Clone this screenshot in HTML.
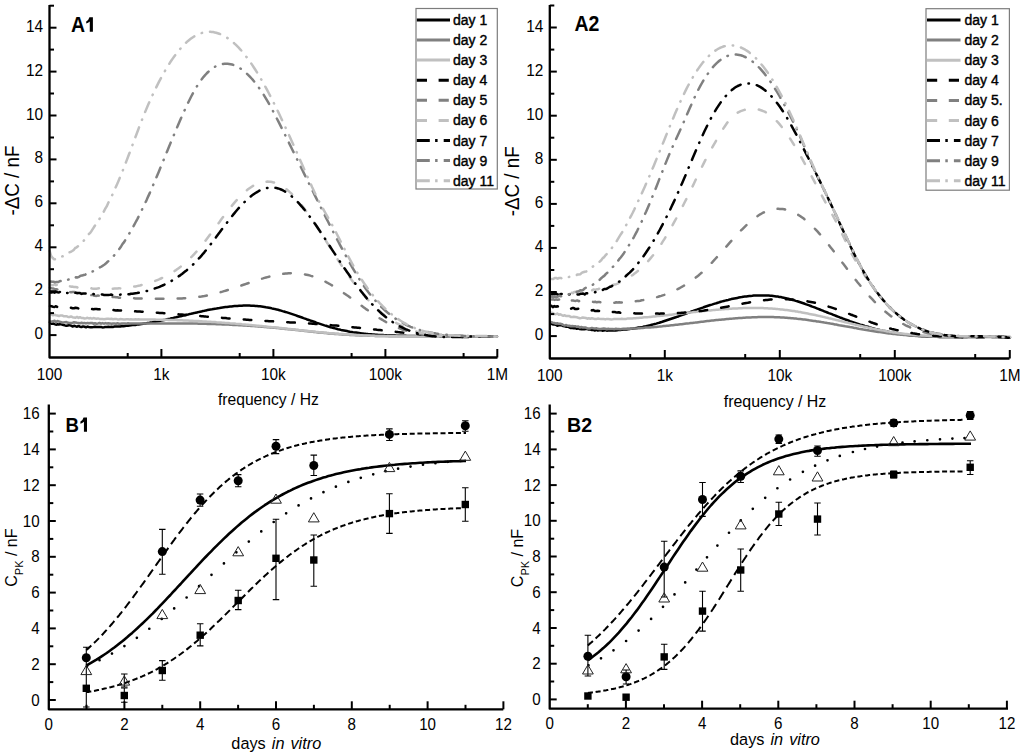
<!DOCTYPE html>
<html><head><meta charset="utf-8"><style>
html,body{margin:0;padding:0;background:#fff;}
svg{display:block;}
text{font-family:"Liberation Sans", sans-serif;}
.lg{stroke:#000; stroke-width:0.4px; paint-order:stroke;}
</style></head><body>
<svg width="1024" height="755" viewBox="0 0 1024 755" font-family='"Liberation Sans", sans-serif' fill="#000">
<rect width="1024" height="755" fill="#fff"/>
<path d="M50.0,322.4 L51.5,323.7 L53.0,323.4 L54.5,324.1 L56.0,324.7 L57.5,324.3 L59.0,324.4 L60.5,324.1 L62.0,324.5 L63.5,325.0 L65.0,325.4 L66.5,325.7 L68.0,325.4 L69.5,325.1 L71.0,325.6 L72.5,326.5 L74.0,325.8 L75.5,326.2 L77.0,326.8 L78.5,325.9 L80.0,326.7 L81.5,327.1 L83.0,326.4 L84.5,326.8 L86.0,327.3 L87.5,326.6 L89.0,327.0 L90.5,327.3 L92.0,327.2 L93.5,327.1 L95.0,326.8 L96.5,327.1 L98.0,327.0 L99.5,327.1 L101.0,327.0 L102.5,327.4 L104.0,327.3 L105.5,326.9 L107.0,327.1 L108.5,326.8 L110.0,326.9 L111.5,326.7 L113.0,326.9 L114.5,326.6 L116.0,326.6 L117.5,326.6 L119.0,326.4 L120.5,326.5 L122.0,326.0 L123.5,326.2 L125.0,325.9 L126.5,325.8 L128.0,325.7 L129.5,325.5 L131.0,325.3 L132.5,325.0 L134.0,324.9 L135.5,324.9 L137.0,324.6 L138.5,324.5 L140.0,324.3 L141.5,324.1 L143.0,323.7 L144.5,323.5 L146.0,323.4 L147.5,323.0 L149.0,322.9 L150.5,322.6 L152.0,322.4 L153.5,322.1 L155.0,321.8 L156.5,321.5 L158.0,321.2 L159.5,320.9 L161.0,320.6 L162.5,320.3 L164.0,320.0 L165.5,319.7 L167.0,319.3 L168.5,319.0 L170.0,318.7 L171.5,318.3 L173.0,318.0 L174.5,317.6 L176.0,317.3 L177.5,316.9 L179.0,316.6 L180.5,316.2 L182.0,315.9 L183.5,315.5 L185.0,315.2 L186.5,314.8 L188.0,314.5 L189.5,314.1 L191.0,313.8 L192.5,313.4 L194.0,313.1 L195.5,312.7 L197.0,312.4 L198.5,312.1 L200.0,311.7 L201.5,311.4 L203.0,311.1 L204.5,310.8 L206.0,310.4 L207.5,310.1 L209.0,309.8 L210.5,309.5 L212.0,309.3 L213.5,309.0 L215.0,308.7 L216.5,308.5 L218.0,308.2 L219.5,308.0 L221.0,307.7 L222.5,307.5 L224.0,307.3 L225.5,307.1 L227.0,306.9 L228.5,306.7 L230.0,306.5 L231.5,306.4 L233.0,306.2 L234.5,306.1 L236.0,306.0 L237.5,305.9 L239.0,305.8 L240.5,305.7 L242.0,305.7 L243.5,305.6 L245.0,305.6 L246.5,305.6 L248.0,305.6 L249.5,305.6 L251.0,305.7 L252.5,305.8 L254.0,305.8 L255.5,305.9 L257.0,306.0 L258.5,306.2 L260.0,306.3 L261.5,306.5 L263.0,306.7 L264.5,306.9 L266.0,307.2 L267.5,307.4 L269.0,307.7 L270.5,308.0 L272.0,308.4 L273.5,308.7 L275.0,309.1 L276.5,309.4 L278.0,309.8 L279.5,310.2 L281.0,310.6 L282.5,311.1 L284.0,311.5 L285.5,312.0 L287.0,312.4 L288.5,312.9 L290.0,313.4 L291.5,313.9 L293.0,314.4 L294.5,314.9 L296.0,315.4 L297.5,316.0 L299.0,316.5 L300.5,317.0 L302.0,317.5 L303.5,318.1 L305.0,318.6 L306.5,319.2 L308.0,319.7 L309.5,320.2 L311.0,320.8 L312.5,321.3 L314.0,321.8 L315.5,322.3 L317.0,322.9 L318.5,323.4 L320.0,323.9 L321.5,324.4 L323.0,324.9 L324.5,325.4 L326.0,325.8 L327.5,326.3 L329.0,326.7 L330.5,327.2 L332.0,327.6 L333.5,328.0 L335.0,328.4 L336.5,328.8 L338.0,329.2 L339.5,329.5 L341.0,329.9 L342.5,330.2 L344.0,330.5 L345.5,330.8 L347.0,331.1 L348.5,331.4 L350.0,331.7 L351.5,331.9 L353.0,332.2 L354.5,332.4 L356.0,332.6 L357.5,332.8 L359.0,333.0 L360.5,333.2 L362.0,333.4 L363.5,333.6 L365.0,333.7 L366.5,333.9 L368.0,334.1 L369.5,334.2 L371.0,334.3 L372.5,334.5 L374.0,334.6 L375.5,334.7 L377.0,334.8 L378.5,334.9 L380.0,335.0 L381.5,335.1 L383.0,335.1 L384.5,335.2 L386.0,335.3 L387.5,335.4 L389.0,335.4 L390.5,335.5 L392.0,335.5 L393.5,335.6 L395.0,335.6 L396.5,335.7 L398.0,335.7 L399.5,335.7 L401.0,335.8 L402.5,335.8 L404.0,335.8 L405.5,335.8 L407.0,335.9 L408.5,335.9 L410.0,335.9 L411.5,335.9 L413.0,335.9 L414.5,335.9 L416.0,335.9 L417.5,335.9 L419.0,335.9 L420.5,335.9 L422.0,335.9 L423.5,336.0 L425.0,336.0 L426.5,336.0 L428.0,336.0 L429.5,336.0 L431.0,336.0 L432.5,336.0 L434.0,336.0 L435.5,336.0 L437.0,336.0 L438.5,336.0 L440.0,336.0 L441.5,336.0 L443.0,336.0 L444.5,336.0 L446.0,336.0 L447.5,336.0 L449.0,336.0 L450.5,336.0 L452.0,336.0 L453.5,336.0 L455.0,336.1 L456.5,336.1 L458.0,336.1 L459.5,336.1 L461.0,336.1 L462.5,336.1 L464.0,336.2 L465.5,336.2 L467.0,336.2 L468.5,336.2 L470.0,336.2 L471.5,336.3 L473.0,336.3 L474.5,336.3 L476.0,336.3 L477.5,336.3 L479.0,336.4 L480.5,336.4 L482.0,336.4 L483.5,336.4 L485.0,336.5 L486.5,336.5 L488.0,336.5 L489.5,336.5 L491.0,336.5 L492.5,336.6 L494.0,336.6 L495.5,336.6 L497.0,336.6" fill="none" stroke="#000" stroke-width="2.5" stroke-linejoin="round" stroke-linecap="round"/>
<path d="M50.0,321.4 L51.5,321.8 L53.0,321.3 L54.5,320.7 L56.0,322.3 L57.5,321.0 L59.0,321.6 L60.5,321.9 L62.0,322.5 L63.5,322.5 L65.0,322.3 L66.5,322.1 L68.0,322.8 L69.5,322.9 L71.0,323.0 L72.5,322.9 L74.0,322.2 L75.5,322.5 L77.0,322.8 L78.5,322.9 L80.0,323.3 L81.5,322.7 L83.0,323.2 L84.5,322.9 L86.0,323.4 L87.5,322.9 L89.0,323.2 L90.5,322.9 L92.0,323.0 L93.5,323.7 L95.0,323.2 L96.5,323.7 L98.0,323.4 L99.5,323.0 L101.0,323.7 L102.5,323.1 L104.0,323.7 L105.5,323.1 L107.0,323.6 L108.5,323.3 L110.0,323.4 L111.5,323.8 L113.0,323.5 L114.5,323.6 L116.0,323.7 L117.5,323.3 L119.0,323.7 L120.5,323.8 L122.0,323.4 L123.5,323.6 L125.0,323.4 L126.5,323.7 L128.0,323.3 L129.5,323.5 L131.0,323.6 L132.5,323.6 L134.0,323.4 L135.5,323.6 L137.0,323.4 L138.5,323.6 L140.0,323.5 L141.5,323.4 L143.0,323.5 L144.5,323.5 L146.0,323.5 L147.5,323.5 L149.0,323.4 L150.5,323.4 L152.0,323.4 L153.5,323.4 L155.0,323.4 L156.5,323.4 L158.0,323.4 L159.5,323.4 L161.0,323.4 L162.5,323.4 L164.0,323.4 L165.5,323.4 L167.0,323.4 L168.5,323.4 L170.0,323.4 L171.5,323.4 L173.0,323.4 L174.5,323.4 L176.0,323.4 L177.5,323.4 L179.0,323.4 L180.5,323.4 L182.0,323.4 L183.5,323.4 L185.0,323.5 L186.5,323.5 L188.0,323.5 L189.5,323.5 L191.0,323.5 L192.5,323.6 L194.0,323.6 L195.5,323.6 L197.0,323.6 L198.5,323.7 L200.0,323.7 L201.5,323.7 L203.0,323.8 L204.5,323.8 L206.0,323.8 L207.5,323.9 L209.0,323.9 L210.5,324.0 L212.0,324.0 L213.5,324.1 L215.0,324.1 L216.5,324.2 L218.0,324.2 L219.5,324.3 L221.0,324.3 L222.5,324.4 L224.0,324.4 L225.5,324.5 L227.0,324.6 L228.5,324.6 L230.0,324.7 L231.5,324.8 L233.0,324.9 L234.5,324.9 L236.0,325.0 L237.5,325.1 L239.0,325.2 L240.5,325.3 L242.0,325.3 L243.5,325.4 L245.0,325.5 L246.5,325.6 L248.0,325.7 L249.5,325.8 L251.0,325.9 L252.5,326.0 L254.0,326.1 L255.5,326.2 L257.0,326.3 L258.5,326.4 L260.0,326.5 L261.5,326.7 L263.0,326.8 L264.5,326.9 L266.0,327.0 L267.5,327.2 L269.0,327.3 L270.5,327.4 L272.0,327.5 L273.5,327.7 L275.0,327.8 L276.5,328.0 L278.0,328.1 L279.5,328.3 L281.0,328.4 L282.5,328.6 L284.0,328.7 L285.5,328.9 L287.0,329.0 L288.5,329.2 L290.0,329.3 L291.5,329.5 L293.0,329.7 L294.5,329.8 L296.0,330.0 L297.5,330.1 L299.0,330.3 L300.5,330.5 L302.0,330.6 L303.5,330.8 L305.0,331.0 L306.5,331.1 L308.0,331.3 L309.5,331.4 L311.0,331.6 L312.5,331.8 L314.0,331.9 L315.5,332.1 L317.0,332.2 L318.5,332.4 L320.0,332.5 L321.5,332.7 L323.0,332.8 L324.5,333.0 L326.0,333.1 L327.5,333.2 L329.0,333.4 L330.5,333.5 L332.0,333.6 L333.5,333.7 L335.0,333.9 L336.5,334.0 L338.0,334.1 L339.5,334.2 L341.0,334.3 L342.5,334.4 L344.0,334.5 L345.5,334.6 L347.0,334.7 L348.5,334.8 L350.0,334.9 L351.5,334.9 L353.0,335.0 L354.5,335.1 L356.0,335.2 L357.5,335.2 L359.0,335.3 L360.5,335.4 L362.0,335.4 L363.5,335.5 L365.0,335.6 L366.5,335.6 L368.0,335.7 L369.5,335.7 L371.0,335.8 L372.5,335.8 L374.0,335.8 L375.5,335.9 L377.0,335.9 L378.5,336.0 L380.0,336.0 L381.5,336.0 L383.0,336.1 L384.5,336.1 L386.0,336.1 L387.5,336.1 L389.0,336.2 L390.5,336.2 L392.0,336.2 L393.5,336.2 L395.0,336.2 L396.5,336.2 L398.0,336.3 L399.5,336.3 L401.0,336.3 L402.5,336.3 L404.0,336.3 L405.5,336.3 L407.0,336.3 L408.5,336.3 L410.0,336.3 L411.5,336.3 L413.0,336.3 L414.5,336.3 L416.0,336.3 L417.5,336.3 L419.0,336.3 L420.5,336.3 L422.0,336.3 L423.5,336.3 L425.0,336.3 L426.5,336.3 L428.0,336.3 L429.5,336.3 L431.0,336.3 L432.5,336.3 L434.0,336.3 L435.5,336.3 L437.0,336.3 L438.5,336.3 L440.0,336.3 L441.5,336.3 L443.0,336.3 L444.5,336.3 L446.0,336.2 L447.5,336.2 L449.0,336.2 L450.5,336.2 L452.0,336.2 L453.5,336.2 L455.0,336.2 L456.5,336.2 L458.0,336.2 L459.5,336.2 L461.0,336.2 L462.5,336.2 L464.0,336.2 L465.5,336.2 L467.0,336.3 L468.5,336.3 L470.0,336.3 L471.5,336.3 L473.0,336.3 L474.5,336.3 L476.0,336.3 L477.5,336.3 L479.0,336.3 L480.5,336.4 L482.0,336.4 L483.5,336.4 L485.0,336.4 L486.5,336.5 L488.0,336.5 L489.5,336.5 L491.0,336.5 L492.5,336.6 L494.0,336.6 L495.5,336.6 L497.0,336.7" fill="none" stroke="#808080" stroke-width="2.5" stroke-linejoin="round" stroke-linecap="round"/>
<path d="M50.0,313.7 L51.5,314.5 L53.0,315.3 L54.5,314.7 L56.0,315.2 L57.5,315.5 L59.0,316.1 L60.5,315.4 L62.0,315.4 L63.5,316.2 L65.0,316.2 L66.5,316.2 L68.0,317.0 L69.5,317.0 L71.0,316.5 L72.5,317.2 L74.0,317.6 L75.5,317.8 L77.0,316.9 L78.5,317.9 L80.0,317.2 L81.5,318.0 L83.0,318.0 L84.5,318.5 L86.0,318.2 L87.5,317.8 L89.0,318.4 L90.5,318.1 L92.0,318.7 L93.5,318.1 L95.0,318.4 L96.5,318.8 L98.0,318.4 L99.5,318.9 L101.0,318.9 L102.5,319.0 L104.0,319.2 L105.5,318.9 L107.0,318.7 L108.5,318.8 L110.0,319.0 L111.5,318.8 L113.0,319.2 L114.5,318.9 L116.0,318.9 L117.5,319.4 L119.0,319.4 L120.5,319.1 L122.0,319.2 L123.5,319.4 L125.0,319.4 L126.5,319.2 L128.0,319.3 L129.5,319.5 L131.0,319.2 L132.5,319.6 L134.0,319.4 L135.5,319.3 L137.0,319.5 L138.5,319.3 L140.0,319.4 L141.5,319.5 L143.0,319.4 L144.5,319.6 L146.0,319.5 L147.5,319.5 L149.0,319.5 L150.5,319.5 L152.0,319.6 L153.5,319.6 L155.0,319.6 L156.5,319.7 L158.0,319.7 L159.5,319.7 L161.0,319.7 L162.5,319.7 L164.0,319.8 L165.5,319.8 L167.0,319.8 L168.5,319.9 L170.0,319.9 L171.5,320.0 L173.0,320.0 L174.5,320.1 L176.0,320.1 L177.5,320.2 L179.0,320.2 L180.5,320.3 L182.0,320.3 L183.5,320.4 L185.0,320.5 L186.5,320.5 L188.0,320.6 L189.5,320.7 L191.0,320.7 L192.5,320.8 L194.0,320.9 L195.5,321.0 L197.0,321.0 L198.5,321.1 L200.0,321.2 L201.5,321.3 L203.0,321.4 L204.5,321.5 L206.0,321.6 L207.5,321.7 L209.0,321.7 L210.5,321.8 L212.0,321.9 L213.5,322.0 L215.0,322.1 L216.5,322.3 L218.0,322.4 L219.5,322.5 L221.0,322.6 L222.5,322.7 L224.0,322.8 L225.5,322.9 L227.0,323.0 L228.5,323.1 L230.0,323.3 L231.5,323.4 L233.0,323.5 L234.5,323.6 L236.0,323.8 L237.5,323.9 L239.0,324.0 L240.5,324.1 L242.0,324.3 L243.5,324.4 L245.0,324.5 L246.5,324.7 L248.0,324.8 L249.5,325.0 L251.0,325.1 L252.5,325.2 L254.0,325.4 L255.5,325.5 L257.0,325.7 L258.5,325.8 L260.0,326.0 L261.5,326.1 L263.0,326.3 L264.5,326.4 L266.0,326.6 L267.5,326.7 L269.0,326.9 L270.5,327.0 L272.0,327.2 L273.5,327.3 L275.0,327.5 L276.5,327.6 L278.0,327.8 L279.5,328.0 L281.0,328.1 L282.5,328.3 L284.0,328.5 L285.5,328.6 L287.0,328.8 L288.5,328.9 L290.0,329.1 L291.5,329.3 L293.0,329.4 L294.5,329.6 L296.0,329.8 L297.5,329.9 L299.0,330.1 L300.5,330.2 L302.0,330.4 L303.5,330.6 L305.0,330.7 L306.5,330.9 L308.0,331.0 L309.5,331.2 L311.0,331.3 L312.5,331.5 L314.0,331.6 L315.5,331.8 L317.0,331.9 L318.5,332.1 L320.0,332.2 L321.5,332.4 L323.0,332.5 L324.5,332.7 L326.0,332.8 L327.5,332.9 L329.0,333.1 L330.5,333.2 L332.0,333.3 L333.5,333.4 L335.0,333.6 L336.5,333.7 L338.0,333.8 L339.5,333.9 L341.0,334.0 L342.5,334.1 L344.0,334.2 L345.5,334.3 L347.0,334.4 L348.5,334.5 L350.0,334.6 L351.5,334.7 L353.0,334.8 L354.5,334.9 L356.0,335.0 L357.5,335.1 L359.0,335.1 L360.5,335.2 L362.0,335.3 L363.5,335.4 L365.0,335.4 L366.5,335.5 L368.0,335.6 L369.5,335.6 L371.0,335.7 L372.5,335.8 L374.0,335.8 L375.5,335.9 L377.0,335.9 L378.5,336.0 L380.0,336.0 L381.5,336.0 L383.0,336.1 L384.5,336.1 L386.0,336.2 L387.5,336.2 L389.0,336.2 L390.5,336.2 L392.0,336.3 L393.5,336.3 L395.0,336.3 L396.5,336.3 L398.0,336.4 L399.5,336.4 L401.0,336.4 L402.5,336.4 L404.0,336.4 L405.5,336.4 L407.0,336.4 L408.5,336.4 L410.0,336.4 L411.5,336.4 L413.0,336.5 L414.5,336.5 L416.0,336.5 L417.5,336.5 L419.0,336.5 L420.5,336.5 L422.0,336.4 L423.5,336.4 L425.0,336.4 L426.5,336.4 L428.0,336.4 L429.5,336.4 L431.0,336.4 L432.5,336.4 L434.0,336.4 L435.5,336.4 L437.0,336.4 L438.5,336.4 L440.0,336.4 L441.5,336.4 L443.0,336.3 L444.5,336.3 L446.0,336.3 L447.5,336.3 L449.0,336.3 L450.5,336.3 L452.0,336.3 L453.5,336.3 L455.0,336.3 L456.5,336.3 L458.0,336.3 L459.5,336.3 L461.0,336.3 L462.5,336.3 L464.0,336.3 L465.5,336.3 L467.0,336.3 L468.5,336.3 L470.0,336.3 L471.5,336.3 L473.0,336.3 L474.5,336.3 L476.0,336.3 L477.5,336.3 L479.0,336.3 L480.5,336.3 L482.0,336.3 L483.5,336.4 L485.0,336.4 L486.5,336.4 L488.0,336.4 L489.5,336.4 L491.0,336.5 L492.5,336.5 L494.0,336.5 L495.5,336.5 L497.0,336.6" fill="none" stroke="#c0c0c0" stroke-width="2.5" stroke-linejoin="round" stroke-linecap="round"/>
<path d="M50.0,306.1 L51.5,306.3 L53.0,306.7 L54.5,307.0 L56.0,306.2 L57.5,307.1 L59.0,307.4 L60.5,307.5 L62.0,307.1 L63.5,307.7 L65.0,307.4 L66.5,307.1 L68.0,307.3 L69.5,307.8 L71.0,307.8 L72.5,308.2 L74.0,308.2 L75.5,307.7 L77.0,308.0 L78.5,308.5 L80.0,308.2 L81.5,308.1 L83.0,308.9 L84.5,308.5 L86.0,308.4 L87.5,308.7 L89.0,308.6 L90.5,308.6 L92.0,309.1 L93.5,309.3 L95.0,309.0 L96.5,308.9 L98.0,309.2 L99.5,309.3 L101.0,309.4 L102.5,309.3 L104.0,309.8 L105.5,309.5 L107.0,309.4 L108.5,310.0 L110.0,310.1 L111.5,309.8 L113.0,309.9 L114.5,310.2 L116.0,310.5 L117.5,310.2 L119.0,310.4 L120.5,310.4 L122.0,310.7 L123.5,310.6 L125.0,310.7 L126.5,310.9 L128.0,310.9 L129.5,310.9 L131.0,311.0 L132.5,311.3 L134.0,311.4 L135.5,311.3 L137.0,311.5 L138.5,311.4 L140.0,311.6 L141.5,311.8 L143.0,311.7 L144.5,312.0 L146.0,312.1 L147.5,312.1 L149.0,312.2 L150.5,312.2 L152.0,312.4 L153.5,312.5 L155.0,312.6 L156.5,312.7 L158.0,312.8 L159.5,312.9 L161.0,313.0 L162.5,313.1 L164.0,313.2 L165.5,313.3 L167.0,313.5 L168.5,313.6 L170.0,313.7 L171.5,313.8 L173.0,313.9 L174.5,314.0 L176.0,314.1 L177.5,314.3 L179.0,314.4 L180.5,314.5 L182.0,314.6 L183.5,314.7 L185.0,314.9 L186.5,315.0 L188.0,315.1 L189.5,315.2 L191.0,315.3 L192.5,315.5 L194.0,315.6 L195.5,315.7 L197.0,315.8 L198.5,315.9 L200.0,316.1 L201.5,316.2 L203.0,316.3 L204.5,316.4 L206.0,316.6 L207.5,316.7 L209.0,316.8 L210.5,316.9 L212.0,317.1 L213.5,317.2 L215.0,317.3 L216.5,317.4 L218.0,317.5 L219.5,317.7 L221.0,317.8 L222.5,317.9 L224.0,318.0 L225.5,318.1 L227.0,318.3 L228.5,318.4 L230.0,318.5 L231.5,318.6 L233.0,318.7 L234.5,318.8 L236.0,318.9 L237.5,319.1 L239.0,319.2 L240.5,319.3 L242.0,319.4 L243.5,319.5 L245.0,319.6 L246.5,319.7 L248.0,319.8 L249.5,319.9 L251.0,320.0 L252.5,320.1 L254.0,320.2 L255.5,320.3 L257.0,320.4 L258.5,320.5 L260.0,320.6 L261.5,320.7 L263.0,320.8 L264.5,320.9 L266.0,321.0 L267.5,321.1 L269.0,321.2 L270.5,321.3 L272.0,321.3 L273.5,321.4 L275.0,321.5 L276.5,321.6 L278.0,321.7 L279.5,321.8 L281.0,321.8 L282.5,321.9 L284.0,322.0 L285.5,322.1 L287.0,322.2 L288.5,322.3 L290.0,322.4 L291.5,322.4 L293.0,322.5 L294.5,322.6 L296.0,322.7 L297.5,322.8 L299.0,322.9 L300.5,323.0 L302.0,323.1 L303.5,323.2 L305.0,323.2 L306.5,323.3 L308.0,323.4 L309.5,323.5 L311.0,323.6 L312.5,323.7 L314.0,323.8 L315.5,324.0 L317.0,324.1 L318.5,324.2 L320.0,324.3 L321.5,324.4 L323.0,324.5 L324.5,324.6 L326.0,324.8 L327.5,324.9 L329.0,325.0 L330.5,325.1 L332.0,325.3 L333.5,325.4 L335.0,325.5 L336.5,325.6 L338.0,325.8 L339.5,325.9 L341.0,326.1 L342.5,326.2 L344.0,326.3 L345.5,326.5 L347.0,326.6 L348.5,326.8 L350.0,326.9 L351.5,327.1 L353.0,327.2 L354.5,327.4 L356.0,327.5 L357.5,327.7 L359.0,327.8 L360.5,328.0 L362.0,328.1 L363.5,328.3 L365.0,328.5 L366.5,328.6 L368.0,328.8 L369.5,328.9 L371.0,329.1 L372.5,329.3 L374.0,329.4 L375.5,329.6 L377.0,329.8 L378.5,329.9 L380.0,330.1 L381.5,330.3 L383.0,330.4 L384.5,330.6 L386.0,330.8 L387.5,330.9 L389.0,331.1 L390.5,331.3 L392.0,331.4 L393.5,331.6 L395.0,331.8 L396.5,331.9 L398.0,332.1 L399.5,332.2 L401.0,332.4 L402.5,332.6 L404.0,332.7 L405.5,332.9 L407.0,333.0 L408.5,333.2 L410.0,333.4 L411.5,333.5 L413.0,333.7 L414.5,333.8 L416.0,333.9 L417.5,334.1 L419.0,334.2 L420.5,334.4 L422.0,334.5 L423.5,334.6 L425.0,334.8 L426.5,334.9 L428.0,335.0 L429.5,335.2 L431.0,335.3 L432.5,335.4 L434.0,335.5 L435.5,335.6 L437.0,335.7 L438.5,335.8 L440.0,335.9 L441.5,336.0 L443.0,336.1 L444.5,336.2 L446.0,336.3 L447.5,336.3 L449.0,336.4 L450.5,336.5 L452.0,336.6 L453.5,336.6 L455.0,336.7 L456.5,336.7 L458.0,336.8 L459.5,336.8 L461.0,336.8 L462.5,336.9 L464.0,336.9 L465.5,336.9 L467.0,336.9 L468.5,336.9 L470.0,336.9 L471.5,336.9 L473.0,336.9 L474.5,336.9 L476.0,336.9 L477.5,336.8 L479.0,336.8 L480.5,336.7 L482.0,336.7 L483.5,336.6 L485.0,336.6 L486.5,336.5 L488.0,336.4 L489.5,336.3 L491.0,336.2 L492.5,336.1 L494.0,336.0 L495.5,335.9 L497.0,335.8" fill="none" stroke="#000" stroke-width="2.5" stroke-dasharray="7.6 14.2" stroke-linejoin="round" stroke-linecap="round"/>
<path d="M50.0,287.7 L51.5,288.2 L53.0,288.5 L54.5,288.9 L56.0,289.2 L57.5,289.6 L59.0,289.4 L60.5,290.5 L62.0,290.2 L63.5,290.2 L65.0,291.5 L66.5,290.8 L68.0,291.3 L69.5,291.9 L71.0,292.3 L72.5,292.0 L74.0,291.9 L75.5,292.8 L77.0,293.1 L78.5,293.5 L80.0,293.2 L81.5,294.0 L83.0,294.2 L84.5,294.5 L86.0,294.6 L87.5,294.7 L89.0,294.8 L90.5,295.3 L92.0,294.9 L93.5,295.4 L95.0,295.7 L96.5,295.9 L98.0,295.5 L99.5,295.8 L101.0,296.5 L102.5,296.5 L104.0,296.1 L105.5,296.5 L107.0,296.9 L108.5,297.1 L110.0,296.9 L111.5,296.8 L113.0,297.0 L114.5,297.0 L116.0,297.2 L117.5,297.2 L119.0,297.7 L120.5,297.8 L122.0,297.7 L123.5,298.0 L125.0,297.7 L126.5,297.8 L128.0,298.1 L129.5,298.1 L131.0,298.0 L132.5,298.4 L134.0,298.3 L135.5,298.4 L137.0,298.4 L138.5,298.5 L140.0,298.4 L141.5,298.5 L143.0,298.6 L144.5,298.6 L146.0,298.6 L147.5,298.6 L149.0,298.7 L150.5,298.8 L152.0,298.8 L153.5,298.8 L155.0,298.7 L156.5,298.8 L158.0,298.8 L159.5,298.8 L161.0,298.8 L162.5,298.8 L164.0,298.8 L165.5,298.8 L167.0,298.8 L168.5,298.8 L170.0,298.8 L171.5,298.8 L173.0,298.7 L174.5,298.7 L176.0,298.7 L177.5,298.6 L179.0,298.6 L180.5,298.5 L182.0,298.4 L183.5,298.3 L185.0,298.3 L186.5,298.2 L188.0,298.0 L189.5,297.9 L191.0,297.8 L192.5,297.6 L194.0,297.5 L195.5,297.3 L197.0,297.1 L198.5,296.9 L200.0,296.7 L201.5,296.5 L203.0,296.2 L204.5,296.0 L206.0,295.7 L207.5,295.4 L209.0,295.1 L210.5,294.7 L212.0,294.4 L213.5,294.0 L215.0,293.7 L216.5,293.3 L218.0,292.9 L219.5,292.4 L221.0,292.0 L222.5,291.6 L224.0,291.1 L225.5,290.7 L227.0,290.2 L228.5,289.8 L230.0,289.3 L231.5,288.8 L233.0,288.3 L234.5,287.8 L236.0,287.3 L237.5,286.8 L239.0,286.3 L240.5,285.8 L242.0,285.3 L243.5,284.8 L245.0,284.3 L246.5,283.7 L248.0,283.2 L249.5,282.7 L251.0,282.2 L252.5,281.7 L254.0,281.2 L255.5,280.7 L257.0,280.2 L258.5,279.8 L260.0,279.3 L261.5,278.8 L263.0,278.4 L264.5,277.9 L266.0,277.5 L267.5,277.1 L269.0,276.7 L270.5,276.3 L272.0,275.9 L273.5,275.6 L275.0,275.3 L276.5,275.0 L278.0,274.7 L279.5,274.4 L281.0,274.2 L282.5,273.9 L284.0,273.8 L285.5,273.6 L287.0,273.5 L288.5,273.3 L290.0,273.3 L291.5,273.2 L293.0,273.2 L294.5,273.2 L296.0,273.3 L297.5,273.4 L299.0,273.5 L300.5,273.6 L302.0,273.8 L303.5,274.1 L305.0,274.4 L306.5,274.7 L308.0,275.0 L309.5,275.4 L311.0,275.9 L312.5,276.3 L314.0,276.8 L315.5,277.4 L317.0,277.9 L318.5,278.5 L320.0,279.2 L321.5,279.8 L323.0,280.5 L324.5,281.3 L326.0,282.0 L327.5,282.8 L329.0,283.7 L330.5,284.5 L332.0,285.4 L333.5,286.3 L335.0,287.2 L336.5,288.2 L338.0,289.1 L339.5,290.1 L341.0,291.1 L342.5,292.1 L344.0,293.2 L345.5,294.2 L347.0,295.3 L348.5,296.3 L350.0,297.4 L351.5,298.5 L353.0,299.6 L354.5,300.7 L356.0,301.7 L357.5,302.8 L359.0,303.9 L360.5,305.0 L362.0,306.1 L363.5,307.2 L365.0,308.3 L366.5,309.4 L368.0,310.4 L369.5,311.5 L371.0,312.5 L372.5,313.5 L374.0,314.6 L375.5,315.6 L377.0,316.5 L378.5,317.5 L380.0,318.5 L381.5,319.4 L383.0,320.3 L384.5,321.2 L386.0,322.0 L387.5,322.8 L389.0,323.6 L390.5,324.4 L392.0,325.1 L393.5,325.8 L395.0,326.5 L396.5,327.2 L398.0,327.8 L399.5,328.4 L401.0,328.9 L402.5,329.5 L404.0,330.0 L405.5,330.5 L407.0,330.9 L408.5,331.4 L410.0,331.8 L411.5,332.2 L413.0,332.6 L414.5,332.9 L416.0,333.2 L417.5,333.6 L419.0,333.8 L420.5,334.1 L422.0,334.4 L423.5,334.6 L425.0,334.8 L426.5,335.0 L428.0,335.2 L429.5,335.4 L431.0,335.5 L432.5,335.7 L434.0,335.8 L435.5,335.9 L437.0,336.0 L438.5,336.1 L440.0,336.2 L441.5,336.2 L443.0,336.3 L444.5,336.4 L446.0,336.4 L447.5,336.4 L449.0,336.4 L450.5,336.5 L452.0,336.5 L453.5,336.5 L455.0,336.5 L456.5,336.5 L458.0,336.4 L459.5,336.4 L461.0,336.4 L462.5,336.4 L464.0,336.4 L465.5,336.4 L467.0,336.3 L468.5,336.3 L470.0,336.3 L471.5,336.3 L473.0,336.2 L474.5,336.2 L476.0,336.2 L477.5,336.2 L479.0,336.2 L480.5,336.2 L482.0,336.2 L483.5,336.2 L485.0,336.2 L486.5,336.2 L488.0,336.3 L489.5,336.3 L491.0,336.4 L492.5,336.4 L494.0,336.5 L495.5,336.6 L497.0,336.7" fill="none" stroke="#808080" stroke-width="2.5" stroke-dasharray="7.6 14.2" stroke-linejoin="round" stroke-linecap="round"/>
<path d="M50.0,284.2 L51.5,285.1 L53.0,285.2 L54.5,284.3 L56.0,285.2 L57.5,284.6 L59.0,285.9 L60.5,285.1 L62.0,285.7 L63.5,285.7 L65.0,285.9 L66.5,285.7 L68.0,286.1 L69.5,286.1 L71.0,286.7 L72.5,286.6 L74.0,287.0 L75.5,287.0 L77.0,287.3 L78.5,287.8 L80.0,287.5 L81.5,287.6 L83.0,287.8 L84.5,287.9 L86.0,287.8 L87.5,287.8 L89.0,288.2 L90.5,288.0 L92.0,288.5 L93.5,288.8 L95.0,288.8 L96.5,288.8 L98.0,288.4 L99.5,288.3 L101.0,288.5 L102.5,288.8 L104.0,288.5 L105.5,288.5 L107.0,289.2 L108.5,288.7 L110.0,288.5 L111.5,288.8 L113.0,288.8 L114.5,288.6 L116.0,288.4 L117.5,288.5 L119.0,288.2 L120.5,288.4 L122.0,288.4 L123.5,287.8 L125.0,287.9 L126.5,287.9 L128.0,287.6 L129.5,287.2 L131.0,287.0 L132.5,286.9 L134.0,286.5 L135.5,286.5 L137.0,286.1 L138.5,285.7 L140.0,285.5 L141.5,285.0 L143.0,284.7 L144.5,284.3 L146.0,283.9 L147.5,283.6 L149.0,283.1 L150.5,282.5 L152.0,282.1 L153.5,281.5 L155.0,281.0 L156.5,280.4 L158.0,279.8 L159.5,279.2 L161.0,278.5 L162.5,277.8 L164.0,277.1 L165.5,276.4 L167.0,275.6 L168.5,274.7 L170.0,273.9 L171.5,273.0 L173.0,272.0 L174.5,271.1 L176.0,270.1 L177.5,269.0 L179.0,267.9 L180.5,266.8 L182.0,265.6 L183.5,264.3 L185.0,263.0 L186.5,261.7 L188.0,260.3 L189.5,258.9 L191.0,257.4 L192.5,255.9 L194.0,254.3 L195.5,252.7 L197.0,251.0 L198.5,249.3 L200.0,247.5 L201.5,245.7 L203.0,243.8 L204.5,241.9 L206.0,240.0 L207.5,238.0 L209.0,236.0 L210.5,234.0 L212.0,232.0 L213.5,230.0 L215.0,228.0 L216.5,225.9 L218.0,223.9 L219.5,221.9 L221.0,219.8 L222.5,217.8 L224.0,215.8 L225.5,213.9 L227.0,211.9 L228.5,210.0 L230.0,208.1 L231.5,206.2 L233.0,204.4 L234.5,202.6 L236.0,200.9 L237.5,199.3 L239.0,197.6 L240.5,196.1 L242.0,194.6 L243.5,193.2 L245.0,191.8 L246.5,190.5 L248.0,189.3 L249.5,188.2 L251.0,187.2 L252.5,186.2 L254.0,185.4 L255.5,184.6 L257.0,183.9 L258.5,183.3 L260.0,182.8 L261.5,182.4 L263.0,182.1 L264.5,181.8 L266.0,181.7 L267.5,181.6 L269.0,181.7 L270.5,181.8 L272.0,182.1 L273.5,182.4 L275.0,182.8 L276.5,183.3 L278.0,183.9 L279.5,184.7 L281.0,185.5 L282.5,186.4 L284.0,187.4 L285.5,188.5 L287.0,189.7 L288.5,190.9 L290.0,192.3 L291.5,193.7 L293.0,195.2 L294.5,196.8 L296.0,198.4 L297.5,200.1 L299.0,201.9 L300.5,203.7 L302.0,205.6 L303.5,207.5 L305.0,209.5 L306.5,211.6 L308.0,213.6 L309.5,215.7 L311.0,217.9 L312.5,220.1 L314.0,222.3 L315.5,224.6 L317.0,226.8 L318.5,229.1 L320.0,231.4 L321.5,233.8 L323.0,236.1 L324.5,238.5 L326.0,240.9 L327.5,243.3 L329.0,245.7 L330.5,248.1 L332.0,250.5 L333.5,252.9 L335.0,255.3 L336.5,257.6 L338.0,260.0 L339.5,262.3 L341.0,264.6 L342.5,266.9 L344.0,269.1 L345.5,271.4 L347.0,273.5 L348.5,275.6 L350.0,277.7 L351.5,279.8 L353.0,281.8 L354.5,283.7 L356.0,285.7 L357.5,287.5 L359.0,289.4 L360.5,291.2 L362.0,293.0 L363.5,294.7 L365.0,296.4 L366.5,298.1 L368.0,299.8 L369.5,301.4 L371.0,302.9 L372.5,304.4 L374.0,305.9 L375.5,307.4 L377.0,308.8 L378.5,310.1 L380.0,311.4 L381.5,312.7 L383.0,313.9 L384.5,315.1 L386.0,316.2 L387.5,317.3 L389.0,318.3 L390.5,319.4 L392.0,320.3 L393.5,321.3 L395.0,322.2 L396.5,323.1 L398.0,323.9 L399.5,324.7 L401.0,325.5 L402.5,326.2 L404.0,326.9 L405.5,327.6 L407.0,328.2 L408.5,328.8 L410.0,329.4 L411.5,329.9 L413.0,330.4 L414.5,330.9 L416.0,331.4 L417.5,331.9 L419.0,332.3 L420.5,332.7 L422.0,333.0 L423.5,333.4 L425.0,333.7 L426.5,334.0 L428.0,334.3 L429.5,334.5 L431.0,334.8 L432.5,335.0 L434.0,335.2 L435.5,335.4 L437.0,335.5 L438.5,335.7 L440.0,335.8 L441.5,335.9 L443.0,336.1 L444.5,336.1 L446.0,336.2 L447.5,336.3 L449.0,336.4 L450.5,336.4 L452.0,336.4 L453.5,336.5 L455.0,336.5 L456.5,336.5 L458.0,336.5 L459.5,336.5 L461.0,336.5 L462.5,336.5 L464.0,336.5 L465.5,336.5 L467.0,336.4 L468.5,336.4 L470.0,336.4 L471.5,336.4 L473.0,336.3 L474.5,336.3 L476.0,336.3 L477.5,336.3 L479.0,336.2 L480.5,336.2 L482.0,336.2 L483.5,336.2 L485.0,336.2 L486.5,336.2 L488.0,336.2 L489.5,336.3 L491.0,336.3 L492.5,336.3 L494.0,336.4 L495.5,336.4 L497.0,336.5" fill="none" stroke="#c0c0c0" stroke-width="2.5" stroke-dasharray="7.6 14.2" stroke-linejoin="round" stroke-linecap="round"/>
<path d="M50.0,292.5 L51.5,292.6 L53.0,292.1 L54.5,292.7 L56.0,291.9 L57.5,292.3 L59.0,292.4 L60.5,291.7 L62.0,292.8 L63.5,292.5 L65.0,292.0 L66.5,293.0 L68.0,292.9 L69.5,293.2 L71.0,293.0 L72.5,292.8 L74.0,293.3 L75.5,292.8 L77.0,293.0 L78.5,293.0 L80.0,293.1 L81.5,293.9 L83.0,293.5 L84.5,293.6 L86.0,293.6 L87.5,293.6 L89.0,293.6 L90.5,294.4 L92.0,294.3 L93.5,294.1 L95.0,294.3 L96.5,294.6 L98.0,294.3 L99.5,294.3 L101.0,294.5 L102.5,294.6 L104.0,294.9 L105.5,295.0 L107.0,295.0 L108.5,294.9 L110.0,294.8 L111.5,294.6 L113.0,295.1 L114.5,295.0 L116.0,294.8 L117.5,294.9 L119.0,295.0 L120.5,294.6 L122.0,294.6 L123.5,294.8 L125.0,294.3 L126.5,294.2 L128.0,294.4 L129.5,294.2 L131.0,293.7 L132.5,293.7 L134.0,293.5 L135.5,293.3 L137.0,293.1 L138.5,292.8 L140.0,292.5 L141.5,292.2 L143.0,291.8 L144.5,291.5 L146.0,291.1 L147.5,290.9 L149.0,290.4 L150.5,289.9 L152.0,289.5 L153.5,288.9 L155.0,288.4 L156.5,287.9 L158.0,287.4 L159.5,286.8 L161.0,286.1 L162.5,285.5 L164.0,284.8 L165.5,284.1 L167.0,283.3 L168.5,282.6 L170.0,281.7 L171.5,280.9 L173.0,280.0 L174.5,279.1 L176.0,278.2 L177.5,277.2 L179.0,276.1 L180.5,275.1 L182.0,274.0 L183.5,272.8 L185.0,271.6 L186.5,270.4 L188.0,269.1 L189.5,267.8 L191.0,266.5 L192.5,265.1 L194.0,263.6 L195.5,262.1 L197.0,260.5 L198.5,258.9 L200.0,257.3 L201.5,255.6 L203.0,253.8 L204.5,252.1 L206.0,250.2 L207.5,248.3 L209.0,246.4 L210.5,244.5 L212.0,242.6 L213.5,240.6 L215.0,238.6 L216.5,236.6 L218.0,234.6 L219.5,232.6 L221.0,230.5 L222.5,228.5 L224.0,226.5 L225.5,224.5 L227.0,222.6 L228.5,220.6 L230.0,218.7 L231.5,216.8 L233.0,214.9 L234.5,213.1 L236.0,211.3 L237.5,209.5 L239.0,207.8 L240.5,206.2 L242.0,204.6 L243.5,203.0 L245.0,201.6 L246.5,200.1 L248.0,198.8 L249.5,197.5 L251.0,196.2 L252.5,195.1 L254.0,194.0 L255.5,193.0 L257.0,192.1 L258.5,191.2 L260.0,190.4 L261.5,189.7 L263.0,189.1 L264.5,188.6 L266.0,188.2 L267.5,187.9 L269.0,187.7 L270.5,187.5 L272.0,187.5 L273.5,187.6 L275.0,187.8 L276.5,188.1 L278.0,188.4 L279.5,188.9 L281.0,189.5 L282.5,190.2 L284.0,191.0 L285.5,191.8 L287.0,192.8 L288.5,193.8 L290.0,195.0 L291.5,196.2 L293.0,197.5 L294.5,198.8 L296.0,200.3 L297.5,201.8 L299.0,203.4 L300.5,205.1 L302.0,206.8 L303.5,208.6 L305.0,210.4 L306.5,212.3 L308.0,214.3 L309.5,216.3 L311.0,218.3 L312.5,220.4 L314.0,222.5 L315.5,224.6 L317.0,226.8 L318.5,229.0 L320.0,231.3 L321.5,233.5 L323.0,235.8 L324.5,238.0 L326.0,240.3 L327.5,242.6 L329.0,244.9 L330.5,247.2 L332.0,249.6 L333.5,251.9 L335.0,254.1 L336.5,256.4 L338.0,258.7 L339.5,260.9 L341.0,263.2 L342.5,265.4 L344.0,267.6 L345.5,269.8 L347.0,272.0 L348.5,274.1 L350.0,276.3 L351.5,278.4 L353.0,280.5 L354.5,282.5 L356.0,284.5 L357.5,286.5 L359.0,288.5 L360.5,290.4 L362.0,292.4 L363.5,294.2 L365.0,296.1 L366.5,297.9 L368.0,299.6 L369.5,301.3 L371.0,303.0 L372.5,304.6 L374.0,306.2 L375.5,307.8 L377.0,309.3 L378.5,310.7 L380.0,312.1 L381.5,313.5 L383.0,314.8 L384.5,316.0 L386.0,317.2 L387.5,318.4 L389.0,319.5 L390.5,320.6 L392.0,321.6 L393.5,322.6 L395.0,323.6 L396.5,324.5 L398.0,325.3 L399.5,326.2 L401.0,326.9 L402.5,327.7 L404.0,328.4 L405.5,329.1 L407.0,329.7 L408.5,330.3 L410.0,330.9 L411.5,331.5 L413.0,332.0 L414.5,332.5 L416.0,332.9 L417.5,333.3 L419.0,333.7 L420.5,334.1 L422.0,334.4 L423.5,334.8 L425.0,335.1 L426.5,335.3 L428.0,335.6 L429.5,335.8 L431.0,336.0 L432.5,336.2 L434.0,336.3 L435.5,336.5 L437.0,336.6 L438.5,336.7 L440.0,336.8 L441.5,336.9 L443.0,337.0 L444.5,337.0 L446.0,337.0 L447.5,337.1 L449.0,337.1 L450.5,337.1 L452.0,337.1 L453.5,337.1 L455.0,337.1 L456.5,337.0 L458.0,337.0 L459.5,337.0 L461.0,336.9 L462.5,336.9 L464.0,336.8 L465.5,336.8 L467.0,336.7 L468.5,336.7 L470.0,336.6 L471.5,336.6 L473.0,336.5 L474.5,336.5 L476.0,336.4 L477.5,336.4 L479.0,336.4 L480.5,336.4 L482.0,336.4 L483.5,336.4 L485.0,336.4 L486.5,336.4 L488.0,336.4 L489.5,336.4 L491.0,336.5 L492.5,336.6 L494.0,336.6 L495.5,336.7 L497.0,336.9" fill="none" stroke="#000" stroke-width="2.5" stroke-dasharray="10.5 8 0.5 8" stroke-linejoin="round" stroke-linecap="round"/>
<path d="M50.6,281.5 L52.1,281.8 L53.6,281.7 L55.1,282.3 L56.6,281.9 L58.1,282.1 L59.6,281.2 L61.1,280.9 L62.6,281.1 L64.1,280.4 L65.6,280.8 L67.1,280.0 L68.6,279.5 L70.1,279.7 L71.6,278.6 L73.1,278.9 L74.6,278.0 L76.1,277.2 L77.6,277.4 L79.1,276.8 L80.6,275.7 L82.1,275.6 L83.6,275.0 L85.1,274.7 L86.6,273.6 L88.1,273.3 L89.6,273.1 L91.1,271.5 L92.6,271.5 L94.1,270.4 L95.6,269.8 L97.1,268.8 L98.6,268.1 L100.1,267.2 L101.6,266.6 L103.1,265.5 L104.6,264.5 L106.1,263.3 L107.6,261.7 L109.1,260.6 L110.6,259.2 L112.1,257.2 L113.6,256.0 L115.1,254.2 L116.6,252.1 L118.1,250.5 L119.6,248.5 L121.1,246.4 L122.6,243.9 L124.1,242.1 L125.6,239.5 L127.1,237.3 L128.6,234.6 L130.1,232.2 L131.6,229.4 L133.1,226.9 L134.6,224.2 L136.1,221.3 L137.6,218.6 L139.1,215.6 L140.6,212.5 L142.1,209.4 L143.6,206.3 L145.1,203.2 L146.6,200.1 L148.1,196.6 L149.6,193.4 L151.1,189.9 L152.6,186.4 L154.1,182.9 L155.6,179.3 L157.1,175.8 L158.6,172.2 L160.1,168.5 L161.6,164.9 L163.1,161.2 L164.6,157.5 L166.1,153.9 L167.6,150.2 L169.1,146.6 L170.6,142.9 L172.1,139.3 L173.6,135.7 L175.1,132.1 L176.6,128.5 L178.1,125.0 L179.6,121.5 L181.1,118.1 L182.6,114.7 L184.1,111.3 L185.6,108.1 L187.1,104.9 L188.6,101.7 L190.1,98.7 L191.6,95.8 L193.1,93.0 L194.6,90.3 L196.1,87.7 L197.6,85.2 L199.1,82.9 L200.6,80.8 L202.1,78.7 L203.6,76.8 L205.1,75.1 L206.6,73.5 L208.1,72.0 L209.6,70.6 L211.1,69.4 L212.6,68.3 L214.1,67.3 L215.6,66.4 L217.1,65.7 L218.6,65.1 L220.1,64.6 L221.6,64.2 L223.1,63.9 L224.6,63.7 L226.1,63.7 L227.6,63.7 L229.1,63.9 L230.6,64.2 L232.1,64.5 L233.6,65.0 L235.1,65.6 L236.6,66.3 L238.1,67.1 L239.6,68.0 L241.1,69.0 L242.6,70.0 L244.1,71.2 L245.6,72.5 L247.1,73.9 L248.6,75.3 L250.1,76.9 L251.6,78.5 L253.1,80.2 L254.6,82.0 L256.1,83.9 L257.6,85.9 L259.1,88.0 L260.6,90.1 L262.1,92.4 L263.6,94.7 L265.1,97.1 L266.6,99.6 L268.1,102.2 L269.6,104.9 L271.1,107.6 L272.6,110.4 L274.1,113.2 L275.6,116.1 L277.1,119.0 L278.6,121.9 L280.1,124.9 L281.6,127.9 L283.1,130.9 L284.6,133.9 L286.1,137.0 L287.6,140.0 L289.1,143.1 L290.6,146.1 L292.1,149.2 L293.6,152.2 L295.1,155.3 L296.6,158.3 L298.1,161.4 L299.6,164.4 L301.1,167.5 L302.6,170.5 L304.1,173.6 L305.6,176.6 L307.1,179.7 L308.6,182.7 L310.1,185.8 L311.6,188.8 L313.1,191.8 L314.6,194.9 L316.1,197.9 L317.6,200.9 L319.1,203.9 L320.6,206.9 L322.1,209.9 L323.6,212.9 L325.1,215.9 L326.6,218.9 L328.1,221.8 L329.6,224.8 L331.1,227.7 L332.6,230.7 L334.1,233.6 L335.6,236.5 L337.1,239.4 L338.6,242.2 L340.1,245.1 L341.6,247.9 L343.1,250.7 L344.6,253.5 L346.1,256.3 L347.6,259.0 L349.1,261.7 L350.6,264.4 L352.1,267.1 L353.6,269.7 L355.1,272.2 L356.6,274.7 L358.1,277.1 L359.6,279.5 L361.1,281.8 L362.6,284.1 L364.1,286.3 L365.6,288.4 L367.1,290.5 L368.6,292.5 L370.1,294.4 L371.6,296.3 L373.1,298.1 L374.6,299.8 L376.1,301.5 L377.6,303.2 L379.1,304.7 L380.6,306.3 L382.1,307.7 L383.6,309.1 L385.1,310.5 L386.6,311.8 L388.1,313.1 L389.6,314.3 L391.1,315.5 L392.6,316.6 L394.1,317.7 L395.6,318.7 L397.1,319.7 L398.6,320.6 L400.1,321.5 L401.6,322.4 L403.1,323.2 L404.6,324.0 L406.1,324.8 L407.6,325.5 L409.1,326.1 L410.6,326.8 L412.1,327.4 L413.6,328.0 L415.1,328.5 L416.6,329.0 L418.1,329.5 L419.6,330.0 L421.1,330.4 L422.6,330.8 L424.1,331.2 L425.6,331.6 L427.1,331.9 L428.6,332.2 L430.1,332.5 L431.6,332.8 L433.1,333.1 L434.6,333.3 L436.1,333.6 L437.6,333.8 L439.1,334.0 L440.6,334.2 L442.1,334.3 L443.6,334.5 L445.1,334.7 L446.6,334.8 L448.1,334.9 L449.6,335.1 L451.1,335.2 L452.6,335.3 L454.1,335.4 L455.6,335.5 L457.1,335.6 L458.6,335.7 L460.1,335.8 L461.6,335.9 L463.1,335.9 L464.6,336.0 L466.1,336.1 L467.6,336.1 L469.1,336.2 L470.6,336.2 L472.1,336.3 L473.6,336.3 L475.1,336.3 L476.6,336.4 L478.1,336.4 L479.6,336.4 L481.1,336.4 L482.6,336.4 L484.1,336.4 L485.6,336.4 L487.1,336.5 L488.6,336.5 L490.1,336.5 L491.6,336.4 L493.1,336.4 L494.6,336.4 L496.1,336.4 L497.0,336.4" fill="none" stroke="#808080" stroke-width="2.5" stroke-dasharray="10.5 8 0.5 8" stroke-linejoin="round" stroke-linecap="round"/>
<path d="M49.7,251.0 L51.2,256.0 L52.7,258.0 L54.2,259.3 L55.7,259.3 L57.2,259.3 L58.7,258.3 L60.2,257.3 L61.7,256.6 L63.2,256.1 L64.7,255.1 L66.2,254.3 L67.7,253.2 L69.2,252.4 L70.7,251.9 L72.2,251.0 L73.7,249.9 L75.2,248.0 L76.7,247.3 L78.2,246.1 L79.7,244.3 L81.2,243.0 L82.7,241.9 L84.2,240.1 L85.7,238.5 L87.2,236.0 L88.7,234.2 L90.2,232.9 L91.7,230.7 L93.2,228.3 L94.7,226.0 L96.2,223.9 L97.7,221.9 L99.2,219.3 L100.7,217.1 L102.2,214.1 L103.7,211.8 L105.2,208.7 L106.7,206.4 L108.2,203.1 L109.7,199.9 L111.2,197.4 L112.7,193.9 L114.2,190.7 L115.7,187.2 L117.2,183.9 L118.7,180.5 L120.2,176.9 L121.7,173.3 L123.2,169.4 L124.7,165.7 L126.2,161.6 L127.7,157.8 L129.2,153.8 L130.7,149.9 L132.2,145.8 L133.7,141.5 L135.2,137.6 L136.7,133.7 L138.2,129.7 L139.7,125.6 L141.2,121.7 L142.7,118.0 L144.2,114.3 L145.7,110.6 L147.2,107.1 L148.7,103.6 L150.2,100.3 L151.7,96.9 L153.2,93.7 L154.7,90.5 L156.2,87.4 L157.7,84.4 L159.2,81.4 L160.7,78.6 L162.2,75.8 L163.7,73.1 L165.2,70.5 L166.7,67.9 L168.2,65.5 L169.7,63.1 L171.2,60.8 L172.7,58.6 L174.2,56.5 L175.7,54.5 L177.2,52.5 L178.7,50.6 L180.2,48.9 L181.7,47.2 L183.2,45.5 L184.7,44.0 L186.2,42.6 L187.7,41.2 L189.2,40.0 L190.7,38.8 L192.2,37.7 L193.7,36.7 L195.2,35.8 L196.7,35.0 L198.2,34.3 L199.7,33.7 L201.2,33.2 L202.7,32.7 L204.2,32.4 L205.7,32.1 L207.2,31.9 L208.7,31.8 L210.2,31.8 L211.7,31.9 L213.2,32.1 L214.7,32.4 L216.2,32.7 L217.7,33.2 L219.2,33.7 L220.7,34.3 L222.2,35.0 L223.7,35.7 L225.2,36.6 L226.7,37.5 L228.2,38.5 L229.7,39.6 L231.2,40.8 L232.7,42.0 L234.2,43.3 L235.7,44.7 L237.2,46.2 L238.7,47.7 L240.2,49.3 L241.7,51.0 L243.2,52.8 L244.7,54.6 L246.2,56.6 L247.7,58.5 L249.2,60.6 L250.7,62.7 L252.2,64.9 L253.7,67.2 L255.2,69.5 L256.7,71.9 L258.2,74.3 L259.7,76.8 L261.2,79.4 L262.7,82.0 L264.2,84.7 L265.7,87.4 L267.2,90.2 L268.7,93.0 L270.2,95.9 L271.7,98.8 L273.2,101.8 L274.7,104.8 L276.2,107.8 L277.7,110.9 L279.2,114.0 L280.7,117.2 L282.2,120.4 L283.7,123.6 L285.2,126.8 L286.7,130.1 L288.2,133.3 L289.7,136.6 L291.2,140.0 L292.7,143.3 L294.2,146.7 L295.7,150.0 L297.2,153.4 L298.7,156.8 L300.2,160.2 L301.7,163.6 L303.2,167.0 L304.7,170.4 L306.2,173.8 L307.7,177.2 L309.2,180.6 L310.7,183.9 L312.2,187.3 L313.7,190.5 L315.2,193.7 L316.7,196.9 L318.2,199.8 L319.7,202.7 L321.2,205.5 L322.7,208.2 L324.2,210.9 L325.7,213.5 L327.2,216.1 L328.7,218.8 L330.2,221.5 L331.7,224.2 L333.2,227.0 L334.7,229.9 L336.2,232.8 L337.7,235.7 L339.2,238.6 L340.7,241.6 L342.2,244.6 L343.7,247.5 L345.2,250.5 L346.7,253.4 L348.2,256.3 L349.7,259.1 L351.2,261.9 L352.7,264.6 L354.2,267.3 L355.7,269.9 L357.2,272.5 L358.7,274.9 L360.2,277.3 L361.7,279.7 L363.2,282.0 L364.7,284.2 L366.2,286.3 L367.7,288.4 L369.2,290.4 L370.7,292.4 L372.2,294.3 L373.7,296.2 L375.2,298.0 L376.7,299.7 L378.2,301.4 L379.7,303.1 L381.2,304.6 L382.7,306.2 L384.2,307.6 L385.7,309.1 L387.2,310.5 L388.7,311.8 L390.2,313.1 L391.7,314.3 L393.2,315.5 L394.7,316.6 L396.2,317.7 L397.7,318.8 L399.2,319.8 L400.7,320.8 L402.2,321.7 L403.7,322.6 L405.2,323.4 L406.7,324.3 L408.2,325.0 L409.7,325.8 L411.2,326.5 L412.7,327.2 L414.2,327.8 L415.7,328.4 L417.2,329.0 L418.7,329.5 L420.2,330.0 L421.7,330.5 L423.2,331.0 L424.7,331.4 L426.2,331.8 L427.7,332.2 L429.2,332.5 L430.7,332.8 L432.2,333.1 L433.7,333.4 L435.2,333.7 L436.7,333.9 L438.2,334.1 L439.7,334.3 L441.2,334.5 L442.7,334.7 L444.2,334.8 L445.7,335.0 L447.2,335.1 L448.7,335.2 L450.2,335.3 L451.7,335.4 L453.2,335.5 L454.7,335.5 L456.2,335.6 L457.7,335.6 L459.2,335.7 L460.7,335.7 L462.2,335.7 L463.7,335.7 L465.2,335.8 L466.7,335.8 L468.2,335.8 L469.7,335.8 L471.2,335.8 L472.7,335.8 L474.2,335.8 L475.7,335.9 L477.2,335.9 L478.7,335.9 L480.2,335.9 L481.7,336.0 L483.2,336.0 L484.7,336.1 L486.2,336.1 L487.7,336.2 L489.2,336.3 L490.7,336.4 L492.2,336.5 L493.7,336.6 L495.2,336.8 L496.7,336.9 L497.0,336.9" fill="none" stroke="#c0c0c0" stroke-width="2.5" stroke-dasharray="10.5 8 0.5 8" stroke-linejoin="round" stroke-linecap="round"/>
<path d="M49.5,5 V357.5 H497.5" fill="none" stroke="#000" stroke-width="2.3" stroke-linecap="butt" stroke-linejoin="round"/>
<line x1="49.5" y1="335.1" x2="56.5" y2="335.1" stroke="#000" stroke-width="2"/>
<text transform="translate(43.0,339.1) scale(0.96,1)" font-size="16" text-anchor="end" font-weight="normal" font-style="normal" >0</text>
<line x1="49.5" y1="313.1" x2="54.0" y2="313.1" stroke="#000" stroke-width="2"/>
<line x1="49.5" y1="291.2" x2="56.5" y2="291.2" stroke="#000" stroke-width="2"/>
<text transform="translate(43.0,295.2) scale(0.96,1)" font-size="16" text-anchor="end" font-weight="normal" font-style="normal" >2</text>
<line x1="49.5" y1="269.2" x2="54.0" y2="269.2" stroke="#000" stroke-width="2"/>
<line x1="49.5" y1="247.3" x2="56.5" y2="247.3" stroke="#000" stroke-width="2"/>
<text transform="translate(43.0,251.3) scale(0.96,1)" font-size="16" text-anchor="end" font-weight="normal" font-style="normal" >4</text>
<line x1="49.5" y1="225.3" x2="54.0" y2="225.3" stroke="#000" stroke-width="2"/>
<line x1="49.5" y1="203.3" x2="56.5" y2="203.3" stroke="#000" stroke-width="2"/>
<text transform="translate(43.0,207.3) scale(0.96,1)" font-size="16" text-anchor="end" font-weight="normal" font-style="normal" >6</text>
<line x1="49.5" y1="181.4" x2="54.0" y2="181.4" stroke="#000" stroke-width="2"/>
<line x1="49.5" y1="159.4" x2="56.5" y2="159.4" stroke="#000" stroke-width="2"/>
<text transform="translate(43.0,163.4) scale(0.96,1)" font-size="16" text-anchor="end" font-weight="normal" font-style="normal" >8</text>
<line x1="49.5" y1="137.5" x2="54.0" y2="137.5" stroke="#000" stroke-width="2"/>
<line x1="49.5" y1="115.5" x2="56.5" y2="115.5" stroke="#000" stroke-width="2"/>
<text transform="translate(43.0,119.5) scale(0.96,1)" font-size="16" text-anchor="end" font-weight="normal" font-style="normal" >10</text>
<line x1="49.5" y1="93.5" x2="54.0" y2="93.5" stroke="#000" stroke-width="2"/>
<line x1="49.5" y1="71.6" x2="56.5" y2="71.6" stroke="#000" stroke-width="2"/>
<text transform="translate(43.0,75.6) scale(0.96,1)" font-size="16" text-anchor="end" font-weight="normal" font-style="normal" >12</text>
<line x1="49.5" y1="49.6" x2="54.0" y2="49.6" stroke="#000" stroke-width="2"/>
<line x1="49.5" y1="27.7" x2="56.5" y2="27.7" stroke="#000" stroke-width="2"/>
<text transform="translate(43.0,31.7) scale(0.96,1)" font-size="16" text-anchor="end" font-weight="normal" font-style="normal" >14</text>
<line x1="49.5" y1="5.7" x2="54.0" y2="5.7" stroke="#000" stroke-width="2"/>
<text transform="translate(49.5,379.5) scale(0.96,1)" font-size="16" text-anchor="middle" font-weight="normal" font-style="normal" >100</text>
<line x1="127.7" y1="357.5" x2="127.7" y2="353.0" stroke="#000" stroke-width="2"/>
<line x1="161.4" y1="357.5" x2="161.4" y2="349.0" stroke="#000" stroke-width="2"/>
<text transform="translate(161.4,379.5) scale(0.96,1)" font-size="16" text-anchor="middle" font-weight="normal" font-style="normal" >1k</text>
<line x1="239.7" y1="357.5" x2="239.7" y2="353.0" stroke="#000" stroke-width="2"/>
<line x1="273.4" y1="357.5" x2="273.4" y2="349.0" stroke="#000" stroke-width="2"/>
<text transform="translate(273.4,379.5) scale(0.96,1)" font-size="16" text-anchor="middle" font-weight="normal" font-style="normal" >10k</text>
<line x1="351.6" y1="357.5" x2="351.6" y2="353.0" stroke="#000" stroke-width="2"/>
<line x1="385.4" y1="357.5" x2="385.4" y2="349.0" stroke="#000" stroke-width="2"/>
<text transform="translate(385.4,379.5) scale(0.96,1)" font-size="16" text-anchor="middle" font-weight="normal" font-style="normal" >100k</text>
<line x1="463.6" y1="357.5" x2="463.6" y2="353.0" stroke="#000" stroke-width="2"/>
<line x1="497.3" y1="357.5" x2="497.3" y2="349.0" stroke="#000" stroke-width="2"/>
<text transform="translate(497.3,379.5) scale(0.96,1)" font-size="16" text-anchor="middle" font-weight="normal" font-style="normal" >1M</text>
<text transform="translate(71,31.5) scale(0.92,1)" font-size="21.2" text-anchor="start" font-weight="bold" font-style="normal" >A</text>
<path d="M92.90,17.20 L92.90,31.70 L89.78,31.70 L89.78,21.55 Q88.12,23.00 86.23,23.58 L86.23,21.41 Q88.55,20.39 89.42,17.20 Z" fill="#000"/>
<rect x="416" y="8.5" width="81.3" height="180.5" fill="none" stroke="#7c7c7c" stroke-width="1.2"/>
<line x1="416.8" y1="19.9" x2="450" y2="19.9" stroke="#000" stroke-width="3.0"/>
<text x="453" y="24.9" font-size="14" text-anchor="start" font-weight="normal" font-style="normal" class="lg">day 1</text>
<line x1="416.8" y1="40.0" x2="450" y2="40.0" stroke="#808080" stroke-width="3.0"/>
<text x="453" y="45.0" font-size="14" text-anchor="start" font-weight="normal" font-style="normal" class="lg">day 2</text>
<line x1="416.8" y1="60.1" x2="450" y2="60.1" stroke="#c0c0c0" stroke-width="3.0"/>
<text x="453" y="65.1" font-size="14" text-anchor="start" font-weight="normal" font-style="normal" class="lg">day 3</text>
<line x1="416.8" y1="80.2" x2="450" y2="80.2" stroke="#000" stroke-width="3.0" stroke-dasharray="10.2 11.6"/>
<text x="453" y="85.2" font-size="14" text-anchor="start" font-weight="normal" font-style="normal" class="lg">day 4</text>
<line x1="416.8" y1="100.3" x2="450" y2="100.3" stroke="#808080" stroke-width="3.0" stroke-dasharray="10.2 11.6"/>
<text x="453" y="105.3" font-size="14" text-anchor="start" font-weight="normal" font-style="normal" class="lg">day 5</text>
<line x1="416.8" y1="120.4" x2="450" y2="120.4" stroke="#c0c0c0" stroke-width="3.0" stroke-dasharray="10.2 11.6"/>
<text x="453" y="125.4" font-size="14" text-anchor="start" font-weight="normal" font-style="normal" class="lg">day 6</text>
<line x1="416.8" y1="140.5" x2="450" y2="140.5" stroke="#000" stroke-width="3.0" stroke-dasharray="13 5.3 2.5 6.1"/>
<text x="453" y="145.5" font-size="14" text-anchor="start" font-weight="normal" font-style="normal" class="lg">day 7</text>
<line x1="416.8" y1="160.6" x2="450" y2="160.6" stroke="#808080" stroke-width="3.0" stroke-dasharray="13 5.3 2.5 6.1"/>
<text x="453" y="165.6" font-size="14" text-anchor="start" font-weight="normal" font-style="normal" class="lg">day 9</text>
<line x1="416.8" y1="180.7" x2="450" y2="180.7" stroke="#c0c0c0" stroke-width="3.0" stroke-dasharray="13 5.3 2.5 6.1"/>
<text x="453" y="185.7" font-size="14" text-anchor="start" font-weight="normal" font-style="normal" class="lg">day 11</text>
<text transform="translate(268.4,405.2) scale(0.9,1)" font-size="17.4" text-anchor="middle" font-weight="normal" font-style="normal" >frequency / Hz</text>
<text transform="translate(19.2,180.5) rotate(-90) scale(0.925,1)" font-size="20.3" text-anchor="middle">-ΔC / nF</text>
<path d="M551.3,323.9 L552.8,324.4 L554.3,324.5 L555.8,324.7 L557.3,325.7 L558.8,325.3 L560.3,325.1 L561.8,325.3 L563.3,326.0 L564.8,326.4 L566.3,326.8 L567.8,326.5 L569.3,327.3 L570.8,328.1 L572.3,328.0 L573.8,328.2 L575.3,328.2 L576.8,328.8 L578.3,328.1 L579.8,329.1 L581.3,329.2 L582.8,329.0 L584.3,329.3 L585.8,329.1 L587.3,329.1 L588.8,329.5 L590.3,329.6 L591.8,329.9 L593.3,329.9 L594.8,330.5 L596.3,329.9 L597.8,330.5 L599.3,330.3 L600.8,330.1 L602.3,330.7 L603.8,330.5 L605.3,330.1 L606.8,330.7 L608.3,330.2 L609.8,330.4 L611.3,330.5 L612.8,330.5 L614.3,330.4 L615.8,330.4 L617.3,330.3 L618.8,329.8 L620.3,330.0 L621.8,329.8 L623.3,329.5 L624.8,329.5 L626.3,329.5 L627.8,329.2 L629.3,329.0 L630.8,328.8 L632.3,328.7 L633.8,328.5 L635.3,328.3 L636.8,327.9 L638.3,327.6 L639.8,327.4 L641.3,327.2 L642.8,327.0 L644.3,326.5 L645.8,326.3 L647.3,325.9 L648.8,325.6 L650.3,325.2 L651.8,324.8 L653.3,324.4 L654.8,324.0 L656.3,323.6 L657.8,323.1 L659.3,322.7 L660.8,322.2 L662.3,321.8 L663.8,321.3 L665.3,320.8 L666.8,320.3 L668.3,319.8 L669.8,319.3 L671.3,318.8 L672.8,318.3 L674.3,317.8 L675.8,317.3 L677.3,316.7 L678.8,316.2 L680.3,315.6 L681.8,315.1 L683.3,314.6 L684.8,314.0 L686.3,313.5 L687.8,312.9 L689.3,312.4 L690.8,311.8 L692.3,311.3 L693.8,310.7 L695.3,310.2 L696.8,309.7 L698.3,309.1 L699.8,308.6 L701.3,308.1 L702.8,307.6 L704.3,307.0 L705.8,306.5 L707.3,306.0 L708.8,305.5 L710.3,305.0 L711.8,304.6 L713.3,304.1 L714.8,303.6 L716.3,303.2 L717.8,302.7 L719.3,302.3 L720.8,301.8 L722.3,301.4 L723.8,301.0 L725.3,300.6 L726.8,300.2 L728.3,299.9 L729.8,299.5 L731.3,299.1 L732.8,298.8 L734.3,298.5 L735.8,298.2 L737.3,297.9 L738.8,297.6 L740.3,297.3 L741.8,297.1 L743.3,296.8 L744.8,296.6 L746.3,296.4 L747.8,296.2 L749.3,296.0 L750.8,295.9 L752.3,295.8 L753.8,295.6 L755.3,295.5 L756.8,295.5 L758.3,295.4 L759.8,295.4 L761.3,295.4 L762.8,295.4 L764.3,295.4 L765.8,295.4 L767.3,295.5 L768.8,295.6 L770.3,295.7 L771.8,295.8 L773.3,296.0 L774.8,296.2 L776.3,296.4 L777.8,296.6 L779.3,296.9 L780.8,297.1 L782.3,297.4 L783.8,297.7 L785.3,298.1 L786.8,298.4 L788.3,298.8 L789.8,299.2 L791.3,299.6 L792.8,300.0 L794.3,300.4 L795.8,300.9 L797.3,301.3 L798.8,301.8 L800.3,302.3 L801.8,302.8 L803.3,303.3 L804.8,303.8 L806.3,304.4 L807.8,304.9 L809.3,305.4 L810.8,306.0 L812.3,306.6 L813.8,307.1 L815.3,307.7 L816.8,308.3 L818.3,308.9 L819.8,309.5 L821.3,310.1 L822.8,310.7 L824.3,311.3 L825.8,311.9 L827.3,312.5 L828.8,313.1 L830.3,313.6 L831.8,314.2 L833.3,314.8 L834.8,315.4 L836.3,316.0 L837.8,316.6 L839.3,317.2 L840.8,317.8 L842.3,318.3 L843.8,318.9 L845.3,319.5 L846.8,320.0 L848.3,320.5 L849.8,321.1 L851.3,321.6 L852.8,322.1 L854.3,322.6 L855.8,323.1 L857.3,323.6 L858.8,324.1 L860.3,324.6 L861.8,325.0 L863.3,325.5 L864.8,326.0 L866.3,326.4 L867.8,326.8 L869.3,327.3 L870.8,327.7 L872.3,328.1 L873.8,328.5 L875.3,328.9 L876.8,329.2 L878.3,329.6 L879.8,330.0 L881.3,330.3 L882.8,330.7 L884.3,331.0 L885.8,331.3 L887.3,331.6 L888.8,331.9 L890.3,332.2 L891.8,332.5 L893.3,332.8 L894.8,333.1 L896.3,333.3 L897.8,333.6 L899.3,333.8 L900.8,334.0 L902.3,334.2 L903.8,334.4 L905.3,334.6 L906.8,334.8 L908.3,335.0 L909.8,335.2 L911.3,335.3 L912.8,335.5 L914.3,335.6 L915.8,335.7 L917.3,335.8 L918.8,336.0 L920.3,336.1 L921.8,336.2 L923.3,336.3 L924.8,336.3 L926.3,336.4 L927.8,336.5 L929.3,336.6 L930.8,336.6 L932.3,336.7 L933.8,336.7 L935.3,336.8 L936.8,336.8 L938.3,336.8 L939.8,336.9 L941.3,336.9 L942.8,336.9 L944.3,336.9 L945.8,336.9 L947.3,336.9 L948.8,336.9 L950.3,336.9 L951.8,336.9 L953.3,336.9 L954.8,336.9 L956.3,336.9 L957.8,336.9 L959.3,336.9 L960.8,336.9 L962.3,336.9 L963.8,336.9 L965.3,336.9 L966.8,336.9 L968.3,336.8 L969.8,336.8 L971.3,336.8 L972.8,336.8 L974.3,336.8 L975.8,336.8 L977.3,336.8 L978.8,336.8 L980.3,336.8 L981.8,336.8 L983.3,336.8 L984.8,336.8 L986.3,336.8 L987.8,336.8 L989.3,336.8 L990.8,336.8 L992.3,336.9 L993.8,336.9 L995.3,336.9 L996.8,337.0 L998.3,337.0 L999.8,337.0 L1001.3,337.1 L1002.8,337.1 L1004.3,337.2 L1005.8,337.3 L1007.3,337.4 L1008.8,337.4 L1010.0,337.5" fill="none" stroke="#000" stroke-width="2.5" stroke-linejoin="round" stroke-linecap="round"/>
<path d="M551.3,322.1 L552.8,322.7 L554.3,323.0 L555.8,323.7 L557.3,323.2 L558.8,323.8 L560.3,323.7 L561.8,324.1 L563.3,325.1 L564.8,325.5 L566.3,325.0 L567.8,325.8 L569.3,325.7 L570.8,326.2 L572.3,326.0 L573.8,326.2 L575.3,326.2 L576.8,326.8 L578.3,326.5 L579.8,327.6 L581.3,327.0 L582.8,327.6 L584.3,327.6 L585.8,327.6 L587.3,328.4 L588.8,328.4 L590.3,328.4 L591.8,327.9 L593.3,328.3 L594.8,328.6 L596.3,328.2 L597.8,328.8 L599.3,329.0 L600.8,329.1 L602.3,328.8 L603.8,328.5 L605.3,328.7 L606.8,329.2 L608.3,328.7 L609.8,329.1 L611.3,329.1 L612.8,329.0 L614.3,329.2 L615.8,328.8 L617.3,329.1 L618.8,328.9 L620.3,329.2 L621.8,328.9 L623.3,328.7 L624.8,328.8 L626.3,328.8 L627.8,328.6 L629.3,328.9 L630.8,328.7 L632.3,328.5 L633.8,328.5 L635.3,328.6 L636.8,328.4 L638.3,328.2 L639.8,328.2 L641.3,328.1 L642.8,328.0 L644.3,327.8 L645.8,327.6 L647.3,327.6 L648.8,327.5 L650.3,327.4 L651.8,327.2 L653.3,327.2 L654.8,327.0 L656.3,326.9 L657.8,326.7 L659.3,326.6 L660.8,326.4 L662.3,326.3 L663.8,326.1 L665.3,326.0 L666.8,325.8 L668.3,325.7 L669.8,325.5 L671.3,325.3 L672.8,325.2 L674.3,325.0 L675.8,324.8 L677.3,324.7 L678.8,324.5 L680.3,324.3 L681.8,324.2 L683.3,324.0 L684.8,323.8 L686.3,323.6 L687.8,323.4 L689.3,323.3 L690.8,323.1 L692.3,322.9 L693.8,322.7 L695.3,322.6 L696.8,322.4 L698.3,322.2 L699.8,322.0 L701.3,321.8 L702.8,321.7 L704.3,321.5 L705.8,321.3 L707.3,321.1 L708.8,321.0 L710.3,320.8 L711.8,320.6 L713.3,320.5 L714.8,320.3 L716.3,320.1 L717.8,320.0 L719.3,319.8 L720.8,319.7 L722.3,319.5 L723.8,319.4 L725.3,319.2 L726.8,319.1 L728.3,319.0 L729.8,318.8 L731.3,318.7 L732.8,318.6 L734.3,318.4 L735.8,318.3 L737.3,318.2 L738.8,318.1 L740.3,318.0 L741.8,317.9 L743.3,317.8 L744.8,317.7 L746.3,317.6 L747.8,317.5 L749.3,317.5 L750.8,317.4 L752.3,317.3 L753.8,317.3 L755.3,317.2 L756.8,317.2 L758.3,317.1 L759.8,317.1 L761.3,317.1 L762.8,317.1 L764.3,317.0 L765.8,317.0 L767.3,317.0 L768.8,317.1 L770.3,317.1 L771.8,317.1 L773.3,317.1 L774.8,317.2 L776.3,317.2 L777.8,317.3 L779.3,317.3 L780.8,317.4 L782.3,317.5 L783.8,317.6 L785.3,317.7 L786.8,317.8 L788.3,317.9 L789.8,318.0 L791.3,318.2 L792.8,318.3 L794.3,318.4 L795.8,318.6 L797.3,318.8 L798.8,318.9 L800.3,319.1 L801.8,319.3 L803.3,319.5 L804.8,319.6 L806.3,319.8 L807.8,320.0 L809.3,320.3 L810.8,320.5 L812.3,320.7 L813.8,320.9 L815.3,321.1 L816.8,321.4 L818.3,321.6 L819.8,321.8 L821.3,322.1 L822.8,322.3 L824.3,322.6 L825.8,322.8 L827.3,323.1 L828.8,323.3 L830.3,323.6 L831.8,323.8 L833.3,324.1 L834.8,324.4 L836.3,324.6 L837.8,324.9 L839.3,325.2 L840.8,325.4 L842.3,325.7 L843.8,326.0 L845.3,326.3 L846.8,326.5 L848.3,326.8 L849.8,327.1 L851.3,327.3 L852.8,327.6 L854.3,327.9 L855.8,328.1 L857.3,328.4 L858.8,328.7 L860.3,328.9 L861.8,329.2 L863.3,329.5 L864.8,329.7 L866.3,330.0 L867.8,330.2 L869.3,330.5 L870.8,330.7 L872.3,331.0 L873.8,331.2 L875.3,331.4 L876.8,331.7 L878.3,331.9 L879.8,332.1 L881.3,332.3 L882.8,332.6 L884.3,332.8 L885.8,333.0 L887.3,333.2 L888.8,333.4 L890.3,333.5 L891.8,333.7 L893.3,333.9 L894.8,334.1 L896.3,334.2 L897.8,334.4 L899.3,334.5 L900.8,334.7 L902.3,334.8 L903.8,335.0 L905.3,335.1 L906.8,335.2 L908.3,335.3 L909.8,335.5 L911.3,335.6 L912.8,335.7 L914.3,335.8 L915.8,335.9 L917.3,336.0 L918.8,336.1 L920.3,336.2 L921.8,336.2 L923.3,336.3 L924.8,336.4 L926.3,336.5 L927.8,336.5 L929.3,336.6 L930.8,336.6 L932.3,336.7 L933.8,336.7 L935.3,336.8 L936.8,336.8 L938.3,336.9 L939.8,336.9 L941.3,337.0 L942.8,337.0 L944.3,337.0 L945.8,337.0 L947.3,337.1 L948.8,337.1 L950.3,337.1 L951.8,337.1 L953.3,337.1 L954.8,337.2 L956.3,337.2 L957.8,337.2 L959.3,337.2 L960.8,337.2 L962.3,337.2 L963.8,337.2 L965.3,337.2 L966.8,337.2 L968.3,337.2 L969.8,337.2 L971.3,337.2 L972.8,337.2 L974.3,337.2 L975.8,337.2 L977.3,337.2 L978.8,337.1 L980.3,337.1 L981.8,337.1 L983.3,337.1 L984.8,337.1 L986.3,337.1 L987.8,337.1 L989.3,337.1 L990.8,337.0 L992.3,337.0 L993.8,337.0 L995.3,337.0 L996.8,337.0 L998.3,337.0 L999.8,337.0 L1001.3,337.0 L1002.8,337.0 L1004.3,336.9 L1005.8,336.9 L1007.3,336.9 L1008.8,336.9 L1010.0,336.9" fill="none" stroke="#808080" stroke-width="2.5" stroke-linejoin="round" stroke-linecap="round"/>
<path d="M551.3,312.8 L552.8,313.0 L554.3,314.0 L555.8,314.2 L557.3,313.6 L558.8,314.7 L560.3,314.2 L561.8,315.1 L563.3,315.8 L564.8,315.2 L566.3,316.1 L567.8,316.0 L569.3,315.9 L570.8,317.1 L572.3,317.1 L573.8,316.7 L575.3,316.9 L576.8,317.2 L578.3,317.8 L579.8,318.2 L581.3,317.9 L582.8,317.5 L584.3,317.7 L585.8,318.0 L587.3,318.7 L588.8,318.2 L590.3,318.7 L591.8,318.3 L593.3,318.6 L594.8,319.0 L596.3,319.1 L597.8,318.6 L599.3,318.8 L600.8,318.9 L602.3,318.9 L603.8,319.0 L605.3,319.4 L606.8,318.9 L608.3,319.0 L609.8,319.2 L611.3,319.4 L612.8,319.3 L614.3,318.9 L615.8,319.1 L617.3,319.1 L618.8,319.0 L620.3,319.1 L621.8,318.7 L623.3,318.9 L624.8,318.9 L626.3,318.9 L627.8,318.4 L629.3,318.6 L630.8,318.4 L632.3,318.4 L633.8,318.3 L635.3,318.2 L636.8,317.9 L638.3,318.1 L639.8,317.8 L641.3,317.8 L642.8,317.5 L644.3,317.3 L645.8,317.3 L647.3,317.2 L648.8,317.1 L650.3,316.9 L651.8,316.7 L653.3,316.6 L654.8,316.5 L656.3,316.3 L657.8,316.1 L659.3,316.0 L660.8,315.8 L662.3,315.7 L663.8,315.5 L665.3,315.3 L666.8,315.2 L668.3,315.0 L669.8,314.8 L671.3,314.7 L672.8,314.5 L674.3,314.3 L675.8,314.1 L677.3,314.0 L678.8,313.8 L680.3,313.6 L681.8,313.5 L683.3,313.3 L684.8,313.1 L686.3,312.9 L687.8,312.8 L689.3,312.6 L690.8,312.4 L692.3,312.3 L693.8,312.1 L695.3,311.9 L696.8,311.8 L698.3,311.6 L699.8,311.4 L701.3,311.3 L702.8,311.1 L704.3,311.0 L705.8,310.8 L707.3,310.6 L708.8,310.5 L710.3,310.4 L711.8,310.2 L713.3,310.1 L714.8,309.9 L716.3,309.8 L717.8,309.7 L719.3,309.5 L720.8,309.4 L722.3,309.3 L723.8,309.2 L725.3,309.1 L726.8,309.0 L728.3,308.9 L729.8,308.8 L731.3,308.7 L732.8,308.6 L734.3,308.5 L735.8,308.4 L737.3,308.4 L738.8,308.3 L740.3,308.2 L741.8,308.2 L743.3,308.1 L744.8,308.1 L746.3,308.1 L747.8,308.0 L749.3,308.0 L750.8,308.0 L752.3,308.0 L753.8,308.0 L755.3,308.0 L756.8,308.0 L758.3,308.0 L759.8,308.1 L761.3,308.1 L762.8,308.1 L764.3,308.2 L765.8,308.3 L767.3,308.3 L768.8,308.4 L770.3,308.5 L771.8,308.6 L773.3,308.7 L774.8,308.8 L776.3,308.9 L777.8,309.1 L779.3,309.2 L780.8,309.4 L782.3,309.5 L783.8,309.7 L785.3,309.9 L786.8,310.1 L788.3,310.3 L789.8,310.5 L791.3,310.7 L792.8,310.9 L794.3,311.1 L795.8,311.4 L797.3,311.6 L798.8,311.9 L800.3,312.1 L801.8,312.4 L803.3,312.7 L804.8,313.0 L806.3,313.3 L807.8,313.6 L809.3,313.9 L810.8,314.2 L812.3,314.5 L813.8,314.8 L815.3,315.1 L816.8,315.4 L818.3,315.8 L819.8,316.1 L821.3,316.4 L822.8,316.8 L824.3,317.1 L825.8,317.5 L827.3,317.8 L828.8,318.2 L830.3,318.5 L831.8,318.9 L833.3,319.3 L834.8,319.6 L836.3,320.0 L837.8,320.3 L839.3,320.7 L840.8,321.1 L842.3,321.4 L843.8,321.8 L845.3,322.2 L846.8,322.5 L848.3,322.9 L849.8,323.3 L851.3,323.6 L852.8,324.0 L854.3,324.3 L855.8,324.7 L857.3,325.1 L858.8,325.4 L860.3,325.8 L861.8,326.1 L863.3,326.5 L864.8,326.8 L866.3,327.1 L867.8,327.5 L869.3,327.8 L870.8,328.1 L872.3,328.5 L873.8,328.8 L875.3,329.1 L876.8,329.4 L878.3,329.7 L879.8,330.0 L881.3,330.3 L882.8,330.6 L884.3,330.8 L885.8,331.1 L887.3,331.4 L888.8,331.6 L890.3,331.9 L891.8,332.1 L893.3,332.4 L894.8,332.6 L896.3,332.8 L897.8,333.0 L899.3,333.2 L900.8,333.4 L902.3,333.6 L903.8,333.8 L905.3,334.0 L906.8,334.1 L908.3,334.3 L909.8,334.4 L911.3,334.6 L912.8,334.7 L914.3,334.9 L915.8,335.0 L917.3,335.1 L918.8,335.2 L920.3,335.3 L921.8,335.4 L923.3,335.5 L924.8,335.6 L926.3,335.7 L927.8,335.8 L929.3,335.9 L930.8,336.0 L932.3,336.0 L933.8,336.1 L935.3,336.2 L936.8,336.2 L938.3,336.3 L939.8,336.3 L941.3,336.4 L942.8,336.4 L944.3,336.5 L945.8,336.5 L947.3,336.5 L948.8,336.6 L950.3,336.6 L951.8,336.6 L953.3,336.6 L954.8,336.7 L956.3,336.7 L957.8,336.7 L959.3,336.7 L960.8,336.7 L962.3,336.7 L963.8,336.7 L965.3,336.7 L966.8,336.7 L968.3,336.7 L969.8,336.8 L971.3,336.8 L972.8,336.8 L974.3,336.8 L975.8,336.8 L977.3,336.8 L978.8,336.8 L980.3,336.8 L981.8,336.8 L983.3,336.8 L984.8,336.8 L986.3,336.8 L987.8,336.8 L989.3,336.8 L990.8,336.8 L992.3,336.8 L993.8,336.8 L995.3,336.8 L996.8,336.8 L998.3,336.8 L999.8,336.8 L1001.3,336.8 L1002.8,336.8 L1004.3,336.9 L1005.8,336.9 L1007.3,336.9 L1008.8,336.9 L1010.0,336.9" fill="none" stroke="#c0c0c0" stroke-width="2.5" stroke-linejoin="round" stroke-linecap="round"/>
<path d="M551.3,305.8 L552.8,307.1 L554.3,306.1 L555.8,306.7 L557.3,306.2 L558.8,306.8 L560.3,307.6 L561.8,307.2 L563.3,308.0 L564.8,308.1 L566.3,307.7 L567.8,307.5 L569.3,308.5 L570.8,308.8 L572.3,308.1 L573.8,308.1 L575.3,309.1 L576.8,309.0 L578.3,308.7 L579.8,308.8 L581.3,309.3 L582.8,309.9 L584.3,309.2 L585.8,310.0 L587.3,309.6 L588.8,310.1 L590.3,310.1 L591.8,310.4 L593.3,310.1 L594.8,310.9 L596.3,311.1 L597.8,310.8 L599.3,310.9 L600.8,311.3 L602.3,310.9 L603.8,311.0 L605.3,311.6 L606.8,311.6 L608.3,311.8 L609.8,311.5 L611.3,312.2 L612.8,312.1 L614.3,311.9 L615.8,312.3 L617.3,312.6 L618.8,312.3 L620.3,312.8 L621.8,312.9 L623.3,312.9 L624.8,312.8 L626.3,312.8 L627.8,312.9 L629.3,313.1 L630.8,312.9 L632.3,313.2 L633.8,313.2 L635.3,313.4 L636.8,313.5 L638.3,313.4 L639.8,313.5 L641.3,313.5 L642.8,313.5 L644.3,313.5 L645.8,313.5 L647.3,313.6 L648.8,313.6 L650.3,313.6 L651.8,313.6 L653.3,313.6 L654.8,313.7 L656.3,313.6 L657.8,313.6 L659.3,313.7 L660.8,313.6 L662.3,313.6 L663.8,313.6 L665.3,313.5 L666.8,313.5 L668.3,313.5 L669.8,313.4 L671.3,313.4 L672.8,313.3 L674.3,313.2 L675.8,313.2 L677.3,313.1 L678.8,313.0 L680.3,312.9 L681.8,312.8 L683.3,312.7 L684.8,312.6 L686.3,312.5 L687.8,312.4 L689.3,312.2 L690.8,312.1 L692.3,311.9 L693.8,311.8 L695.3,311.6 L696.8,311.5 L698.3,311.3 L699.8,311.1 L701.3,310.9 L702.8,310.8 L704.3,310.6 L705.8,310.3 L707.3,310.1 L708.8,309.9 L710.3,309.7 L711.8,309.5 L713.3,309.2 L714.8,309.0 L716.3,308.7 L717.8,308.4 L719.3,308.2 L720.8,307.9 L722.3,307.6 L723.8,307.3 L725.3,307.0 L726.8,306.7 L728.3,306.4 L729.8,306.1 L731.3,305.8 L732.8,305.5 L734.3,305.2 L735.8,304.9 L737.3,304.7 L738.8,304.4 L740.3,304.1 L741.8,303.8 L743.3,303.5 L744.8,303.2 L746.3,302.9 L747.8,302.7 L749.3,302.4 L750.8,302.1 L752.3,301.9 L753.8,301.6 L755.3,301.4 L756.8,301.2 L758.3,300.9 L759.8,300.7 L761.3,300.5 L762.8,300.4 L764.3,300.2 L765.8,300.0 L767.3,299.9 L768.8,299.7 L770.3,299.6 L771.8,299.5 L773.3,299.4 L774.8,299.4 L776.3,299.3 L777.8,299.2 L779.3,299.2 L780.8,299.2 L782.3,299.2 L783.8,299.2 L785.3,299.2 L786.8,299.3 L788.3,299.3 L789.8,299.4 L791.3,299.5 L792.8,299.6 L794.3,299.7 L795.8,299.8 L797.3,300.0 L798.8,300.1 L800.3,300.3 L801.8,300.5 L803.3,300.7 L804.8,300.9 L806.3,301.2 L807.8,301.4 L809.3,301.7 L810.8,302.0 L812.3,302.3 L813.8,302.6 L815.3,302.9 L816.8,303.3 L818.3,303.6 L819.8,304.0 L821.3,304.4 L822.8,304.8 L824.3,305.3 L825.8,305.7 L827.3,306.2 L828.8,306.7 L830.3,307.1 L831.8,307.6 L833.3,308.1 L834.8,308.6 L836.3,309.2 L837.8,309.7 L839.3,310.2 L840.8,310.8 L842.3,311.3 L843.8,311.9 L845.3,312.5 L846.8,313.0 L848.3,313.6 L849.8,314.2 L851.3,314.8 L852.8,315.3 L854.3,315.9 L855.8,316.5 L857.3,317.1 L858.8,317.7 L860.3,318.2 L861.8,318.8 L863.3,319.4 L864.8,320.0 L866.3,320.5 L867.8,321.1 L869.3,321.6 L870.8,322.2 L872.3,322.7 L873.8,323.3 L875.3,323.8 L876.8,324.3 L878.3,324.8 L879.8,325.3 L881.3,325.8 L882.8,326.3 L884.3,326.7 L885.8,327.2 L887.3,327.6 L888.8,328.0 L890.3,328.5 L891.8,328.9 L893.3,329.2 L894.8,329.6 L896.3,330.0 L897.8,330.3 L899.3,330.7 L900.8,331.0 L902.3,331.3 L903.8,331.6 L905.3,331.9 L906.8,332.2 L908.3,332.5 L909.8,332.8 L911.3,333.0 L912.8,333.3 L914.3,333.5 L915.8,333.7 L917.3,334.0 L918.8,334.2 L920.3,334.4 L921.8,334.6 L923.3,334.8 L924.8,334.9 L926.3,335.1 L927.8,335.3 L929.3,335.4 L930.8,335.6 L932.3,335.7 L933.8,335.8 L935.3,336.0 L936.8,336.1 L938.3,336.2 L939.8,336.3 L941.3,336.4 L942.8,336.5 L944.3,336.6 L945.8,336.6 L947.3,336.7 L948.8,336.8 L950.3,336.8 L951.8,336.9 L953.3,336.9 L954.8,337.0 L956.3,337.0 L957.8,337.1 L959.3,337.1 L960.8,337.1 L962.3,337.2 L963.8,337.2 L965.3,337.2 L966.8,337.2 L968.3,337.2 L969.8,337.2 L971.3,337.2 L972.8,337.2 L974.3,337.2 L975.8,337.2 L977.3,337.2 L978.8,337.2 L980.3,337.2 L981.8,337.2 L983.3,337.2 L984.8,337.1 L986.3,337.1 L987.8,337.1 L989.3,337.1 L990.8,337.1 L992.3,337.1 L993.8,337.0 L995.3,337.0 L996.8,337.0 L998.3,337.0 L999.8,336.9 L1001.3,336.9 L1002.8,336.9 L1004.3,336.9 L1005.8,336.9 L1007.3,336.8 L1008.8,336.8 L1010.0,336.8" fill="none" stroke="#000" stroke-width="2.5" stroke-dasharray="7.6 14.2" stroke-linejoin="round" stroke-linecap="round"/>
<path d="M551.7,299.6 L553.2,299.4 L554.7,299.9 L556.2,299.4 L557.7,299.7 L559.2,299.5 L560.7,300.3 L562.2,299.1 L563.7,300.1 L565.2,299.6 L566.7,300.3 L568.2,299.7 L569.7,300.1 L571.2,300.6 L572.7,300.4 L574.2,300.8 L575.7,300.9 L577.2,300.4 L578.7,301.2 L580.2,300.8 L581.7,301.1 L583.2,301.3 L584.7,301.3 L586.2,301.2 L587.7,301.3 L589.2,301.8 L590.7,302.0 L592.2,301.6 L593.7,302.1 L595.2,301.7 L596.7,302.3 L598.2,302.0 L599.7,302.1 L601.2,302.5 L602.7,302.3 L604.2,302.4 L605.7,302.3 L607.2,302.7 L608.7,302.4 L610.2,302.6 L611.7,302.3 L613.2,302.8 L614.7,302.8 L616.2,302.3 L617.7,302.5 L619.2,302.2 L620.7,302.4 L622.2,302.6 L623.7,302.3 L625.2,302.0 L626.7,302.3 L628.2,302.0 L629.7,301.7 L631.2,301.7 L632.7,301.5 L634.2,301.6 L635.7,301.2 L637.2,301.1 L638.7,301.0 L640.2,300.7 L641.7,300.3 L643.2,300.1 L644.7,299.8 L646.2,299.7 L647.7,299.4 L649.2,299.0 L650.7,298.7 L652.2,298.3 L653.7,297.9 L655.2,297.6 L656.7,297.2 L658.2,296.8 L659.7,296.3 L661.2,295.9 L662.7,295.4 L664.2,294.9 L665.7,294.3 L667.2,293.8 L668.7,293.2 L670.2,292.6 L671.7,291.9 L673.2,291.3 L674.7,290.6 L676.2,289.9 L677.7,289.1 L679.2,288.3 L680.7,287.5 L682.2,286.7 L683.7,285.8 L685.2,284.9 L686.7,284.0 L688.2,283.0 L689.7,282.0 L691.2,280.9 L692.7,279.9 L694.2,278.7 L695.7,277.6 L697.2,276.4 L698.7,275.2 L700.2,273.9 L701.7,272.6 L703.2,271.2 L704.7,269.8 L706.2,268.4 L707.7,266.9 L709.2,265.4 L710.7,263.8 L712.2,262.3 L713.7,260.7 L715.2,259.0 L716.7,257.4 L718.2,255.7 L719.7,254.1 L721.2,252.4 L722.7,250.7 L724.2,249.0 L725.7,247.3 L727.2,245.6 L728.7,243.9 L730.2,242.2 L731.7,240.5 L733.2,238.8 L734.7,237.2 L736.2,235.6 L737.7,233.9 L739.2,232.4 L740.7,230.8 L742.2,229.3 L743.7,227.8 L745.2,226.3 L746.7,224.9 L748.2,223.5 L749.7,222.2 L751.2,220.9 L752.7,219.6 L754.2,218.5 L755.7,217.3 L757.2,216.3 L758.7,215.3 L760.2,214.3 L761.7,213.5 L763.2,212.7 L764.7,211.9 L766.2,211.3 L767.7,210.7 L769.2,210.2 L770.7,209.8 L772.2,209.5 L773.7,209.2 L775.2,209.0 L776.7,208.9 L778.2,208.8 L779.7,208.9 L781.2,208.9 L782.7,209.1 L784.2,209.3 L785.7,209.7 L787.2,210.0 L788.7,210.5 L790.2,211.0 L791.7,211.6 L793.2,212.2 L794.7,212.9 L796.2,213.7 L797.7,214.6 L799.2,215.5 L800.7,216.4 L802.2,217.5 L803.7,218.6 L805.2,219.8 L806.7,221.0 L808.2,222.3 L809.7,223.6 L811.2,225.0 L812.7,226.5 L814.2,228.0 L815.7,229.6 L817.2,231.2 L818.7,232.9 L820.2,234.6 L821.7,236.3 L823.2,238.1 L824.7,239.9 L826.2,241.7 L827.7,243.6 L829.2,245.5 L830.7,247.4 L832.2,249.3 L833.7,251.2 L835.2,253.2 L836.7,255.1 L838.2,257.1 L839.7,259.1 L841.2,261.1 L842.7,263.1 L844.2,265.0 L845.7,267.0 L847.2,269.0 L848.7,270.9 L850.2,272.9 L851.7,274.8 L853.2,276.8 L854.7,278.7 L856.2,280.6 L857.7,282.5 L859.2,284.3 L860.7,286.1 L862.2,288.0 L863.7,289.7 L865.2,291.5 L866.7,293.2 L868.2,294.9 L869.7,296.5 L871.2,298.1 L872.7,299.7 L874.2,301.3 L875.7,302.8 L877.2,304.2 L878.7,305.7 L880.2,307.1 L881.7,308.5 L883.2,309.8 L884.7,311.1 L886.2,312.3 L887.7,313.6 L889.2,314.7 L890.7,315.9 L892.2,317.0 L893.7,318.1 L895.2,319.1 L896.7,320.1 L898.2,321.1 L899.7,322.0 L901.2,322.9 L902.7,323.7 L904.2,324.5 L905.7,325.3 L907.2,326.0 L908.7,326.7 L910.2,327.4 L911.7,328.1 L913.2,328.7 L914.7,329.3 L916.2,329.8 L917.7,330.3 L919.2,330.8 L920.7,331.3 L922.2,331.7 L923.7,332.1 L925.2,332.5 L926.7,332.9 L928.2,333.2 L929.7,333.6 L931.2,333.9 L932.7,334.1 L934.2,334.4 L935.7,334.6 L937.2,334.9 L938.7,335.1 L940.2,335.2 L941.7,335.4 L943.2,335.5 L944.7,335.7 L946.2,335.8 L947.7,335.9 L949.2,336.0 L950.7,336.1 L952.2,336.2 L953.7,336.2 L955.2,336.3 L956.7,336.3 L958.2,336.3 L959.7,336.4 L961.2,336.4 L962.7,336.4 L964.2,336.4 L965.7,336.4 L967.2,336.4 L968.7,336.4 L970.2,336.4 L971.7,336.4 L973.2,336.3 L974.7,336.3 L976.2,336.3 L977.7,336.3 L979.2,336.3 L980.7,336.3 L982.2,336.3 L983.7,336.3 L985.2,336.3 L986.7,336.3 L988.2,336.4 L989.7,336.4 L991.2,336.4 L992.7,336.5 L994.2,336.5 L995.7,336.6 L997.2,336.7 L998.7,336.8 L1000.2,336.9 L1001.7,337.0 L1003.2,337.1 L1004.7,337.3 L1006.2,337.4 L1007.7,337.6 L1009.2,337.8 L1010.0,337.9" fill="none" stroke="#808080" stroke-width="2.5" stroke-dasharray="7.6 14.2" stroke-linejoin="round" stroke-linecap="round"/>
<path d="M551.7,296.5 L553.2,296.3 L554.7,296.2 L556.2,294.9 L557.7,294.9 L559.2,294.7 L560.7,295.2 L562.2,294.6 L563.7,294.2 L565.2,293.4 L566.7,294.0 L568.2,292.9 L569.7,293.4 L571.2,292.6 L572.7,293.2 L574.2,291.9 L575.7,291.8 L577.2,292.5 L578.7,291.5 L580.2,291.8 L581.7,291.4 L583.2,291.4 L584.7,291.3 L586.2,290.9 L587.7,290.8 L589.2,290.8 L590.7,290.0 L592.2,290.3 L593.7,289.4 L595.2,289.9 L596.7,289.3 L598.2,289.2 L599.7,288.5 L601.2,288.8 L602.7,288.5 L604.2,288.1 L605.7,287.6 L607.2,287.2 L608.7,286.2 L610.2,286.0 L611.7,285.4 L613.2,284.8 L614.7,284.6 L616.2,284.2 L617.7,283.6 L619.2,282.6 L620.7,281.8 L622.2,281.3 L623.7,280.3 L625.2,279.8 L626.7,279.0 L628.2,277.9 L629.7,277.1 L631.2,275.8 L632.7,275.1 L634.2,273.8 L635.7,272.7 L637.2,271.6 L638.7,270.2 L640.2,269.0 L641.7,267.5 L643.2,266.0 L644.7,264.8 L646.2,263.2 L647.7,261.6 L649.2,259.9 L650.7,258.1 L652.2,256.3 L653.7,254.5 L655.2,252.6 L656.7,250.5 L658.2,248.4 L659.7,246.3 L661.2,244.1 L662.7,241.7 L664.2,239.4 L665.7,236.9 L667.2,234.4 L668.7,231.9 L670.2,229.3 L671.7,226.6 L673.2,223.9 L674.7,221.2 L676.2,218.5 L677.7,215.7 L679.2,212.9 L680.7,210.0 L682.2,207.2 L683.7,204.3 L685.2,201.3 L686.7,198.4 L688.2,195.4 L689.7,192.3 L691.2,189.2 L692.7,186.1 L694.2,183.0 L695.7,179.8 L697.2,176.7 L698.7,173.6 L700.2,170.5 L701.7,167.4 L703.2,164.4 L704.7,161.4 L706.2,158.5 L707.7,155.7 L709.2,152.9 L710.7,150.2 L712.2,147.6 L713.7,144.9 L715.2,142.3 L716.7,139.7 L718.2,137.1 L719.7,134.5 L721.2,132.0 L722.7,129.6 L724.2,127.2 L725.7,125.0 L727.2,122.8 L728.7,120.9 L730.2,119.0 L731.7,117.4 L733.2,115.9 L734.7,114.6 L736.2,113.5 L737.7,112.6 L739.2,111.8 L740.7,111.1 L742.2,110.6 L743.7,110.1 L745.2,109.7 L746.7,109.4 L748.2,109.1 L749.7,108.9 L751.2,108.8 L752.7,108.8 L754.2,108.9 L755.7,109.0 L757.2,109.2 L758.7,109.5 L760.2,110.0 L761.7,110.5 L763.2,111.1 L764.7,111.7 L766.2,112.5 L767.7,113.4 L769.2,114.4 L770.7,115.6 L772.2,116.8 L773.7,118.1 L775.2,119.5 L776.7,121.1 L778.2,122.7 L779.7,124.4 L781.2,126.2 L782.7,128.1 L784.2,130.1 L785.7,132.2 L787.2,134.3 L788.7,136.5 L790.2,138.8 L791.7,141.1 L793.2,143.5 L794.7,146.0 L796.2,148.5 L797.7,151.0 L799.2,153.6 L800.7,156.3 L802.2,158.9 L803.7,161.6 L805.2,164.4 L806.7,167.1 L808.2,169.9 L809.7,172.7 L811.2,175.5 L812.7,178.4 L814.2,181.2 L815.7,184.0 L817.2,186.9 L818.7,189.7 L820.2,192.5 L821.7,195.3 L823.2,198.1 L824.7,200.9 L826.2,203.6 L827.7,206.3 L829.2,209.0 L830.7,211.7 L832.2,214.5 L833.7,217.2 L835.2,220.0 L836.7,222.9 L838.2,225.8 L839.7,228.8 L841.2,231.9 L842.7,235.1 L844.2,238.3 L845.7,241.5 L847.2,244.7 L848.7,247.8 L850.2,250.8 L851.7,253.8 L853.2,256.5 L854.7,259.2 L856.2,261.8 L857.7,264.3 L859.2,266.8 L860.7,269.2 L862.2,271.6 L863.7,273.9 L865.2,276.2 L866.7,278.4 L868.2,280.6 L869.7,282.8 L871.2,284.9 L872.7,286.9 L874.2,288.9 L875.7,290.9 L877.2,292.8 L878.7,294.7 L880.2,296.5 L881.7,298.3 L883.2,300.0 L884.7,301.7 L886.2,303.3 L887.7,304.9 L889.2,306.5 L890.7,308.0 L892.2,309.5 L893.7,310.9 L895.2,312.2 L896.7,313.6 L898.2,314.8 L899.7,316.1 L901.2,317.2 L902.7,318.4 L904.2,319.5 L905.7,320.5 L907.2,321.5 L908.7,322.5 L910.2,323.4 L911.7,324.3 L913.2,325.1 L914.7,325.9 L916.2,326.7 L917.7,327.4 L919.2,328.1 L920.7,328.7 L922.2,329.3 L923.7,329.9 L925.2,330.5 L926.7,331.0 L928.2,331.5 L929.7,331.9 L931.2,332.4 L932.7,332.8 L934.2,333.1 L935.7,333.5 L937.2,333.8 L938.7,334.1 L940.2,334.4 L941.7,334.6 L943.2,334.9 L944.7,335.1 L946.2,335.3 L947.7,335.4 L949.2,335.6 L950.7,335.7 L952.2,335.8 L953.7,335.9 L955.2,336.0 L956.7,336.1 L958.2,336.2 L959.7,336.2 L961.2,336.3 L962.7,336.3 L964.2,336.3 L965.7,336.4 L967.2,336.4 L968.7,336.4 L970.2,336.4 L971.7,336.4 L973.2,336.4 L974.7,336.4 L976.2,336.4 L977.7,336.3 L979.2,336.3 L980.7,336.3 L982.2,336.3 L983.7,336.3 L985.2,336.3 L986.7,336.4 L988.2,336.4 L989.7,336.4 L991.2,336.4 L992.7,336.5 L994.2,336.5 L995.7,336.6 L997.2,336.7 L998.7,336.8 L1000.2,336.9 L1001.7,337.0 L1003.2,337.1 L1004.7,337.3 L1006.2,337.4 L1007.7,337.6 L1009.2,337.8 L1010.0,337.9" fill="none" stroke="#c0c0c0" stroke-width="2.5" stroke-dasharray="7.6 14.2" stroke-linejoin="round" stroke-linecap="round"/>
<path d="M551.7,294.2 L553.2,294.0 L554.7,293.7 L556.2,293.6 L557.7,294.5 L559.2,294.8 L560.7,294.1 L562.2,293.9 L563.7,294.8 L565.2,294.1 L566.7,294.8 L568.2,294.7 L569.7,294.3 L571.2,294.5 L572.7,294.3 L574.2,294.0 L575.7,294.1 L577.2,294.5 L578.7,294.6 L580.2,293.8 L581.7,293.8 L583.2,293.5 L584.7,294.4 L586.2,293.3 L587.7,293.4 L589.2,292.9 L590.7,293.1 L592.2,292.9 L593.7,292.5 L595.2,292.3 L596.7,291.5 L598.2,291.7 L599.7,291.2 L601.2,290.2 L602.7,289.9 L604.2,289.0 L605.7,289.1 L607.2,288.5 L608.7,287.5 L610.2,286.7 L611.7,286.2 L613.2,285.1 L614.7,284.0 L616.2,283.5 L617.7,282.4 L619.2,281.7 L620.7,280.3 L622.2,279.0 L623.7,278.1 L625.2,276.9 L626.7,275.2 L628.2,273.9 L629.7,272.6 L631.2,271.1 L632.7,269.6 L634.2,267.9 L635.7,266.3 L637.2,264.4 L638.7,262.4 L640.2,260.7 L641.7,258.7 L643.2,256.6 L644.7,254.5 L646.2,252.3 L647.7,250.0 L649.2,247.8 L650.7,245.3 L652.2,242.9 L653.7,240.5 L655.2,237.9 L656.7,235.3 L658.2,232.7 L659.7,230.0 L661.2,227.2 L662.7,224.4 L664.2,221.5 L665.7,218.6 L667.2,215.6 L668.7,212.6 L670.2,209.5 L671.7,206.3 L673.2,203.1 L674.7,199.9 L676.2,196.6 L677.7,193.3 L679.2,189.9 L680.7,186.5 L682.2,183.0 L683.7,179.5 L685.2,176.0 L686.7,172.4 L688.2,168.8 L689.7,165.3 L691.2,161.7 L692.7,158.1 L694.2,154.5 L695.7,151.0 L697.2,147.5 L698.7,144.0 L700.2,140.6 L701.7,137.3 L703.2,134.0 L704.7,130.8 L706.2,127.7 L707.7,124.6 L709.2,121.7 L710.7,118.8 L712.2,116.1 L713.7,113.4 L715.2,110.9 L716.7,108.4 L718.2,106.1 L719.7,103.9 L721.2,101.7 L722.7,99.7 L724.2,97.8 L725.7,96.1 L727.2,94.4 L728.7,92.8 L730.2,91.4 L731.7,90.1 L733.2,88.9 L734.7,87.8 L736.2,86.8 L737.7,86.0 L739.2,85.3 L740.7,84.7 L742.2,84.2 L743.7,83.8 L745.2,83.5 L746.7,83.4 L748.2,83.4 L749.7,83.4 L751.2,83.6 L752.7,83.9 L754.2,84.3 L755.7,84.8 L757.2,85.4 L758.7,86.1 L760.2,86.9 L761.7,87.9 L763.2,88.9 L764.7,90.0 L766.2,91.2 L767.7,92.5 L769.2,94.0 L770.7,95.5 L772.2,97.1 L773.7,98.8 L775.2,100.6 L776.7,102.5 L778.2,104.5 L779.7,106.6 L781.2,108.7 L782.7,111.0 L784.2,113.3 L785.7,115.7 L787.2,118.2 L788.7,120.8 L790.2,123.4 L791.7,126.1 L793.2,128.8 L794.7,131.6 L796.2,134.4 L797.7,137.2 L799.2,140.1 L800.7,143.0 L802.2,146.0 L803.7,148.9 L805.2,151.9 L806.7,154.9 L808.2,157.8 L809.7,160.8 L811.2,163.8 L812.7,166.8 L814.2,169.8 L815.7,172.8 L817.2,175.8 L818.7,178.9 L820.2,181.9 L821.7,185.0 L823.2,188.1 L824.7,191.2 L826.2,194.3 L827.7,197.4 L829.2,200.6 L830.7,203.8 L832.2,207.0 L833.7,210.2 L835.2,213.4 L836.7,216.7 L838.2,219.9 L839.7,223.2 L841.2,226.5 L842.7,229.8 L844.2,233.0 L845.7,236.2 L847.2,239.5 L848.7,242.6 L850.2,245.8 L851.7,248.9 L853.2,252.0 L854.7,255.0 L856.2,258.0 L857.7,260.9 L859.2,263.7 L860.7,266.5 L862.2,269.2 L863.7,271.8 L865.2,274.4 L866.7,276.9 L868.2,279.3 L869.7,281.6 L871.2,283.9 L872.7,286.2 L874.2,288.3 L875.7,290.5 L877.2,292.5 L878.7,294.5 L880.2,296.4 L881.7,298.3 L883.2,300.1 L884.7,301.8 L886.2,303.5 L887.7,305.2 L889.2,306.7 L890.7,308.3 L892.2,309.7 L893.7,311.1 L895.2,312.5 L896.7,313.8 L898.2,315.1 L899.7,316.3 L901.2,317.5 L902.7,318.6 L904.2,319.7 L905.7,320.7 L907.2,321.7 L908.7,322.7 L910.2,323.6 L911.7,324.5 L913.2,325.3 L914.7,326.1 L916.2,326.8 L917.7,327.5 L919.2,328.2 L920.7,328.9 L922.2,329.5 L923.7,330.0 L925.2,330.6 L926.7,331.1 L928.2,331.6 L929.7,332.0 L931.2,332.4 L932.7,332.8 L934.2,333.2 L935.7,333.5 L937.2,333.8 L938.7,334.1 L940.2,334.4 L941.7,334.6 L943.2,334.9 L944.7,335.1 L946.2,335.2 L947.7,335.4 L949.2,335.6 L950.7,335.7 L952.2,335.8 L953.7,335.9 L955.2,336.0 L956.7,336.1 L958.2,336.1 L959.7,336.2 L961.2,336.2 L962.7,336.3 L964.2,336.3 L965.7,336.3 L967.2,336.3 L968.7,336.3 L970.2,336.3 L971.7,336.3 L973.2,336.3 L974.7,336.3 L976.2,336.3 L977.7,336.3 L979.2,336.3 L980.7,336.3 L982.2,336.3 L983.7,336.3 L985.2,336.3 L986.7,336.3 L988.2,336.3 L989.7,336.4 L991.2,336.4 L992.7,336.4 L994.2,336.5 L995.7,336.6 L997.2,336.7 L998.7,336.8 L1000.2,336.9 L1001.7,337.0 L1003.2,337.1 L1004.7,337.3 L1006.2,337.5 L1007.7,337.7 L1009.2,337.9 L1010.0,338.0" fill="none" stroke="#000" stroke-width="2.5" stroke-dasharray="10.5 8 0.5 8" stroke-linejoin="round" stroke-linecap="round"/>
<path d="M551.7,296.7 L553.2,297.4 L554.7,296.3 L556.2,297.0 L557.7,296.7 L559.2,295.8 L560.7,296.3 L562.2,296.0 L563.7,295.7 L565.2,295.8 L566.7,295.4 L568.2,294.4 L569.7,293.9 L571.2,293.2 L572.7,293.1 L574.2,293.0 L575.7,292.8 L577.2,291.4 L578.7,291.3 L580.2,290.3 L581.7,290.5 L583.2,289.9 L584.7,288.3 L586.2,287.6 L587.7,287.6 L589.2,286.4 L590.7,285.4 L592.2,285.1 L593.7,284.1 L595.2,282.5 L596.7,281.5 L598.2,280.9 L599.7,279.8 L601.2,278.2 L602.7,276.9 L604.2,275.9 L605.7,274.1 L607.2,272.8 L608.7,271.1 L610.2,269.7 L611.7,268.1 L613.2,266.6 L614.7,265.1 L616.2,263.5 L617.7,261.2 L619.2,259.2 L620.7,257.5 L622.2,255.5 L623.7,253.4 L625.2,251.1 L626.7,249.0 L628.2,246.3 L629.7,244.1 L631.2,241.4 L632.7,239.2 L634.2,236.5 L635.7,233.6 L637.2,230.8 L638.7,227.7 L640.2,224.7 L641.7,221.5 L643.2,218.2 L644.7,214.8 L646.2,211.5 L647.7,207.9 L649.2,204.4 L650.7,200.8 L652.2,197.2 L653.7,193.5 L655.2,189.7 L656.7,186.0 L658.2,182.1 L659.7,178.2 L661.2,174.4 L662.7,170.6 L664.2,166.8 L665.7,163.1 L667.2,159.4 L668.7,155.8 L670.2,152.3 L671.7,148.8 L673.2,145.5 L674.7,142.1 L676.2,138.8 L677.7,135.5 L679.2,132.2 L680.7,128.8 L682.2,125.5 L683.7,122.1 L685.2,118.6 L686.7,115.2 L688.2,111.7 L689.7,108.3 L691.2,104.9 L692.7,101.5 L694.2,98.2 L695.7,95.0 L697.2,92.0 L698.7,89.0 L700.2,86.2 L701.7,83.5 L703.2,80.9 L704.7,78.4 L706.2,76.1 L707.7,73.9 L709.2,71.8 L710.7,69.8 L712.2,68.0 L713.7,66.2 L715.2,64.6 L716.7,63.1 L718.2,61.8 L719.7,60.5 L721.2,59.4 L722.7,58.4 L724.2,57.5 L725.7,56.7 L727.2,56.1 L728.7,55.5 L730.2,55.1 L731.7,54.8 L733.2,54.6 L734.7,54.6 L736.2,54.6 L737.7,54.7 L739.2,55.0 L740.7,55.3 L742.2,55.7 L743.7,56.3 L745.2,57.0 L746.7,57.7 L748.2,58.6 L749.7,59.5 L751.2,60.5 L752.7,61.7 L754.2,62.9 L755.7,64.2 L757.2,65.6 L758.7,67.1 L760.2,68.7 L761.7,70.4 L763.2,72.1 L764.7,73.9 L766.2,75.9 L767.7,77.9 L769.2,79.9 L770.7,82.1 L772.2,84.3 L773.7,86.6 L775.2,89.0 L776.7,91.4 L778.2,93.9 L779.7,96.5 L781.2,99.1 L782.7,101.8 L784.2,104.6 L785.7,107.4 L787.2,110.2 L788.7,113.1 L790.2,116.0 L791.7,118.9 L793.2,121.9 L794.7,125.0 L796.2,128.1 L797.7,131.3 L799.2,134.6 L800.7,138.0 L802.2,141.4 L803.7,144.9 L805.2,148.5 L806.7,152.0 L808.2,155.6 L809.7,159.1 L811.2,162.6 L812.7,166.1 L814.2,169.4 L815.7,172.7 L817.2,175.9 L818.7,179.0 L820.2,182.1 L821.7,185.2 L823.2,188.3 L824.7,191.3 L826.2,194.4 L827.7,197.5 L829.2,200.6 L830.7,203.8 L832.2,206.9 L833.7,210.1 L835.2,213.2 L836.7,216.4 L838.2,219.6 L839.7,222.8 L841.2,226.0 L842.7,229.2 L844.2,232.4 L845.7,235.6 L847.2,238.8 L848.7,242.0 L850.2,245.1 L851.7,248.3 L853.2,251.4 L854.7,254.5 L856.2,257.6 L857.7,260.6 L859.2,263.6 L860.7,266.5 L862.2,269.3 L863.7,272.1 L865.2,274.7 L866.7,277.3 L868.2,279.7 L869.7,282.1 L871.2,284.4 L872.7,286.6 L874.2,288.8 L875.7,290.9 L877.2,292.9 L878.7,294.9 L880.2,296.8 L881.7,298.6 L883.2,300.4 L884.7,302.1 L886.2,303.8 L887.7,305.4 L889.2,307.0 L890.7,308.5 L892.2,309.9 L893.7,311.3 L895.2,312.7 L896.7,314.0 L898.2,315.2 L899.7,316.4 L901.2,317.5 L902.7,318.6 L904.2,319.7 L905.7,320.7 L907.2,321.7 L908.7,322.6 L910.2,323.5 L911.7,324.3 L913.2,325.1 L914.7,325.9 L916.2,326.6 L917.7,327.3 L919.2,328.0 L920.7,328.6 L922.2,329.2 L923.7,329.8 L925.2,330.3 L926.7,330.8 L928.2,331.3 L929.7,331.7 L931.2,332.1 L932.7,332.5 L934.2,332.9 L935.7,333.2 L937.2,333.5 L938.7,333.8 L940.2,334.1 L941.7,334.4 L943.2,334.6 L944.7,334.8 L946.2,335.0 L947.7,335.2 L949.2,335.4 L950.7,335.5 L952.2,335.7 L953.7,335.8 L955.2,335.9 L956.7,336.0 L958.2,336.1 L959.7,336.2 L961.2,336.3 L962.7,336.3 L964.2,336.4 L965.7,336.4 L967.2,336.5 L968.7,336.5 L970.2,336.5 L971.7,336.5 L973.2,336.6 L974.7,336.6 L976.2,336.6 L977.7,336.6 L979.2,336.6 L980.7,336.6 L982.2,336.6 L983.7,336.6 L985.2,336.6 L986.7,336.7 L988.2,336.7 L989.7,336.7 L991.2,336.7 L992.7,336.7 L994.2,336.8 L995.7,336.8 L997.2,336.8 L998.7,336.9 L1000.2,336.9 L1001.7,337.0 L1003.2,337.1 L1004.7,337.2 L1006.2,337.3 L1007.7,337.4 L1009.2,337.5 L1010.0,337.6" fill="none" stroke="#808080" stroke-width="2.5" stroke-dasharray="10.5 8 0.5 8" stroke-linejoin="round" stroke-linecap="round"/>
<path d="M551.7,279.1 L553.2,279.1 L554.7,278.0 L556.2,278.0 L557.7,278.7 L559.2,277.9 L560.7,277.9 L562.2,278.7 L563.7,278.0 L565.2,277.7 L566.7,278.1 L568.2,277.3 L569.7,276.7 L571.2,276.6 L572.7,276.3 L574.2,276.3 L575.7,275.8 L577.2,274.6 L578.7,274.4 L580.2,274.3 L581.7,272.9 L583.2,272.2 L584.7,271.7 L586.2,271.5 L587.7,270.0 L589.2,269.3 L590.7,268.1 L592.2,267.0 L593.7,266.1 L595.2,265.1 L596.7,264.1 L598.2,262.6 L599.7,261.6 L601.2,260.3 L602.7,258.1 L604.2,257.1 L605.7,255.1 L607.2,253.5 L608.7,251.5 L610.2,250.0 L611.7,248.3 L613.2,245.9 L614.7,244.0 L616.2,241.9 L617.7,239.4 L619.2,236.9 L620.7,234.4 L622.2,232.3 L623.7,229.4 L625.2,227.0 L626.7,224.1 L628.2,221.5 L629.7,218.4 L631.2,215.7 L632.7,212.8 L634.2,209.7 L635.7,206.4 L637.2,203.3 L638.7,200.1 L640.2,197.0 L641.7,193.7 L643.2,190.2 L644.7,186.9 L646.2,183.4 L647.7,180.1 L649.2,176.6 L650.7,173.0 L652.2,169.5 L653.7,165.9 L655.2,162.3 L656.7,158.6 L658.2,155.0 L659.7,151.3 L661.2,147.6 L662.7,143.9 L664.2,140.2 L665.7,136.5 L667.2,132.8 L668.7,129.1 L670.2,125.4 L671.7,121.8 L673.2,118.2 L674.7,114.6 L676.2,111.1 L677.7,107.6 L679.2,104.3 L680.7,100.9 L682.2,97.7 L683.7,94.5 L685.2,91.4 L686.7,88.4 L688.2,85.5 L689.7,82.8 L691.2,80.1 L692.7,77.5 L694.2,75.0 L695.7,72.6 L697.2,70.3 L698.7,68.1 L700.2,66.0 L701.7,64.0 L703.2,62.1 L704.7,60.3 L706.2,58.7 L707.7,57.1 L709.2,55.6 L710.7,54.2 L712.2,52.9 L713.7,51.7 L715.2,50.7 L716.7,49.7 L718.2,48.8 L719.7,48.0 L721.2,47.4 L722.7,46.8 L724.2,46.3 L725.7,45.9 L727.2,45.7 L728.7,45.5 L730.2,45.4 L731.7,45.4 L733.2,45.5 L734.7,45.7 L736.2,46.0 L737.7,46.4 L739.2,46.9 L740.7,47.4 L742.2,48.1 L743.7,48.9 L745.2,49.7 L746.7,50.6 L748.2,51.6 L749.7,52.8 L751.2,53.9 L752.7,55.2 L754.2,56.6 L755.7,58.0 L757.2,59.6 L758.7,61.2 L760.2,62.9 L761.7,64.7 L763.2,66.6 L764.7,68.5 L766.2,70.5 L767.7,72.6 L769.2,74.8 L770.7,77.1 L772.2,79.4 L773.7,81.9 L775.2,84.4 L776.7,86.9 L778.2,89.6 L779.7,92.3 L781.2,95.1 L782.7,98.0 L784.2,100.9 L785.7,103.9 L787.2,107.0 L788.7,110.1 L790.2,113.3 L791.7,116.5 L793.2,119.8 L794.7,123.1 L796.2,126.5 L797.7,129.9 L799.2,133.4 L800.7,136.8 L802.2,140.4 L803.7,143.9 L805.2,147.5 L806.7,151.0 L808.2,154.5 L809.7,158.0 L811.2,161.5 L812.7,164.9 L814.2,168.3 L815.7,171.6 L817.2,174.9 L818.7,178.1 L820.2,181.3 L821.7,184.5 L823.2,187.7 L824.7,190.8 L826.2,194.0 L827.7,197.2 L829.2,200.4 L830.7,203.6 L832.2,206.8 L833.7,210.0 L835.2,213.2 L836.7,216.4 L838.2,219.6 L839.7,222.9 L841.2,226.1 L842.7,229.3 L844.2,232.5 L845.7,235.6 L847.2,238.8 L848.7,242.0 L850.2,245.1 L851.7,248.2 L853.2,251.3 L854.7,254.4 L856.2,257.5 L857.7,260.5 L859.2,263.5 L860.7,266.3 L862.2,269.1 L863.7,271.9 L865.2,274.5 L866.7,277.0 L868.2,279.5 L869.7,281.9 L871.2,284.2 L872.7,286.4 L874.2,288.5 L875.7,290.6 L877.2,292.7 L878.7,294.6 L880.2,296.5 L881.7,298.4 L883.2,300.2 L884.7,301.9 L886.2,303.6 L887.7,305.2 L889.2,306.8 L890.7,308.3 L892.2,309.8 L893.7,311.2 L895.2,312.5 L896.7,313.8 L898.2,315.1 L899.7,316.3 L901.2,317.5 L902.7,318.6 L904.2,319.7 L905.7,320.7 L907.2,321.7 L908.7,322.6 L910.2,323.6 L911.7,324.4 L913.2,325.2 L914.7,326.0 L916.2,326.8 L917.7,327.5 L919.2,328.2 L920.7,328.8 L922.2,329.4 L923.7,330.0 L925.2,330.5 L926.7,331.0 L928.2,331.5 L929.7,332.0 L931.2,332.4 L932.7,332.8 L934.2,333.1 L935.7,333.5 L937.2,333.8 L938.7,334.1 L940.2,334.4 L941.7,334.6 L943.2,334.8 L944.7,335.0 L946.2,335.2 L947.7,335.4 L949.2,335.5 L950.7,335.7 L952.2,335.8 L953.7,335.9 L955.2,336.0 L956.7,336.1 L958.2,336.1 L959.7,336.2 L961.2,336.2 L962.7,336.3 L964.2,336.3 L965.7,336.3 L967.2,336.3 L968.7,336.3 L970.2,336.3 L971.7,336.3 L973.2,336.3 L974.7,336.3 L976.2,336.3 L977.7,336.3 L979.2,336.3 L980.7,336.3 L982.2,336.3 L983.7,336.3 L985.2,336.3 L986.7,336.3 L988.2,336.4 L989.7,336.4 L991.2,336.4 L992.7,336.5 L994.2,336.5 L995.7,336.6 L997.2,336.7 L998.7,336.8 L1000.2,336.9 L1001.7,337.0 L1003.2,337.1 L1004.7,337.3 L1006.2,337.5 L1007.7,337.6 L1009.2,337.9 L1010.0,338.0" fill="none" stroke="#c0c0c0" stroke-width="2.5" stroke-dasharray="10.5 8 0.5 8" stroke-linejoin="round" stroke-linecap="round"/>
<path d="M549.8,5 V358.5 H1009.5" fill="none" stroke="#000" stroke-width="2.3" stroke-linecap="butt" stroke-linejoin="round"/>
<line x1="549.8" y1="336.1" x2="556.8" y2="336.1" stroke="#000" stroke-width="2"/>
<text transform="translate(543.3,340.1) scale(0.96,1)" font-size="16" text-anchor="end" font-weight="normal" font-style="normal" >0</text>
<line x1="549.8" y1="314.1" x2="554.3" y2="314.1" stroke="#000" stroke-width="2"/>
<line x1="549.8" y1="292.0" x2="556.8" y2="292.0" stroke="#000" stroke-width="2"/>
<text transform="translate(543.3,296.0) scale(0.96,1)" font-size="16" text-anchor="end" font-weight="normal" font-style="normal" >2</text>
<line x1="549.8" y1="270.0" x2="554.3" y2="270.0" stroke="#000" stroke-width="2"/>
<line x1="549.8" y1="247.9" x2="556.8" y2="247.9" stroke="#000" stroke-width="2"/>
<text transform="translate(543.3,251.9) scale(0.96,1)" font-size="16" text-anchor="end" font-weight="normal" font-style="normal" >4</text>
<line x1="549.8" y1="225.9" x2="554.3" y2="225.9" stroke="#000" stroke-width="2"/>
<line x1="549.8" y1="203.9" x2="556.8" y2="203.9" stroke="#000" stroke-width="2"/>
<text transform="translate(543.3,207.9) scale(0.96,1)" font-size="16" text-anchor="end" font-weight="normal" font-style="normal" >6</text>
<line x1="549.8" y1="181.8" x2="554.3" y2="181.8" stroke="#000" stroke-width="2"/>
<line x1="549.8" y1="159.8" x2="556.8" y2="159.8" stroke="#000" stroke-width="2"/>
<text transform="translate(543.3,163.8) scale(0.96,1)" font-size="16" text-anchor="end" font-weight="normal" font-style="normal" >8</text>
<line x1="549.8" y1="137.7" x2="554.3" y2="137.7" stroke="#000" stroke-width="2"/>
<line x1="549.8" y1="115.7" x2="556.8" y2="115.7" stroke="#000" stroke-width="2"/>
<text transform="translate(543.3,119.7) scale(0.96,1)" font-size="16" text-anchor="end" font-weight="normal" font-style="normal" >10</text>
<line x1="549.8" y1="93.7" x2="554.3" y2="93.7" stroke="#000" stroke-width="2"/>
<line x1="549.8" y1="71.6" x2="556.8" y2="71.6" stroke="#000" stroke-width="2"/>
<text transform="translate(543.3,75.6) scale(0.96,1)" font-size="16" text-anchor="end" font-weight="normal" font-style="normal" >12</text>
<line x1="549.8" y1="49.6" x2="554.3" y2="49.6" stroke="#000" stroke-width="2"/>
<line x1="549.8" y1="27.5" x2="556.8" y2="27.5" stroke="#000" stroke-width="2"/>
<text transform="translate(543.3,31.5) scale(0.96,1)" font-size="16" text-anchor="end" font-weight="normal" font-style="normal" >14</text>
<line x1="549.8" y1="5.5" x2="554.3" y2="5.5" stroke="#000" stroke-width="2"/>
<text transform="translate(549.8,380.5) scale(0.96,1)" font-size="16" text-anchor="middle" font-weight="normal" font-style="normal" >100</text>
<line x1="630.2" y1="358.5" x2="630.2" y2="354.0" stroke="#000" stroke-width="2"/>
<line x1="664.8" y1="358.5" x2="664.8" y2="350.0" stroke="#000" stroke-width="2"/>
<text transform="translate(664.8,380.5) scale(0.96,1)" font-size="16" text-anchor="middle" font-weight="normal" font-style="normal" >1k</text>
<line x1="745.2" y1="358.5" x2="745.2" y2="354.0" stroke="#000" stroke-width="2"/>
<line x1="779.8" y1="358.5" x2="779.8" y2="350.0" stroke="#000" stroke-width="2"/>
<text transform="translate(779.8,380.5) scale(0.96,1)" font-size="16" text-anchor="middle" font-weight="normal" font-style="normal" >10k</text>
<line x1="860.2" y1="358.5" x2="860.2" y2="354.0" stroke="#000" stroke-width="2"/>
<line x1="894.8" y1="358.5" x2="894.8" y2="350.0" stroke="#000" stroke-width="2"/>
<text transform="translate(894.8,380.5) scale(0.96,1)" font-size="16" text-anchor="middle" font-weight="normal" font-style="normal" >100k</text>
<line x1="975.2" y1="358.5" x2="975.2" y2="354.0" stroke="#000" stroke-width="2"/>
<line x1="1009.8" y1="358.5" x2="1009.8" y2="350.0" stroke="#000" stroke-width="2"/>
<text transform="translate(1009.8,380.5) scale(0.96,1)" font-size="16" text-anchor="middle" font-weight="normal" font-style="normal" >1M</text>
<text transform="translate(574.5,31) scale(0.92,1)" font-size="21.2" text-anchor="start" font-weight="bold" font-style="normal" >A2</text>
<rect x="926" y="8.7" width="83.4" height="181.5" fill="none" stroke="#7c7c7c" stroke-width="1.2"/>
<line x1="927" y1="20.0" x2="960.5" y2="20.0" stroke="#000" stroke-width="3.0"/>
<text x="964.5" y="25.0" font-size="14" text-anchor="start" font-weight="normal" font-style="normal" class="lg">day 1</text>
<line x1="927" y1="40.1" x2="960.5" y2="40.1" stroke="#808080" stroke-width="3.0"/>
<text x="964.5" y="45.1" font-size="14" text-anchor="start" font-weight="normal" font-style="normal" class="lg">day 2</text>
<line x1="927" y1="60.2" x2="960.5" y2="60.2" stroke="#c0c0c0" stroke-width="3.0"/>
<text x="964.5" y="65.2" font-size="14" text-anchor="start" font-weight="normal" font-style="normal" class="lg">day 3</text>
<line x1="927" y1="80.3" x2="960.5" y2="80.3" stroke="#000" stroke-width="3.0" stroke-dasharray="10.2 11.6"/>
<text x="964.5" y="85.3" font-size="14" text-anchor="start" font-weight="normal" font-style="normal" class="lg">day 4</text>
<line x1="927" y1="100.4" x2="960.5" y2="100.4" stroke="#808080" stroke-width="3.0" stroke-dasharray="10.2 11.6"/>
<text x="964.5" y="105.4" font-size="14" text-anchor="start" font-weight="normal" font-style="normal" class="lg">day 5.</text>
<line x1="927" y1="120.5" x2="960.5" y2="120.5" stroke="#c0c0c0" stroke-width="3.0" stroke-dasharray="10.2 11.6"/>
<text x="964.5" y="125.5" font-size="14" text-anchor="start" font-weight="normal" font-style="normal" class="lg">day 6</text>
<line x1="927" y1="140.6" x2="960.5" y2="140.6" stroke="#000" stroke-width="3.0" stroke-dasharray="13 5.3 2.5 6.1"/>
<text x="964.5" y="145.6" font-size="14" text-anchor="start" font-weight="normal" font-style="normal" class="lg">day 7</text>
<line x1="927" y1="160.7" x2="960.5" y2="160.7" stroke="#808080" stroke-width="3.0" stroke-dasharray="13 5.3 2.5 6.1"/>
<text x="964.5" y="165.7" font-size="14" text-anchor="start" font-weight="normal" font-style="normal" class="lg">day 9</text>
<line x1="927" y1="180.8" x2="960.5" y2="180.8" stroke="#c0c0c0" stroke-width="3.0" stroke-dasharray="13 5.3 2.5 6.1"/>
<text x="964.5" y="185.8" font-size="14" text-anchor="start" font-weight="normal" font-style="normal" class="lg">day 11</text>
<text transform="translate(775,407.2) scale(0.915,1)" font-size="17.4" text-anchor="middle" font-weight="normal" font-style="normal" >frequency / Hz</text>
<text transform="translate(519.3,181.3) rotate(-90) scale(0.925,1)" font-size="20.3" text-anchor="middle">-ΔC / nF</text>
<path d="M86.3,650.1 L87.3,649.2 L88.3,648.4 L89.3,647.4 L90.3,646.5 L91.3,645.6 M94.0,643.0 L95.0,642.1 L96.0,641.1 L97.0,640.1 L98.0,639.1 L99.0,638.1 M101.7,635.2 L102.7,634.2 L103.7,633.1 L104.7,632.0 L105.7,630.9 L106.7,629.8 M109.4,626.8 L110.4,625.7 L111.4,624.5 L112.4,623.3 L113.4,622.2 L114.4,621.0 M117.1,617.7 L118.1,616.5 L119.1,615.3 L120.1,614.0 L121.1,612.8 L122.1,611.5 M124.8,608.1 L125.8,606.8 L126.8,605.5 L127.8,604.2 L128.8,602.9 L129.8,601.5 M132.5,597.9 L133.5,596.6 L134.5,595.2 L135.5,593.9 L136.5,592.5 L137.5,591.2 M140.2,587.4 L141.2,586.0 L142.2,584.7 L143.2,583.3 L144.2,581.9 L145.2,580.5 M147.9,576.7 L148.9,575.2 L149.9,573.8 L150.9,572.4 L151.9,571.0 L152.9,569.6 M155.6,565.8 L156.6,564.3 L157.6,562.9 L158.6,561.5 L159.6,560.1 L160.6,558.7 M163.3,554.9 L164.3,553.5 L165.3,552.1 L166.3,550.7 L167.3,549.3 L168.3,547.9 M171.0,544.2 L172.0,542.8 L173.0,541.4 L174.0,540.1 L175.0,538.7 L176.0,537.4 M178.7,533.7 L179.7,532.4 L180.7,531.1 L181.7,529.8 L182.7,528.5 L183.7,527.2 M186.4,523.7 L187.4,522.5 L188.4,521.2 L189.4,520.0 L190.4,518.7 L191.4,517.5 M194.1,514.2 L195.1,513.0 L196.1,511.8 L197.1,510.7 L198.1,509.5 L199.1,508.4 M201.8,505.3 L202.8,504.2 L203.8,503.1 L204.8,502.0 L205.8,500.9 L206.8,499.8 M209.5,497.0 L210.5,496.0 L211.5,495.0 L212.5,494.0 L213.5,493.0 L214.5,492.0 M217.2,489.4 L218.2,488.5 L219.2,487.5 L220.2,486.6 L221.2,485.7 L222.2,484.8 M224.9,482.5 L225.9,481.6 L226.9,480.8 L227.9,480.0 L228.9,479.1 L229.9,478.3 M232.6,476.2 L233.6,475.4 L234.6,474.7 L235.6,473.9 L236.6,473.2 L237.6,472.5 M240.3,470.6 L241.3,469.9 L242.3,469.2 L243.3,468.6 L244.3,467.9 L245.3,467.3 M248.0,465.6 L249.0,465.0 L250.0,464.4 L251.0,463.8 L252.0,463.2 L253.0,462.7 M255.7,461.2 L256.7,460.7 L257.7,460.1 L258.7,459.6 L259.7,459.1 L260.7,458.6 M263.4,457.3 L264.4,456.8 L265.4,456.4 L266.4,455.9 L267.4,455.5 L268.4,455.0 M271.1,453.9 L272.1,453.5 L273.1,453.1 L274.1,452.7 L275.1,452.3 L276.1,451.9 M278.8,450.9 L279.8,450.6 L280.8,450.2 L281.8,449.9 L282.8,449.5 L283.8,449.2 M286.5,448.3 L287.5,448.0 L288.5,447.7 L289.5,447.4 L290.5,447.1 L291.5,446.8 M294.2,446.1 L295.2,445.8 L296.2,445.6 L297.2,445.3 L298.2,445.0 L299.2,444.8 M301.9,444.1 L302.9,443.9 L303.9,443.7 L304.9,443.5 L305.9,443.2 L306.9,443.0 M309.6,442.5 L310.6,442.3 L311.6,442.1 L312.6,441.9 L313.6,441.7 L314.6,441.5 M317.3,441.0 L318.3,440.9 L319.3,440.7 L320.3,440.5 L321.3,440.4 L322.3,440.2 M325.0,439.8 L326.0,439.7 L327.0,439.5 L328.0,439.4 L329.0,439.2 L330.0,439.1 M332.7,438.7 L333.7,438.6 L334.7,438.5 L335.7,438.4 L336.7,438.3 L337.7,438.1 M340.4,437.8 L341.4,437.7 L342.4,437.6 L343.4,437.5 L344.4,437.4 L345.4,437.3 M348.1,437.1 L349.1,437.0 L350.1,436.9 L351.1,436.8 L352.1,436.7 L353.1,436.6 M355.8,436.4 L356.8,436.3 L357.8,436.2 L358.8,436.2 L359.8,436.1 L360.8,436.0 M363.5,435.8 L364.5,435.8 L365.5,435.7 L366.5,435.6 L367.5,435.6 L368.5,435.5 M371.2,435.3 L372.2,435.3 L373.2,435.2 L374.2,435.2 L375.2,435.1 L376.2,435.1 M378.9,434.9 L379.9,434.9 L380.9,434.8 L381.9,434.8 L382.9,434.7 L383.9,434.7 M386.6,434.6 L387.6,434.5 L388.6,434.5 L389.6,434.5 L390.6,434.4 L391.6,434.4 M394.3,434.3 L395.3,434.2 L396.3,434.2 L397.3,434.2 L398.3,434.1 L399.3,434.1 M402.0,434.0 L403.0,434.0 L404.0,434.0 L405.0,433.9 L406.0,433.9 L407.0,433.9 M409.7,433.8 L410.7,433.8 L411.7,433.8 L412.7,433.7 L413.7,433.7 L414.7,433.7 M417.4,433.6 L418.4,433.6 L419.4,433.6 L420.4,433.6 L421.4,433.5 L422.4,433.5 M425.1,433.5 L426.1,433.4 L427.1,433.4 L428.1,433.4 L429.1,433.4 L430.1,433.4 M432.8,433.3 L433.8,433.3 L434.8,433.3 L435.8,433.3 L436.8,433.3 L437.8,433.3 M440.5,433.2 L441.5,433.2 L442.5,433.2 L443.5,433.2 L444.5,433.2 L445.5,433.2 M448.2,433.1 L449.2,433.1 L450.2,433.1 L451.2,433.1 L452.2,433.1 L453.2,433.1 M455.9,433.0 L456.9,433.0 L457.9,433.0 L458.9,433.0 L459.9,433.0 L460.9,433.0 M463.6,433.0 L464.1,433.0 L464.6,433.0 L465.0,433.0 L465.5,432.9 L466.0,432.9 " fill="none" stroke="#000" stroke-width="2.0" stroke-linecap="butt"/>
<path d="M86.3,692.2 L87.3,692.1 L88.3,691.9 L89.3,691.7 L90.3,691.5 L91.3,691.4 M94.0,690.9 L95.0,690.7 L96.0,690.5 L97.0,690.3 L98.0,690.1 L99.0,689.9 M101.7,689.3 L102.7,689.1 L103.7,688.8 L104.7,688.6 L105.7,688.4 L106.7,688.1 M109.4,687.5 L110.4,687.2 L111.4,687.0 L112.4,686.7 L113.4,686.4 L114.4,686.2 M117.1,685.4 L118.1,685.1 L119.1,684.8 L120.1,684.5 L121.1,684.2 L122.1,683.9 M124.8,683.0 L125.8,682.7 L126.8,682.3 L127.8,682.0 L128.8,681.6 L129.8,681.3 M132.5,680.3 L133.5,679.9 L134.5,679.5 L135.5,679.1 L136.5,678.7 L137.5,678.3 M140.2,677.2 L141.2,676.8 L142.2,676.4 L143.2,675.9 L144.2,675.5 L145.2,675.0 M147.9,673.7 L148.9,673.3 L149.9,672.8 L150.9,672.3 L151.9,671.8 L152.9,671.3 M155.6,669.8 L156.6,669.3 L157.6,668.8 L158.6,668.2 L159.6,667.6 L160.6,667.1 M163.3,665.5 L164.3,664.9 L165.3,664.3 L166.3,663.7 L167.3,663.1 L168.3,662.4 M171.0,660.7 L172.0,660.0 L173.0,659.4 L174.0,658.7 L175.0,658.0 L176.0,657.3 M178.7,655.4 L179.7,654.7 L180.7,654.0 L181.7,653.2 L182.7,652.5 L183.7,651.7 M186.4,649.7 L187.4,648.9 L188.4,648.1 L189.4,647.3 L190.4,646.5 L191.4,645.7 M194.1,643.5 L195.1,642.6 L196.1,641.8 L197.1,641.0 L198.1,640.1 L199.1,639.2 M201.8,636.9 L202.8,636.0 L203.8,635.1 L204.8,634.2 L205.8,633.3 L206.8,632.4 M209.5,629.9 L210.5,629.0 L211.5,628.0 L212.5,627.1 L213.5,626.1 L214.5,625.2 M217.2,622.6 L218.2,621.6 L219.2,620.7 L220.2,619.7 L221.2,618.7 L222.2,617.7 M224.9,615.1 L225.9,614.1 L226.9,613.1 L227.9,612.1 L228.9,611.1 L229.9,610.1 M232.6,607.4 L233.6,606.4 L234.6,605.4 L235.6,604.4 L236.6,603.4 L237.6,602.4 M240.3,599.7 L241.3,598.7 L242.3,597.7 L243.3,596.7 L244.3,595.7 L245.3,594.7 M248.0,592.0 L249.0,591.0 L250.0,590.0 L251.0,589.0 L252.0,588.1 L253.0,587.1 M255.7,584.5 L256.7,583.5 L257.7,582.5 L258.7,581.6 L259.7,580.6 L260.7,579.7 M263.4,577.2 L264.4,576.2 L265.4,575.3 L266.4,574.4 L267.4,573.5 L268.4,572.6 M271.1,570.2 L272.1,569.3 L273.1,568.4 L274.1,567.5 L275.1,566.7 L276.1,565.8 M278.8,563.5 L279.8,562.7 L280.8,561.9 L281.8,561.1 L282.8,560.3 L283.8,559.5 M286.5,557.3 L287.5,556.6 L288.5,555.8 L289.5,555.0 L290.5,554.3 L291.5,553.6 M294.2,551.6 L295.2,550.9 L296.2,550.2 L297.2,549.5 L298.2,548.8 L299.2,548.1 M301.9,546.3 L302.9,545.6 L303.9,545.0 L304.9,544.4 L305.9,543.7 L306.9,543.1 M309.6,541.5 L310.6,540.9 L311.6,540.3 L312.6,539.7 L313.6,539.2 L314.6,538.6 M317.3,537.1 L318.3,536.6 L319.3,536.1 L320.3,535.6 L321.3,535.0 L322.3,534.5 M325.0,533.2 L326.0,532.7 L327.0,532.3 L328.0,531.8 L329.0,531.4 L330.0,530.9 M332.7,529.7 L333.7,529.3 L334.7,528.9 L335.7,528.5 L336.7,528.1 L337.7,527.7 M340.4,526.7 L341.4,526.3 L342.4,525.9 L343.4,525.5 L344.4,525.2 L345.4,524.8 M348.1,523.9 L349.1,523.6 L350.1,523.3 L351.1,523.0 L352.1,522.6 L353.1,522.3 M355.8,521.5 L356.8,521.2 L357.8,521.0 L358.8,520.7 L359.8,520.4 L360.8,520.1 M363.5,519.4 L364.5,519.2 L365.5,518.9 L366.5,518.7 L367.5,518.5 L368.5,518.2 M371.2,517.6 L372.2,517.4 L373.2,517.2 L374.2,517.0 L375.2,516.8 L376.2,516.6 M378.9,516.0 L379.9,515.8 L380.9,515.7 L381.9,515.5 L382.9,515.3 L383.9,515.1 M386.6,514.7 L387.6,514.5 L388.6,514.3 L389.6,514.2 L390.6,514.0 L391.6,513.9 M394.3,513.5 L395.3,513.3 L396.3,513.2 L397.3,513.1 L398.3,512.9 L399.3,512.8 M402.0,512.5 L403.0,512.3 L404.0,512.2 L405.0,512.1 L406.0,512.0 L407.0,511.9 M409.7,511.6 L410.7,511.5 L411.7,511.4 L412.7,511.3 L413.7,511.2 L414.7,511.1 M417.4,510.8 L418.4,510.7 L419.4,510.6 L420.4,510.5 L421.4,510.5 L422.4,510.4 M425.1,510.2 L426.1,510.1 L427.1,510.0 L428.1,509.9 L429.1,509.9 L430.1,509.8 M432.8,509.6 L433.8,509.5 L434.8,509.5 L435.8,509.4 L436.8,509.3 L437.8,509.3 M440.5,509.1 L441.5,509.1 L442.5,509.0 L443.5,508.9 L444.5,508.9 L445.5,508.8 M448.2,508.7 L449.2,508.7 L450.2,508.6 L451.2,508.6 L452.2,508.5 L453.2,508.5 M455.9,508.4 L456.9,508.3 L457.9,508.3 L458.9,508.2 L459.9,508.2 L460.9,508.2 " fill="none" stroke="#000" stroke-width="2.0" stroke-linecap="butt"/>
<path d="M86.3,665.6 L88.8,664.2 L91.4,662.7 L93.9,661.2 L96.5,659.7 L99.0,658.1 L101.6,656.4 L104.1,654.7 L106.7,653.0 L109.2,651.2 L111.8,649.3 L114.3,647.5 L116.9,645.5 L119.4,643.5 L122.0,641.5 L124.5,639.4 L127.1,637.3 L129.6,635.1 L132.2,632.9 L134.7,630.6 L137.3,628.3 L139.8,625.9 L142.4,623.5 L144.9,621.1 L147.5,618.6 L150.0,616.1 L152.6,613.6 L155.1,611.0 L157.7,608.4 L160.2,605.7 L162.7,603.1 L165.3,600.4 L167.8,597.7 L170.4,595.0 L172.9,592.2 L175.5,589.5 L178.0,586.7 L180.6,584.0 L183.1,581.2 L185.7,578.4 L188.2,575.6 L190.8,572.9 L193.3,570.1 L195.9,567.4 L198.4,564.6 L201.0,561.9 L203.5,559.2 L206.1,556.5 L208.6,553.9 L211.2,551.3 L213.7,548.7 L216.3,546.1 L218.8,543.6 L221.4,541.1 L223.9,538.6 L226.5,536.2 L229.0,533.8 L231.6,531.5 L234.1,529.2 L236.7,526.9 L239.2,524.7 L241.7,522.5 L244.3,520.4 L246.8,518.4 L249.4,516.3 L251.9,514.4 L254.5,512.4 L257.0,510.6 L259.6,508.7 L262.1,507.0 L264.7,505.2 L267.2,503.6 L269.8,501.9 L272.3,500.3 L274.9,498.8 L277.4,497.3 L280.0,495.9 L282.5,494.5 L285.1,493.1 L287.6,491.8 L290.2,490.6 L292.7,489.3 L295.3,488.1 L297.8,487.0 L300.4,485.9 L302.9,484.8 L305.5,483.8 L308.0,482.8 L310.6,481.9 L313.1,481.0 L315.6,480.1 L318.2,479.2 L320.7,478.4 L323.3,477.6 L325.8,476.9 L328.4,476.1 L330.9,475.4 L333.5,474.8 L336.0,474.1 L338.6,473.5 L341.1,472.9 L343.7,472.3 L346.2,471.8 L348.8,471.3 L351.3,470.8 L353.9,470.3 L356.4,469.8 L359.0,469.4 L361.5,468.9 L364.1,468.5 L366.6,468.1 L369.2,467.8 L371.7,467.4 L374.3,467.0 L376.8,466.7 L379.4,466.4 L381.9,466.1 L384.5,465.8 L387.0,465.5 L389.6,465.3 L392.1,465.0 L394.6,464.8 L397.2,464.5 L399.7,464.3 L402.3,464.1 L404.8,463.9 L407.4,463.7 L409.9,463.5 L412.5,463.3 L415.0,463.2 L417.6,463.0 L420.1,462.8 L422.7,462.7 L425.2,462.5 L427.8,462.4 L430.3,462.3 L432.9,462.1 L435.4,462.0 L438.0,461.9 L440.5,461.8 L443.1,461.7 L445.6,461.6 L448.2,461.5 L450.7,461.4 L453.3,461.3 L455.8,461.2 L458.4,461.2 L460.9,461.1 L463.5,461.0 L466.0,460.9" fill="none" stroke="#000" stroke-width="2.6" stroke-linejoin="round" stroke-linecap="butt"/>
<path d="M85.75,666.12 a1.35,1.35 0 1,0 2.7,0 a1.35,1.35 0 1,0 -2.7,0 M98.19,660.24 a1.35,1.35 0 1,0 2.7,0 a1.35,1.35 0 1,0 -2.7,0 M110.63,653.59 a1.35,1.35 0 1,0 2.7,0 a1.35,1.35 0 1,0 -2.7,0 M123.07,646.12 a1.35,1.35 0 1,0 2.7,0 a1.35,1.35 0 1,0 -2.7,0 M135.51,637.83 a1.35,1.35 0 1,0 2.7,0 a1.35,1.35 0 1,0 -2.7,0 M147.95,628.74 a1.35,1.35 0 1,0 2.7,0 a1.35,1.35 0 1,0 -2.7,0 M160.39,618.92 a1.35,1.35 0 1,0 2.7,0 a1.35,1.35 0 1,0 -2.7,0 M172.83,608.47 a1.35,1.35 0 1,0 2.7,0 a1.35,1.35 0 1,0 -2.7,0 M185.27,597.52 a1.35,1.35 0 1,0 2.7,0 a1.35,1.35 0 1,0 -2.7,0 M197.71,586.23 a1.35,1.35 0 1,0 2.7,0 a1.35,1.35 0 1,0 -2.7,0 M210.15,574.80 a1.35,1.35 0 1,0 2.7,0 a1.35,1.35 0 1,0 -2.7,0 M222.59,563.42 a1.35,1.35 0 1,0 2.7,0 a1.35,1.35 0 1,0 -2.7,0 M235.03,552.29 a1.35,1.35 0 1,0 2.7,0 a1.35,1.35 0 1,0 -2.7,0 M247.47,541.58 a1.35,1.35 0 1,0 2.7,0 a1.35,1.35 0 1,0 -2.7,0 M259.91,531.44 a1.35,1.35 0 1,0 2.7,0 a1.35,1.35 0 1,0 -2.7,0 M272.35,522.00 a1.35,1.35 0 1,0 2.7,0 a1.35,1.35 0 1,0 -2.7,0 M284.79,513.33 a1.35,1.35 0 1,0 2.7,0 a1.35,1.35 0 1,0 -2.7,0 M297.23,505.46 a1.35,1.35 0 1,0 2.7,0 a1.35,1.35 0 1,0 -2.7,0 M309.67,498.42 a1.35,1.35 0 1,0 2.7,0 a1.35,1.35 0 1,0 -2.7,0 M322.11,492.18 a1.35,1.35 0 1,0 2.7,0 a1.35,1.35 0 1,0 -2.7,0 M334.55,486.71 a1.35,1.35 0 1,0 2.7,0 a1.35,1.35 0 1,0 -2.7,0 M346.99,481.94 a1.35,1.35 0 1,0 2.7,0 a1.35,1.35 0 1,0 -2.7,0 M359.43,477.83 a1.35,1.35 0 1,0 2.7,0 a1.35,1.35 0 1,0 -2.7,0 M371.87,474.29 a1.35,1.35 0 1,0 2.7,0 a1.35,1.35 0 1,0 -2.7,0 M384.31,471.27 a1.35,1.35 0 1,0 2.7,0 a1.35,1.35 0 1,0 -2.7,0 M396.75,468.71 a1.35,1.35 0 1,0 2.7,0 a1.35,1.35 0 1,0 -2.7,0 M409.19,466.53 a1.35,1.35 0 1,0 2.7,0 a1.35,1.35 0 1,0 -2.7,0 M421.63,464.70 a1.35,1.35 0 1,0 2.7,0 a1.35,1.35 0 1,0 -2.7,0 M434.07,463.16 a1.35,1.35 0 1,0 2.7,0 a1.35,1.35 0 1,0 -2.7,0 M446.51,461.86 a1.35,1.35 0 1,0 2.7,0 a1.35,1.35 0 1,0 -2.7,0 M458.95,460.78 a1.35,1.35 0 1,0 2.7,0 a1.35,1.35 0 1,0 -2.7,0 " fill="#000"/>
<path d="M86.3,647.2 V707 M83.05,647.2 h6.5 M83.05,707 h6.5" stroke="#000" stroke-width="1.1" fill="none"/>
<path d="M162.3,529.4 V574.2 M159.05,529.4 h6.5 M159.05,574.2 h6.5" stroke="#000" stroke-width="1.1" fill="none"/>
<path d="M200.1,494 V506.2 M196.85,494 h6.5 M196.85,506.2 h6.5" stroke="#000" stroke-width="1.1" fill="none"/>
<path d="M238.2,474.6 V486.8 M234.95,474.6 h6.5 M234.95,486.8 h6.5" stroke="#000" stroke-width="1.1" fill="none"/>
<path d="M276,439.6 V453.6 M272.75,439.6 h6.5 M272.75,453.6 h6.5" stroke="#000" stroke-width="1.1" fill="none"/>
<path d="M313.8,455.1 V475.5 M310.55,455.1 h6.5 M310.55,475.5 h6.5" stroke="#000" stroke-width="1.1" fill="none"/>
<path d="M389.4,428.9 V440.5 M386.15,428.9 h6.5 M386.15,440.5 h6.5" stroke="#000" stroke-width="1.1" fill="none"/>
<path d="M465.3,420.7 V431.3 M462.05,420.7 h6.5 M462.05,431.3 h6.5" stroke="#000" stroke-width="1.1" fill="none"/>
<path d="M124.3,674 V687 M121.05,674 h6.5 M121.05,687 h6.5" stroke="#000" stroke-width="1.1" fill="none"/>
<path d="M124.3,688 V702.2 M121.05,688 h6.5 M121.05,702.2 h6.5" stroke="#000" stroke-width="1.1" fill="none"/>
<path d="M162.3,660.6 V680.2 M159.05,660.6 h6.5 M159.05,680.2 h6.5" stroke="#000" stroke-width="1.1" fill="none"/>
<path d="M200.2,623.8 V645.9 M196.95,623.8 h6.5 M196.95,645.9 h6.5" stroke="#000" stroke-width="1.1" fill="none"/>
<path d="M238.2,590.3 V609.6 M234.95,590.3 h6.5 M234.95,609.6 h6.5" stroke="#000" stroke-width="1.1" fill="none"/>
<path d="M276,519.3 V599.6 M272.75,519.3 h6.5 M272.75,599.6 h6.5" stroke="#000" stroke-width="1.1" fill="none"/>
<path d="M313.8,535 V586.2 M310.55,535 h6.5 M310.55,586.2 h6.5" stroke="#000" stroke-width="1.1" fill="none"/>
<path d="M389.4,493.8 V533.4 M386.15,493.8 h6.5 M386.15,533.4 h6.5" stroke="#000" stroke-width="1.1" fill="none"/>
<path d="M465.3,487.7 V521.2 M462.05,487.7 h6.5 M462.05,521.2 h6.5" stroke="#000" stroke-width="1.1" fill="none"/>
<rect x="82.6" y="684.6" width="7.4" height="7.4" fill="#000"/>
<rect x="120.6" y="691.8" width="7.4" height="7.4" fill="#000"/>
<rect x="158.6" y="666.8" width="7.4" height="7.4" fill="#000"/>
<rect x="196.5" y="631.5" width="7.4" height="7.4" fill="#000"/>
<rect x="234.5" y="596.8" width="7.4" height="7.4" fill="#000"/>
<rect x="272.3" y="554.6" width="7.4" height="7.4" fill="#000"/>
<rect x="310.1" y="556.3" width="7.4" height="7.4" fill="#000"/>
<rect x="385.7" y="509.9" width="7.4" height="7.4" fill="#000"/>
<rect x="461.6" y="500.8" width="7.4" height="7.4" fill="#000"/>
<circle cx="86.3" cy="657.7" r="4.5" fill="#000"/>
<circle cx="162.3" cy="551.6" r="4.5" fill="#000"/>
<circle cx="200.1" cy="500.1" r="4.5" fill="#000"/>
<circle cx="238.2" cy="480.7" r="4.5" fill="#000"/>
<circle cx="276" cy="446.2" r="4.5" fill="#000"/>
<circle cx="313.8" cy="465.5" r="4.5" fill="#000"/>
<circle cx="389.4" cy="434.4" r="4.5" fill="#000"/>
<circle cx="465.3" cy="425.8" r="4.5" fill="#000"/>
<path d="M86.3,665.4 L91.7,674.6 L80.9,674.6 Z" fill="none" stroke="#222" stroke-width="1.0"/>
<path d="M124.3,675.9 L129.7,685.1 L118.9,685.1 Z" fill="none" stroke="#222" stroke-width="1.0"/>
<path d="M162.3,609.4 L167.7,618.6 L156.9,618.6 Z" fill="none" stroke="#222" stroke-width="1.0"/>
<path d="M200.2,584.4 L205.6,593.6 L194.8,593.6 Z" fill="none" stroke="#222" stroke-width="1.0"/>
<path d="M238.2,546.6 L243.6,555.8 L232.8,555.8 Z" fill="none" stroke="#222" stroke-width="1.0"/>
<path d="M276.0,494.0 L281.4,503.2 L270.6,503.2 Z" fill="none" stroke="#222" stroke-width="1.0"/>
<path d="M313.8,512.7 L319.2,521.9 L308.4,521.9 Z" fill="none" stroke="#222" stroke-width="1.0"/>
<path d="M389.4,462.4 L394.8,471.6 L384.0,471.6 Z" fill="none" stroke="#222" stroke-width="1.0"/>
<path d="M465.3,451.1 L470.7,460.3 L459.9,460.3 Z" fill="none" stroke="#222" stroke-width="1.0"/>
<path d="M48.8,404.6 V709.3 H503.3" fill="none" stroke="#000" stroke-width="2.3" stroke-linecap="butt" stroke-linejoin="round"/>
<line x1="48.8" y1="700.0" x2="55.8" y2="700.0" stroke="#000" stroke-width="2"/>
<text transform="translate(39.6,705.6) scale(0.97,1)" font-size="15.6" text-anchor="end" font-weight="normal" font-style="normal" >0</text>
<line x1="48.8" y1="682.1" x2="53.3" y2="682.1" stroke="#000" stroke-width="2"/>
<line x1="48.8" y1="664.2" x2="55.8" y2="664.2" stroke="#000" stroke-width="2"/>
<text transform="translate(39.6,669.8) scale(0.97,1)" font-size="15.6" text-anchor="end" font-weight="normal" font-style="normal" >2</text>
<line x1="48.8" y1="646.3" x2="53.3" y2="646.3" stroke="#000" stroke-width="2"/>
<line x1="48.8" y1="628.4" x2="55.8" y2="628.4" stroke="#000" stroke-width="2"/>
<text transform="translate(39.6,634.0) scale(0.97,1)" font-size="15.6" text-anchor="end" font-weight="normal" font-style="normal" >4</text>
<line x1="48.8" y1="610.5" x2="53.3" y2="610.5" stroke="#000" stroke-width="2"/>
<line x1="48.8" y1="592.6" x2="55.8" y2="592.6" stroke="#000" stroke-width="2"/>
<text transform="translate(39.6,598.2) scale(0.97,1)" font-size="15.6" text-anchor="end" font-weight="normal" font-style="normal" >6</text>
<line x1="48.8" y1="574.7" x2="53.3" y2="574.7" stroke="#000" stroke-width="2"/>
<line x1="48.8" y1="556.8" x2="55.8" y2="556.8" stroke="#000" stroke-width="2"/>
<text transform="translate(39.6,562.4) scale(0.97,1)" font-size="15.6" text-anchor="end" font-weight="normal" font-style="normal" >8</text>
<line x1="48.8" y1="538.9" x2="53.3" y2="538.9" stroke="#000" stroke-width="2"/>
<line x1="48.8" y1="521.0" x2="55.8" y2="521.0" stroke="#000" stroke-width="2"/>
<text transform="translate(39.6,526.6) scale(0.97,1)" font-size="15.6" text-anchor="end" font-weight="normal" font-style="normal" >10</text>
<line x1="48.8" y1="503.1" x2="53.3" y2="503.1" stroke="#000" stroke-width="2"/>
<line x1="48.8" y1="485.2" x2="55.8" y2="485.2" stroke="#000" stroke-width="2"/>
<text transform="translate(39.6,490.8) scale(0.97,1)" font-size="15.6" text-anchor="end" font-weight="normal" font-style="normal" >12</text>
<line x1="48.8" y1="467.3" x2="53.3" y2="467.3" stroke="#000" stroke-width="2"/>
<line x1="48.8" y1="449.4" x2="55.8" y2="449.4" stroke="#000" stroke-width="2"/>
<text transform="translate(39.6,455.0) scale(0.97,1)" font-size="15.6" text-anchor="end" font-weight="normal" font-style="normal" >14</text>
<line x1="48.8" y1="431.5" x2="53.3" y2="431.5" stroke="#000" stroke-width="2"/>
<line x1="48.8" y1="413.6" x2="55.8" y2="413.6" stroke="#000" stroke-width="2"/>
<text transform="translate(39.6,419.2) scale(0.97,1)" font-size="15.6" text-anchor="end" font-weight="normal" font-style="normal" >16</text>
<text transform="translate(48.6,729.6) scale(0.97,1)" font-size="15.6" text-anchor="middle" font-weight="normal" font-style="normal" >0</text>
<line x1="86.5" y1="709.3" x2="86.5" y2="704.8" stroke="#000" stroke-width="2"/>
<line x1="124.4" y1="709.3" x2="124.4" y2="701.3" stroke="#000" stroke-width="2"/>
<text transform="translate(124.4,729.6) scale(0.97,1)" font-size="15.6" text-anchor="middle" font-weight="normal" font-style="normal" >2</text>
<line x1="162.3" y1="709.3" x2="162.3" y2="704.8" stroke="#000" stroke-width="2"/>
<line x1="200.2" y1="709.3" x2="200.2" y2="701.3" stroke="#000" stroke-width="2"/>
<text transform="translate(200.2,729.6) scale(0.97,1)" font-size="15.6" text-anchor="middle" font-weight="normal" font-style="normal" >4</text>
<line x1="238.1" y1="709.3" x2="238.1" y2="704.8" stroke="#000" stroke-width="2"/>
<line x1="276.0" y1="709.3" x2="276.0" y2="701.3" stroke="#000" stroke-width="2"/>
<text transform="translate(276.0,729.6) scale(0.97,1)" font-size="15.6" text-anchor="middle" font-weight="normal" font-style="normal" >6</text>
<line x1="313.9" y1="709.3" x2="313.9" y2="704.8" stroke="#000" stroke-width="2"/>
<line x1="351.8" y1="709.3" x2="351.8" y2="701.3" stroke="#000" stroke-width="2"/>
<text transform="translate(351.8,729.6) scale(0.97,1)" font-size="15.6" text-anchor="middle" font-weight="normal" font-style="normal" >8</text>
<line x1="389.7" y1="709.3" x2="389.7" y2="704.8" stroke="#000" stroke-width="2"/>
<line x1="427.6" y1="709.3" x2="427.6" y2="701.3" stroke="#000" stroke-width="2"/>
<text transform="translate(427.6,729.6) scale(0.97,1)" font-size="15.6" text-anchor="middle" font-weight="normal" font-style="normal" >10</text>
<line x1="465.5" y1="709.3" x2="465.5" y2="704.8" stroke="#000" stroke-width="2"/>
<line x1="503.4" y1="709.3" x2="503.4" y2="701.3" stroke="#000" stroke-width="2"/>
<text transform="translate(503.4,729.6) scale(0.97,1)" font-size="15.6" text-anchor="middle" font-weight="normal" font-style="normal" >12</text>
<text transform="translate(65.5,431.6) scale(0.93,1)" font-size="20" text-anchor="start" font-weight="bold" font-style="normal" >B</text>
<path d="M87.00,417.40 L87.00,431.70 L83.93,431.70 L83.93,421.69 Q82.28,423.12 80.42,423.69 L80.42,421.55 Q82.71,420.55 83.57,417.40 Z" fill="#000"/>
<text x="276.3" y="748.6" font-size="16.3" text-anchor="middle" word-spacing="1.5">days <tspan font-style="italic">in vitro</tspan></text>
<text transform="translate(17,557.6) rotate(-90)" font-size="16" text-anchor="middle">C<tspan font-size="11" dy="5.5">PK</tspan><tspan dy="-5.5"> / nF</tspan></text>
<path d="M587.9,645.4 L588.9,644.5 L589.9,643.6 L590.9,642.8 L591.9,641.9 L592.9,641.0 M595.6,638.5 L596.6,637.6 L597.6,636.6 L598.6,635.7 L599.6,634.7 L600.6,633.7 M603.3,631.1 L604.3,630.1 L605.3,629.1 L606.3,628.0 L607.3,627.0 L608.3,626.0 M611.0,623.1 L612.0,622.0 L613.0,621.0 L614.0,619.9 L615.0,618.8 L616.0,617.7 M618.7,614.6 L619.7,613.5 L620.7,612.3 L621.7,611.2 L622.7,610.0 L623.7,608.9 M626.4,605.7 L627.4,604.5 L628.4,603.3 L629.4,602.1 L630.4,600.8 L631.4,599.6 M634.1,596.3 L635.1,595.1 L636.1,593.8 L637.1,592.6 L638.1,591.3 L639.1,590.0 M641.8,586.6 L642.8,585.3 L643.8,584.0 L644.8,582.7 L645.8,581.4 L646.8,580.1 M649.5,576.6 L650.5,575.3 L651.5,574.0 L652.5,572.7 L653.5,571.4 L654.5,570.1 M657.2,566.5 L658.2,565.2 L659.2,563.9 L660.2,562.5 L661.2,561.2 L662.2,559.9 M664.9,556.3 L665.9,555.0 L666.9,553.7 L667.9,552.4 L668.9,551.1 L669.9,549.7 M672.6,546.2 L673.6,544.9 L674.6,543.6 L675.6,542.3 L676.6,541.0 L677.6,539.7 M680.3,536.2 L681.3,534.9 L682.3,533.7 L683.3,532.4 L684.3,531.1 L685.3,529.9 M688.0,526.5 L689.0,525.2 L690.0,524.0 L691.0,522.8 L692.0,521.5 L693.0,520.3 M695.7,517.1 L696.7,515.9 L697.7,514.7 L698.7,513.5 L699.7,512.3 L700.7,511.2 M703.4,508.1 L704.4,506.9 L705.4,505.8 L706.4,504.7 L707.4,503.6 L708.4,502.5 M711.1,499.5 L712.1,498.5 L713.1,497.4 L714.1,496.4 L715.1,495.3 L716.1,494.3 M718.8,491.5 L719.8,490.5 L720.8,489.5 L721.8,488.5 L722.8,487.6 L723.8,486.6 M726.5,484.0 L727.5,483.1 L728.5,482.2 L729.5,481.3 L730.5,480.4 L731.5,479.5 M734.2,477.1 L735.2,476.3 L736.2,475.4 L737.2,474.6 L738.2,473.7 L739.2,472.9 M741.9,470.8 L742.9,470.0 L743.9,469.2 L744.9,468.4 L745.9,467.7 L746.9,466.9 M749.6,464.9 L750.6,464.2 L751.6,463.5 L752.6,462.8 L753.6,462.1 L754.6,461.5 M757.3,459.7 L758.3,459.0 L759.3,458.4 L760.3,457.7 L761.3,457.1 L762.3,456.5 M765.0,454.9 L766.0,454.3 L767.0,453.7 L768.0,453.2 L769.0,452.6 L770.0,452.1 M772.7,450.6 L773.7,450.1 L774.7,449.6 L775.7,449.1 L776.7,448.6 L777.7,448.1 M780.4,446.8 L781.4,446.3 L782.4,445.9 L783.4,445.4 L784.4,445.0 L785.4,444.5 M788.1,443.4 L789.1,443.0 L790.1,442.5 L791.1,442.1 L792.1,441.7 L793.1,441.4 M795.8,440.3 L796.8,440.0 L797.8,439.6 L798.8,439.2 L799.8,438.9 L800.8,438.6 M803.5,437.6 L804.5,437.3 L805.5,437.0 L806.5,436.7 L807.5,436.4 L808.5,436.1 M811.2,435.3 L812.2,435.0 L813.2,434.7 L814.2,434.4 L815.2,434.2 L816.2,433.9 M818.9,433.2 L819.9,432.9 L820.9,432.7 L821.9,432.4 L822.9,432.2 L823.9,432.0 M826.6,431.3 L827.6,431.1 L828.6,430.9 L829.6,430.7 L830.6,430.5 L831.6,430.3 M834.3,429.7 L835.3,429.5 L836.3,429.3 L837.3,429.2 L838.3,429.0 L839.3,428.8 M842.0,428.3 L843.0,428.1 L844.0,428.0 L845.0,427.8 L846.0,427.7 L847.0,427.5 M849.7,427.1 L850.7,426.9 L851.7,426.8 L852.7,426.6 L853.7,426.5 L854.7,426.4 M857.4,426.0 L858.4,425.9 L859.4,425.7 L860.4,425.6 L861.4,425.5 L862.4,425.4 M865.1,425.1 L866.1,424.9 L867.1,424.8 L868.1,424.7 L869.1,424.6 L870.1,424.5 M872.8,424.2 L873.8,424.1 L874.8,424.0 L875.8,423.9 L876.8,423.8 L877.8,423.8 M880.5,423.5 L881.5,423.4 L882.5,423.3 L883.5,423.3 L884.5,423.2 L885.5,423.1 M888.2,422.9 L889.2,422.8 L890.2,422.7 L891.2,422.7 L892.2,422.6 L893.2,422.5 M895.9,422.3 L896.9,422.3 L897.9,422.2 L898.9,422.2 L899.9,422.1 L900.9,422.0 M903.6,421.9 L904.6,421.8 L905.6,421.8 L906.6,421.7 L907.6,421.7 L908.6,421.6 M911.3,421.5 L912.3,421.4 L913.3,421.4 L914.3,421.3 L915.3,421.3 L916.3,421.2 M919.0,421.1 L920.0,421.1 L921.0,421.0 L922.0,421.0 L923.0,420.9 L924.0,420.9 M926.7,420.8 L927.7,420.8 L928.7,420.7 L929.7,420.7 L930.7,420.7 L931.7,420.6 M934.4,420.5 L935.4,420.5 L936.4,420.5 L937.4,420.4 L938.4,420.4 L939.4,420.4 M942.1,420.3 L943.1,420.3 L944.1,420.2 L945.1,420.2 L946.1,420.2 L947.1,420.2 M949.8,420.1 L950.8,420.1 L951.8,420.0 L952.8,420.0 L953.8,420.0 L954.8,420.0 M957.5,419.9 L958.5,419.9 L959.5,419.9 L960.5,419.9 L961.5,419.8 L962.5,419.8 " fill="none" stroke="#000" stroke-width="2.0" stroke-linecap="butt"/>
<path d="M587.9,692.9 L588.9,692.8 L589.9,692.7 L590.9,692.6 L591.9,692.5 L592.9,692.3 M595.6,692.0 L596.6,691.8 L597.6,691.7 L598.6,691.5 L599.6,691.4 L600.6,691.2 M603.3,690.8 L604.3,690.6 L605.3,690.4 L606.3,690.3 L607.3,690.1 L608.3,689.9 M611.0,689.3 L612.0,689.1 L613.0,688.9 L614.0,688.7 L615.0,688.5 L616.0,688.2 M618.7,687.6 L619.7,687.3 L620.7,687.0 L621.7,686.8 L622.7,686.5 L623.7,686.2 M626.4,685.4 L627.4,685.1 L628.4,684.7 L629.4,684.4 L630.4,684.1 L631.4,683.7 M634.1,682.7 L635.1,682.3 L636.1,681.9 L637.1,681.5 L638.1,681.1 L639.1,680.7 M641.8,679.5 L642.8,679.0 L643.8,678.6 L644.8,678.1 L645.8,677.6 L646.8,677.1 M649.5,675.6 L650.5,675.1 L651.5,674.5 L652.5,673.9 L653.5,673.3 L654.5,672.7 M657.2,671.0 L658.2,670.3 L659.2,669.6 L660.2,668.9 L661.2,668.2 L662.2,667.5 M664.9,665.5 L665.9,664.7 L666.9,663.9 L667.9,663.1 L668.9,662.2 L669.9,661.4 M672.6,659.0 L673.6,658.1 L674.6,657.2 L675.6,656.2 L676.6,655.3 L677.6,654.3 M680.3,651.6 L681.3,650.5 L682.3,649.5 L683.3,648.4 L684.3,647.3 L685.3,646.2 M688.0,643.1 L689.0,641.9 L690.0,640.7 L691.0,639.5 L692.0,638.2 L693.0,637.0 M695.7,633.5 L696.7,632.2 L697.7,630.9 L698.7,629.6 L699.7,628.2 L700.7,626.8 M703.4,623.0 L704.4,621.6 L705.4,620.2 L706.4,618.7 L707.4,617.2 L708.4,615.8 M711.1,611.7 L712.1,610.2 L713.1,608.7 L714.1,607.1 L715.1,605.6 L716.1,604.0 M718.8,599.7 L719.8,598.2 L720.8,596.6 L721.8,595.0 L722.8,593.4 L723.8,591.8 M726.5,587.4 L727.5,585.8 L728.5,584.2 L729.5,582.6 L730.5,581.0 L731.5,579.4 M734.2,575.0 L735.2,573.4 L736.2,571.8 L737.2,570.2 L738.2,568.6 L739.2,567.1 M741.9,562.8 L742.9,561.3 L743.9,559.7 L744.9,558.2 L745.9,556.7 L746.9,555.1 M749.6,551.1 L750.6,549.6 L751.6,548.2 L752.6,546.7 L753.6,545.3 L754.6,543.9 M757.3,540.1 L758.3,538.8 L759.3,537.4 L760.3,536.1 L761.3,534.8 L762.3,533.5 M765.0,530.1 L766.0,528.8 L767.0,527.6 L768.0,526.4 L769.0,525.2 L770.0,524.0 M772.7,521.0 L773.7,519.9 L774.7,518.8 L775.7,517.7 L776.7,516.7 L777.7,515.7 M780.4,513.0 L781.4,512.0 L782.4,511.0 L783.4,510.1 L784.4,509.2 L785.4,508.3 M788.1,506.0 L789.1,505.1 L790.1,504.3 L791.1,503.5 L792.1,502.7 L793.1,502.0 M795.8,500.0 L796.8,499.2 L797.8,498.6 L798.8,497.9 L799.8,497.2 L800.8,496.6 M803.5,494.9 L804.5,494.3 L805.5,493.7 L806.5,493.1 L807.5,492.5 L808.5,492.0 M811.2,490.6 L812.2,490.1 L813.2,489.6 L814.2,489.1 L815.2,488.6 L816.2,488.2 M818.9,487.0 L819.9,486.6 L820.9,486.2 L821.9,485.8 L822.9,485.4 L823.9,485.0 M826.6,484.0 L827.6,483.7 L828.6,483.4 L829.6,483.0 L830.6,482.7 L831.6,482.4 M834.3,481.6 L835.3,481.3 L836.3,481.1 L837.3,480.8 L838.3,480.5 L839.3,480.3 M842.0,479.6 L843.0,479.4 L844.0,479.2 L845.0,478.9 L846.0,478.7 L847.0,478.5 M849.7,478.0 L850.7,477.8 L851.7,477.6 L852.7,477.4 L853.7,477.3 L854.7,477.1 M857.4,476.7 L858.4,476.5 L859.4,476.4 L860.4,476.2 L861.4,476.1 L862.4,475.9 M865.1,475.6 L866.1,475.5 L867.1,475.4 L868.1,475.2 L869.1,475.1 L870.1,475.0 M872.8,474.7 L873.8,474.6 L874.8,474.5 L875.8,474.4 L876.8,474.3 L877.8,474.3 M880.5,474.0 L881.5,473.9 L882.5,473.9 L883.5,473.8 L884.5,473.7 L885.5,473.6 M888.2,473.5 L889.2,473.4 L890.2,473.3 L891.2,473.3 L892.2,473.2 L893.2,473.2 M895.9,473.0 L896.9,473.0 L897.9,472.9 L898.9,472.9 L899.9,472.8 L900.9,472.8 M903.6,472.6 L904.6,472.6 L905.6,472.6 L906.6,472.5 L907.6,472.5 L908.6,472.4 M911.3,472.3 L912.3,472.3 L913.3,472.3 L914.3,472.2 L915.3,472.2 L916.3,472.2 M919.0,472.1 L920.0,472.1 L921.0,472.0 L922.0,472.0 L923.0,472.0 L924.0,472.0 M926.7,471.9 L927.7,471.9 L928.7,471.9 L929.7,471.8 L930.7,471.8 L931.7,471.8 M934.4,471.8 L935.4,471.7 L936.4,471.7 L937.4,471.7 L938.4,471.7 L939.4,471.7 M942.1,471.6 L943.1,471.6 L944.1,471.6 L945.1,471.6 L946.1,471.6 L947.1,471.6 M949.8,471.5 L950.8,471.5 L951.8,471.5 L952.8,471.5 L953.8,471.5 L954.8,471.5 M957.5,471.5 L958.5,471.4 L959.5,471.4 L960.5,471.4 L961.5,471.4 L962.5,471.4 " fill="none" stroke="#000" stroke-width="2.0" stroke-linecap="butt"/>
<path d="M587.9,660.2 L590.5,658.4 L593.0,656.5 L595.6,654.5 L598.2,652.5 L600.8,650.3 L603.3,648.1 L605.9,645.7 L608.5,643.3 L611.0,640.8 L613.6,638.1 L616.2,635.4 L618.8,632.6 L621.3,629.7 L623.9,626.7 L626.5,623.6 L629.0,620.4 L631.6,617.2 L634.2,613.8 L636.8,610.4 L639.3,606.9 L641.9,603.3 L644.5,599.7 L647.0,596.0 L649.6,592.3 L652.2,588.5 L654.7,584.7 L657.3,580.8 L659.9,576.9 L662.5,573.0 L665.0,569.1 L667.6,565.2 L670.2,561.3 L672.7,557.4 L675.3,553.5 L677.9,549.7 L680.5,545.8 L683.0,542.1 L685.6,538.4 L688.2,534.7 L690.7,531.1 L693.3,527.6 L695.9,524.1 L698.5,520.7 L701.0,517.4 L703.6,514.2 L706.2,511.0 L708.7,508.0 L711.3,505.0 L713.9,502.2 L716.5,499.4 L719.0,496.7 L721.6,494.1 L724.2,491.7 L726.7,489.3 L729.3,487.0 L731.9,484.8 L734.5,482.6 L737.0,480.6 L739.6,478.7 L742.2,476.8 L744.7,475.1 L747.3,473.4 L749.9,471.8 L752.5,470.2 L755.0,468.8 L757.6,467.4 L760.2,466.1 L762.7,464.8 L765.3,463.6 L767.9,462.5 L770.5,461.4 L773.0,460.4 L775.6,459.5 L778.2,458.6 L780.7,457.7 L783.3,456.9 L785.9,456.1 L788.4,455.4 L791.0,454.7 L793.6,454.1 L796.2,453.5 L798.7,452.9 L801.3,452.3 L803.9,451.8 L806.4,451.3 L809.0,450.9 L811.6,450.4 L814.2,450.0 L816.7,449.7 L819.3,449.3 L821.9,449.0 L824.4,448.6 L827.0,448.3 L829.6,448.1 L832.2,447.8 L834.7,447.6 L837.3,447.3 L839.9,447.1 L842.4,446.9 L845.0,446.7 L847.6,446.5 L850.2,446.3 L852.7,446.2 L855.3,446.0 L857.9,445.9 L860.4,445.7 L863.0,445.6 L865.6,445.5 L868.2,445.4 L870.7,445.3 L873.3,445.2 L875.9,445.1 L878.4,445.0 L881.0,444.9 L883.6,444.8 L886.2,444.8 L888.7,444.7 L891.3,444.6 L893.9,444.6 L896.4,444.5 L899.0,444.5 L901.6,444.4 L904.2,444.4 L906.7,444.3 L909.3,444.3 L911.9,444.2 L914.4,444.2 L917.0,444.2 L919.6,444.1 L922.1,444.1 L924.7,444.1 L927.3,444.1 L929.9,444.0 L932.4,444.0 L935.0,444.0 L937.6,444.0 L940.1,443.9 L942.7,443.9 L945.3,443.9 L947.9,443.9 L950.4,443.9 L953.0,443.9 L955.6,443.8 L958.1,443.8 L960.7,443.8 L963.3,443.8 L965.9,443.8 L968.4,443.8 L971.0,443.8" fill="none" stroke="#000" stroke-width="2.6" stroke-linejoin="round" stroke-linecap="butt"/>
<path d="M587.15,665.24 a1.35,1.35 0 1,0 2.7,0 a1.35,1.35 0 1,0 -2.7,0 M599.65,658.34 a1.35,1.35 0 1,0 2.7,0 a1.35,1.35 0 1,0 -2.7,0 M612.15,650.31 a1.35,1.35 0 1,0 2.7,0 a1.35,1.35 0 1,0 -2.7,0 M624.75,641.00 a1.35,1.35 0 1,0 2.7,0 a1.35,1.35 0 1,0 -2.7,0 M637.25,630.54 a1.35,1.35 0 1,0 2.7,0 a1.35,1.35 0 1,0 -2.7,0 M649.75,618.91 a1.35,1.35 0 1,0 2.7,0 a1.35,1.35 0 1,0 -2.7,0 M661.65,606.87 a1.35,1.35 0 1,0 2.7,0 a1.35,1.35 0 1,0 -2.7,0 M673.15,594.47 a1.35,1.35 0 1,0 2.7,0 a1.35,1.35 0 1,0 -2.7,0 M683.85,582.46 a1.35,1.35 0 1,0 2.7,0 a1.35,1.35 0 1,0 -2.7,0 M695.05,569.60 a1.35,1.35 0 1,0 2.7,0 a1.35,1.35 0 1,0 -2.7,0 M705.65,557.37 a1.35,1.35 0 1,0 2.7,0 a1.35,1.35 0 1,0 -2.7,0 M716.05,545.54 a1.35,1.35 0 1,0 2.7,0 a1.35,1.35 0 1,0 -2.7,0 M727.65,532.76 a1.35,1.35 0 1,0 2.7,0 a1.35,1.35 0 1,0 -2.7,0 M739.45,520.43 a1.35,1.35 0 1,0 2.7,0 a1.35,1.35 0 1,0 -2.7,0 M751.45,508.80 a1.35,1.35 0 1,0 2.7,0 a1.35,1.35 0 1,0 -2.7,0 M763.85,497.86 a1.35,1.35 0 1,0 2.7,0 a1.35,1.35 0 1,0 -2.7,0 M776.05,488.25 a1.35,1.35 0 1,0 2.7,0 a1.35,1.35 0 1,0 -2.7,0 M788.75,479.48 a1.35,1.35 0 1,0 2.7,0 a1.35,1.35 0 1,0 -2.7,0 M801.55,471.86 a1.35,1.35 0 1,0 2.7,0 a1.35,1.35 0 1,0 -2.7,0 M813.75,465.66 a1.35,1.35 0 1,0 2.7,0 a1.35,1.35 0 1,0 -2.7,0 M826.15,460.33 a1.35,1.35 0 1,0 2.7,0 a1.35,1.35 0 1,0 -2.7,0 M838.45,455.90 a1.35,1.35 0 1,0 2.7,0 a1.35,1.35 0 1,0 -2.7,0 M851.55,451.98 a1.35,1.35 0 1,0 2.7,0 a1.35,1.35 0 1,0 -2.7,0 M863.65,449.01 a1.35,1.35 0 1,0 2.7,0 a1.35,1.35 0 1,0 -2.7,0 M875.75,446.55 a1.35,1.35 0 1,0 2.7,0 a1.35,1.35 0 1,0 -2.7,0 M888.45,444.43 a1.35,1.35 0 1,0 2.7,0 a1.35,1.35 0 1,0 -2.7,0 M901.15,442.72 a1.35,1.35 0 1,0 2.7,0 a1.35,1.35 0 1,0 -2.7,0 M913.25,441.39 a1.35,1.35 0 1,0 2.7,0 a1.35,1.35 0 1,0 -2.7,0 M925.95,440.25 a1.35,1.35 0 1,0 2.7,0 a1.35,1.35 0 1,0 -2.7,0 M938.65,439.34 a1.35,1.35 0 1,0 2.7,0 a1.35,1.35 0 1,0 -2.7,0 M951.05,438.62 a1.35,1.35 0 1,0 2.7,0 a1.35,1.35 0 1,0 -2.7,0 M963.15,438.05 a1.35,1.35 0 1,0 2.7,0 a1.35,1.35 0 1,0 -2.7,0 " fill="#000"/>
<path d="M587.9,635.2 V676 M584.65,635.2 h6.5 M584.65,676 h6.5" stroke="#000" stroke-width="1.1" fill="none"/>
<path d="M626.1,670 V684 M622.85,670 h6.5 M622.85,684 h6.5" stroke="#000" stroke-width="1.1" fill="none"/>
<path d="M664.2,541.2 V597 M660.95,541.2 h6.5 M660.95,597 h6.5" stroke="#000" stroke-width="1.1" fill="none"/>
<path d="M702.5,482.5 V516.4 M699.25,482.5 h6.5 M699.25,516.4 h6.5" stroke="#000" stroke-width="1.1" fill="none"/>
<path d="M740.7,470.9 V482.5 M737.45,470.9 h6.5 M737.45,482.5 h6.5" stroke="#000" stroke-width="1.1" fill="none"/>
<path d="M778.8,435 V443.5 M775.55,435 h6.5 M775.55,443.5 h6.5" stroke="#000" stroke-width="1.1" fill="none"/>
<path d="M817.5,446 V456.3 M814.25,446 h6.5 M814.25,456.3 h6.5" stroke="#000" stroke-width="1.1" fill="none"/>
<path d="M893.7,419.5 V426.5 M890.45,419.5 h6.5 M890.45,426.5 h6.5" stroke="#000" stroke-width="1.1" fill="none"/>
<path d="M970.2,411.5 V419.5 M966.95,411.5 h6.5 M966.95,419.5 h6.5" stroke="#000" stroke-width="1.1" fill="none"/>
<path d="M664.2,644.3 V669.4 M660.95,644.3 h6.5 M660.95,669.4 h6.5" stroke="#000" stroke-width="1.1" fill="none"/>
<path d="M702.5,591.3 V631.1 M699.25,591.3 h6.5 M699.25,631.1 h6.5" stroke="#000" stroke-width="1.1" fill="none"/>
<path d="M740.7,549 V591.3 M737.45,549 h6.5 M737.45,591.3 h6.5" stroke="#000" stroke-width="1.1" fill="none"/>
<path d="M778.8,502.2 V525.5 M775.55,502.2 h6.5 M775.55,525.5 h6.5" stroke="#000" stroke-width="1.1" fill="none"/>
<path d="M817.5,503 V535 M814.25,503 h6.5 M814.25,535 h6.5" stroke="#000" stroke-width="1.1" fill="none"/>
<path d="M893.7,471 V478 M890.45,471 h6.5 M890.45,478 h6.5" stroke="#000" stroke-width="1.1" fill="none"/>
<path d="M970.2,460.8 V474.5 M966.95,460.8 h6.5 M966.95,474.5 h6.5" stroke="#000" stroke-width="1.1" fill="none"/>
<rect x="584.2" y="692.3" width="7.4" height="7.4" fill="#000"/>
<rect x="622.4" y="693.5" width="7.4" height="7.4" fill="#000"/>
<rect x="660.5" y="653.2" width="7.4" height="7.4" fill="#000"/>
<rect x="698.8" y="607.4" width="7.4" height="7.4" fill="#000"/>
<rect x="737.0" y="566.3" width="7.4" height="7.4" fill="#000"/>
<rect x="775.1" y="510.3" width="7.4" height="7.4" fill="#000"/>
<rect x="813.8" y="515.4" width="7.4" height="7.4" fill="#000"/>
<rect x="890.0" y="470.9" width="7.4" height="7.4" fill="#000"/>
<rect x="966.5" y="463.6" width="7.4" height="7.4" fill="#000"/>
<circle cx="587.9" cy="656.2" r="4.5" fill="#000"/>
<circle cx="626.1" cy="676.7" r="4.5" fill="#000"/>
<circle cx="664.2" cy="567.1" r="4.5" fill="#000"/>
<circle cx="702.5" cy="499.5" r="4.5" fill="#000"/>
<circle cx="740.7" cy="476.2" r="4.5" fill="#000"/>
<circle cx="778.8" cy="439.1" r="4.5" fill="#000"/>
<circle cx="817.5" cy="450.5" r="4.5" fill="#000"/>
<circle cx="893.7" cy="422.9" r="4.5" fill="#000"/>
<circle cx="970.2" cy="415.5" r="4.5" fill="#000"/>
<path d="M587.9,664.8 L593.3,674.0 L582.5,674.0 Z" fill="none" stroke="#222" stroke-width="1.0"/>
<path d="M626.1,663.6 L631.5,672.8 L620.7,672.8 Z" fill="none" stroke="#222" stroke-width="1.0"/>
<path d="M664.2,592.8 L669.6,602.0 L658.8,602.0 Z" fill="none" stroke="#222" stroke-width="1.0"/>
<path d="M702.5,562.0 L707.9,571.2 L697.1,571.2 Z" fill="none" stroke="#222" stroke-width="1.0"/>
<path d="M740.7,519.7 L746.1,528.9 L735.3,528.9 Z" fill="none" stroke="#222" stroke-width="1.0"/>
<path d="M778.8,465.6 L784.2,474.8 L773.4,474.8 Z" fill="none" stroke="#222" stroke-width="1.0"/>
<path d="M817.5,471.8 L822.9,481.0 L812.1,481.0 Z" fill="none" stroke="#222" stroke-width="1.0"/>
<path d="M893.7,436.5 L899.1,445.7 L888.3,445.7 Z" fill="none" stroke="#222" stroke-width="1.0"/>
<path d="M970.2,430.9 L975.6,440.1 L964.8,440.1 Z" fill="none" stroke="#222" stroke-width="1.0"/>
<path d="M549.7,404.6 V708.7 H1008" fill="none" stroke="#000" stroke-width="2.3" stroke-linecap="butt" stroke-linejoin="round"/>
<line x1="549.7" y1="699.4" x2="556.7" y2="699.4" stroke="#000" stroke-width="2"/>
<text transform="translate(540.6,705.0) scale(0.97,1)" font-size="15.6" text-anchor="end" font-weight="normal" font-style="normal" >0</text>
<line x1="549.7" y1="681.5" x2="554.2" y2="681.5" stroke="#000" stroke-width="2"/>
<line x1="549.7" y1="663.7" x2="556.7" y2="663.7" stroke="#000" stroke-width="2"/>
<text transform="translate(540.6,669.3) scale(0.97,1)" font-size="15.6" text-anchor="end" font-weight="normal" font-style="normal" >2</text>
<line x1="549.7" y1="645.8" x2="554.2" y2="645.8" stroke="#000" stroke-width="2"/>
<line x1="549.7" y1="628.0" x2="556.7" y2="628.0" stroke="#000" stroke-width="2"/>
<text transform="translate(540.6,633.6) scale(0.97,1)" font-size="15.6" text-anchor="end" font-weight="normal" font-style="normal" >4</text>
<line x1="549.7" y1="610.1" x2="554.2" y2="610.1" stroke="#000" stroke-width="2"/>
<line x1="549.7" y1="592.2" x2="556.7" y2="592.2" stroke="#000" stroke-width="2"/>
<text transform="translate(540.6,597.8) scale(0.97,1)" font-size="15.6" text-anchor="end" font-weight="normal" font-style="normal" >6</text>
<line x1="549.7" y1="574.4" x2="554.2" y2="574.4" stroke="#000" stroke-width="2"/>
<line x1="549.7" y1="556.5" x2="556.7" y2="556.5" stroke="#000" stroke-width="2"/>
<text transform="translate(540.6,562.1) scale(0.97,1)" font-size="15.6" text-anchor="end" font-weight="normal" font-style="normal" >8</text>
<line x1="549.7" y1="538.7" x2="554.2" y2="538.7" stroke="#000" stroke-width="2"/>
<line x1="549.7" y1="520.8" x2="556.7" y2="520.8" stroke="#000" stroke-width="2"/>
<text transform="translate(540.6,526.4) scale(0.97,1)" font-size="15.6" text-anchor="end" font-weight="normal" font-style="normal" >10</text>
<line x1="549.7" y1="502.9" x2="554.2" y2="502.9" stroke="#000" stroke-width="2"/>
<line x1="549.7" y1="485.1" x2="556.7" y2="485.1" stroke="#000" stroke-width="2"/>
<text transform="translate(540.6,490.7) scale(0.97,1)" font-size="15.6" text-anchor="end" font-weight="normal" font-style="normal" >12</text>
<line x1="549.7" y1="467.2" x2="554.2" y2="467.2" stroke="#000" stroke-width="2"/>
<line x1="549.7" y1="449.4" x2="556.7" y2="449.4" stroke="#000" stroke-width="2"/>
<text transform="translate(540.6,455.0) scale(0.97,1)" font-size="15.6" text-anchor="end" font-weight="normal" font-style="normal" >14</text>
<line x1="549.7" y1="431.5" x2="554.2" y2="431.5" stroke="#000" stroke-width="2"/>
<line x1="549.7" y1="413.6" x2="556.7" y2="413.6" stroke="#000" stroke-width="2"/>
<text transform="translate(540.6,419.2) scale(0.97,1)" font-size="15.6" text-anchor="end" font-weight="normal" font-style="normal" >16</text>
<text transform="translate(549.7,729.1) scale(0.97,1)" font-size="15.6" text-anchor="middle" font-weight="normal" font-style="normal" >0</text>
<line x1="587.8" y1="708.7" x2="587.8" y2="704.2" stroke="#000" stroke-width="2"/>
<line x1="625.9" y1="708.7" x2="625.9" y2="700.7" stroke="#000" stroke-width="2"/>
<text transform="translate(625.9,729.1) scale(0.97,1)" font-size="15.6" text-anchor="middle" font-weight="normal" font-style="normal" >2</text>
<line x1="664.0" y1="708.7" x2="664.0" y2="704.2" stroke="#000" stroke-width="2"/>
<line x1="702.1" y1="708.7" x2="702.1" y2="700.7" stroke="#000" stroke-width="2"/>
<text transform="translate(702.1,729.1) scale(0.97,1)" font-size="15.6" text-anchor="middle" font-weight="normal" font-style="normal" >4</text>
<line x1="740.2" y1="708.7" x2="740.2" y2="704.2" stroke="#000" stroke-width="2"/>
<line x1="778.3" y1="708.7" x2="778.3" y2="700.7" stroke="#000" stroke-width="2"/>
<text transform="translate(778.3,729.1) scale(0.97,1)" font-size="15.6" text-anchor="middle" font-weight="normal" font-style="normal" >6</text>
<line x1="816.4" y1="708.7" x2="816.4" y2="704.2" stroke="#000" stroke-width="2"/>
<line x1="854.5" y1="708.7" x2="854.5" y2="700.7" stroke="#000" stroke-width="2"/>
<text transform="translate(854.5,729.1) scale(0.97,1)" font-size="15.6" text-anchor="middle" font-weight="normal" font-style="normal" >8</text>
<line x1="892.6" y1="708.7" x2="892.6" y2="704.2" stroke="#000" stroke-width="2"/>
<line x1="930.7" y1="708.7" x2="930.7" y2="700.7" stroke="#000" stroke-width="2"/>
<text transform="translate(930.7,729.1) scale(0.97,1)" font-size="15.6" text-anchor="middle" font-weight="normal" font-style="normal" >10</text>
<line x1="968.8" y1="708.7" x2="968.8" y2="704.2" stroke="#000" stroke-width="2"/>
<line x1="1006.9" y1="708.7" x2="1006.9" y2="700.7" stroke="#000" stroke-width="2"/>
<text transform="translate(1006.9,729.1) scale(0.97,1)" font-size="15.6" text-anchor="middle" font-weight="normal" font-style="normal" >12</text>
<text transform="translate(567,431.8) scale(0.98,1)" font-size="20" text-anchor="start" font-weight="bold" font-style="normal" >B2</text>
<text x="775" y="744.7" font-size="16.3" text-anchor="middle" word-spacing="1.5">days <tspan font-style="italic">in vitro</tspan></text>
<text transform="translate(523,558) rotate(-90)" font-size="16" text-anchor="middle">C<tspan font-size="11" dy="5.5">PK</tspan><tspan dy="-5.5"> / nF</tspan></text>
</svg>
</body></html>
